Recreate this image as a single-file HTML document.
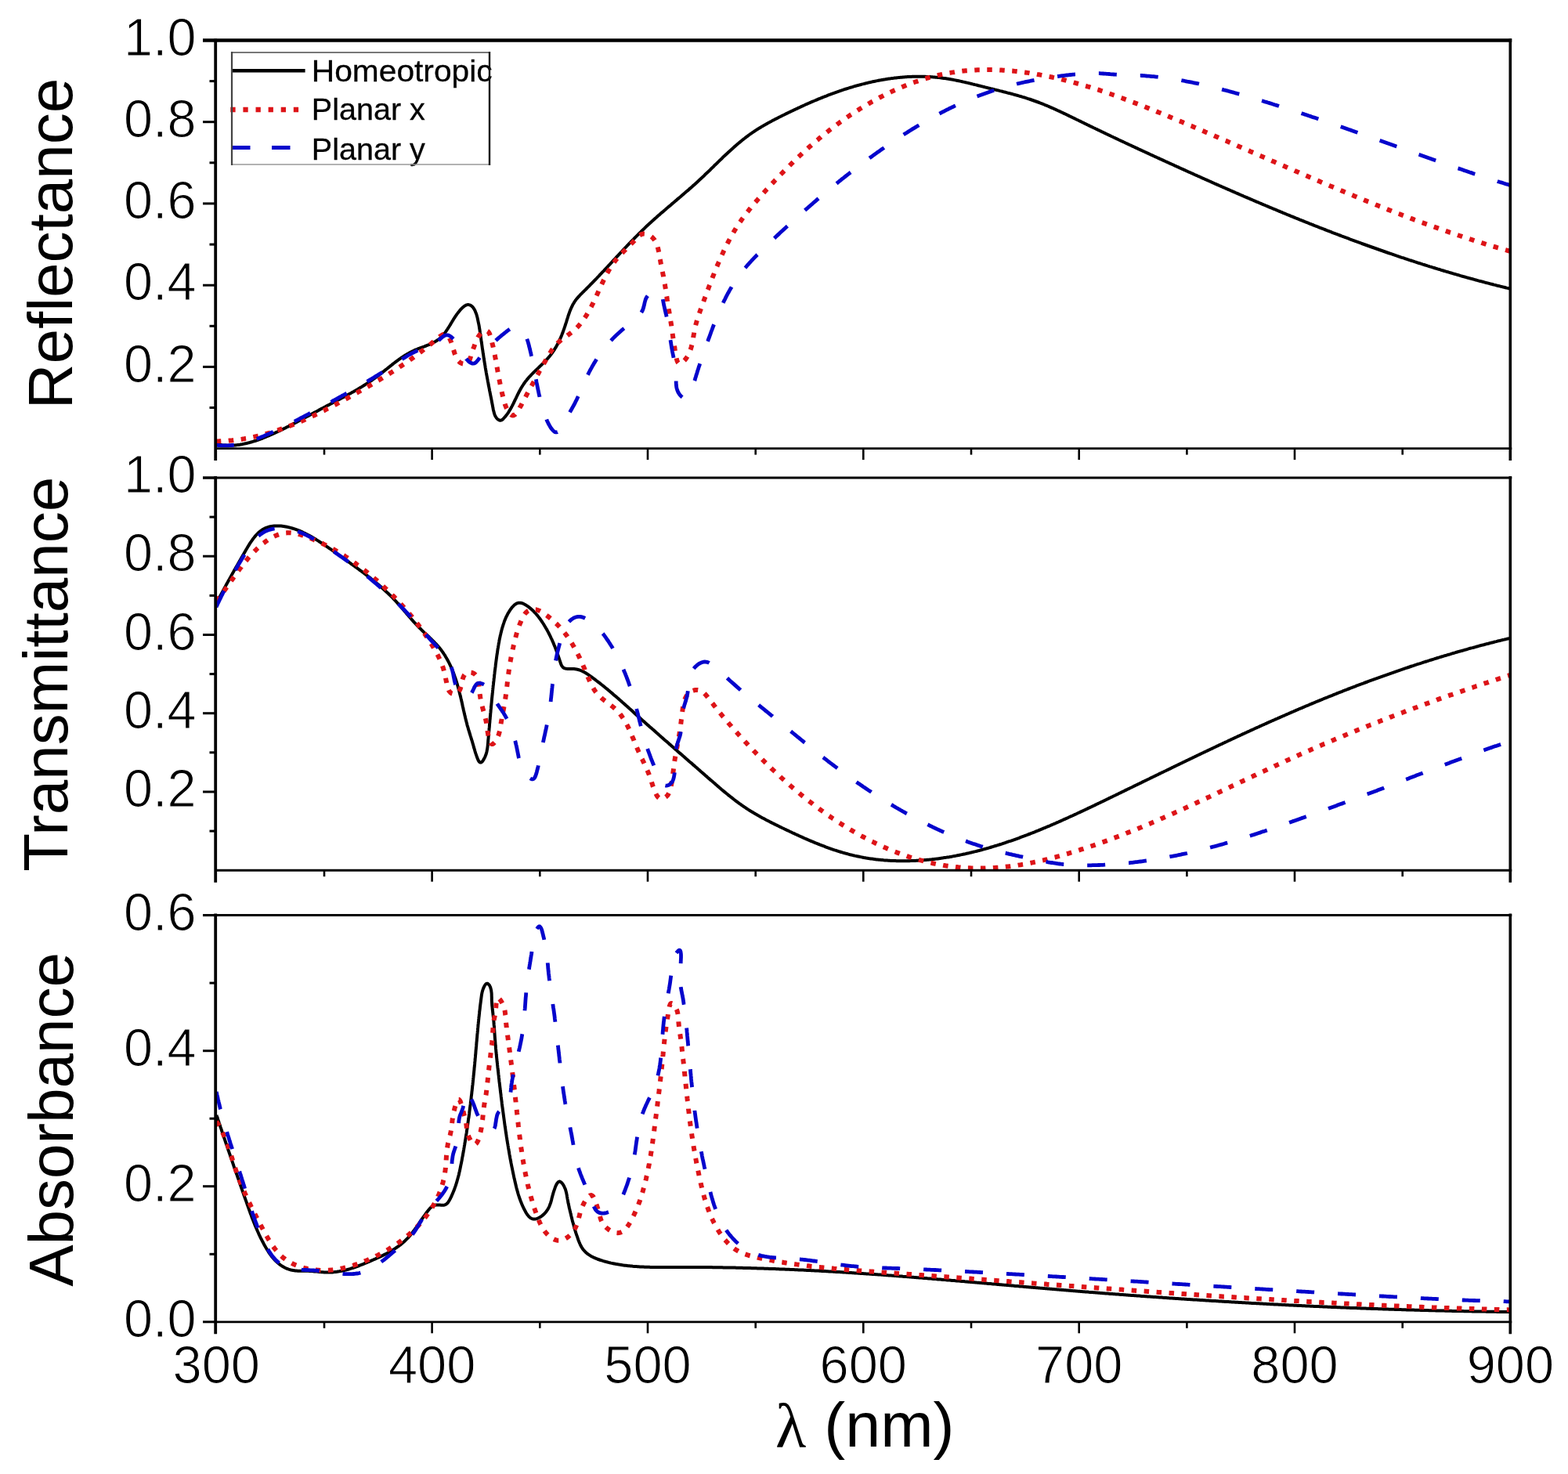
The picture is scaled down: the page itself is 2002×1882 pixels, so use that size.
<!DOCTYPE html>
<html><head><meta charset="utf-8"><title>Reflectance, Transmittance, Absorbance spectra</title>
<style>html,body{margin:0;padding:0;background:#fff;}svg{display:block;}text{font-family:"Liberation Sans",Arial,sans-serif;fill:#000;}.tl{stroke:#fff;stroke-width:1.1px;}.lg{stroke:#000;stroke-width:0.3px;}</style></head><body>
<svg xmlns="http://www.w3.org/2000/svg" width="2002" height="1882" viewBox="0 0 2002 1882">
<rect width="2002" height="1882" fill="#fff"/>
<path d="M275.9,567.1L277.4,567.4L279.0,567.6L280.6,567.9L282.1,568.1L283.7,568.3L285.2,568.4L286.7,568.5L288.3,568.6L289.8,568.7L291.3,568.7L292.8,568.7L294.3,568.7L295.8,568.6L297.3,568.6L298.8,568.5L300.3,568.4L301.8,568.2L303.3,568.1L304.7,567.9L306.2,567.7L307.6,567.4L309.1,567.2L310.6,566.9L312.0,566.6L313.4,566.3L314.9,566.0L316.3,565.6L317.8,565.3L319.2,564.9L320.6,564.5L322.0,564.1L323.4,563.7L324.8,563.2L326.3,562.8L327.7,562.3L329.1,561.8L330.5,561.3L331.9,560.8L333.2,560.3L334.6,559.8L336.0,559.2L337.4,558.7L338.8,558.1L340.2,557.5L341.5,557.0L342.9,556.4L344.3,555.8L345.6,555.2L347.0,554.6L348.4,554.0L349.7,553.4L351.1,552.7L352.4,552.1L353.8,551.5L355.1,550.9L356.5,550.2L357.8,549.6L359.2,548.9L360.5,548.3L361.9,547.6L363.2,546.9L364.6,546.3L365.9,545.6L367.2,544.9L368.6,544.3L369.9,543.6L371.2,542.9L372.6,542.2L373.9,541.5L375.2,540.8L376.6,540.1L377.9,539.4L379.2,538.7L380.5,538.0L381.9,537.3L383.2,536.6L384.5,535.9L385.8,535.2L387.2,534.5L388.5,533.8L389.8,533.1L391.1,532.3L392.4,531.6L393.8,530.9L395.1,530.2L396.4,529.5L397.7,528.8L399.1,528.0L400.4,527.3L401.7,526.6L403.0,525.9L404.4,525.2L405.7,524.5L407.0,523.8L408.3,523.0L409.6,522.3L411.0,521.6L412.3,520.9L413.6,520.2L415.0,519.5L416.3,518.8L417.6,518.1L418.9,517.4L420.3,516.7L421.6,516.0L422.9,515.3L424.3,514.6L425.6,513.9L426.9,513.2L428.3,512.5L429.6,511.8L430.9,511.1L432.2,510.4L433.6,509.7L434.9,509.0L436.2,508.3L437.6,507.6L438.9,506.9L440.2,506.2L441.5,505.5L442.8,504.8L444.1,504.0L445.5,503.3L446.8,502.6L448.1,501.9L449.4,501.1L450.7,500.4L452.0,499.7L453.3,498.9L454.6,498.2L455.9,497.4L457.2,496.7L458.4,495.9L459.7,495.1L461.0,494.4L462.3,493.6L463.6,492.8L464.8,492.0L466.1,491.2L467.3,490.4L468.6,489.6L469.9,488.8L471.1,488.0L472.3,487.1L473.6,486.3L474.8,485.5L476.0,484.6L477.3,483.7L478.5,482.9L479.7,482.0L480.9,481.1L482.1,480.2L483.3,479.3L484.5,478.4L485.7,477.5L486.8,476.6L488.0,475.6L489.2,474.7L490.4,473.8L491.5,472.8L492.7,471.9L493.9,471.0L495.1,470.0L496.2,469.1L497.4,468.2L498.6,467.2L499.8,466.3L500.9,465.4L502.1,464.4L503.3,463.5L504.5,462.6L505.7,461.7L506.9,460.8L508.1,459.9L509.3,459.0L510.5,458.2L511.7,457.3L513.0,456.5L514.2,455.6L515.5,454.8L516.7,454.0L518.0,453.2L519.3,452.5L520.5,451.7L521.8,451.0L523.2,450.2L524.5,449.5L525.8,448.9L527.2,448.2L528.5,447.6L529.9,446.9L531.3,446.3L532.7,445.8L534.1,445.2L535.5,444.7L537.0,444.1L538.4,443.6L539.8,443.1L541.3,442.6L542.7,442.0L544.1,441.5L545.5,440.9L546.9,440.4L548.3,439.8L549.7,439.2L551.1,438.6L552.4,438.0L553.7,437.3L555.0,436.6L556.3,435.8L557.5,435.1L558.7,434.2L559.9,433.4L561.1,432.5L562.2,431.5L563.2,430.5L564.3,429.4L565.3,428.3L566.2,427.2L567.2,426.0L568.1,424.9L569.0,423.7L569.9,422.4L570.7,421.2L571.5,420.0L572.3,418.7L573.1,417.5L573.9,416.2L574.7,415.0L575.4,413.7L576.1,412.5L576.9,411.2L577.6,410.0L578.4,408.8L579.1,407.5L579.9,406.3L580.7,405.1L581.5,403.9L582.4,402.6L583.2,401.4L584.2,400.1L585.1,398.9L586.1,397.7L587.1,396.4L588.2,395.2L589.4,393.9L590.5,392.8L591.8,391.7L593.0,390.7L594.3,390.0L595.6,389.4L596.9,389.1L598.3,389.1L599.6,389.4L600.9,389.9L602.1,390.7L603.3,391.8L604.3,393.0L605.2,394.3L606.0,395.7L606.7,397.2L607.3,398.7L607.9,400.2L608.4,401.6L608.8,403.1L609.2,404.6L609.6,406.0L609.9,407.5L610.2,408.9L610.5,410.4L610.8,411.8L611.1,413.2L611.4,414.7L611.7,416.1L611.9,417.6L612.1,419.0L612.4,420.5L612.6,421.9L612.8,423.4L613.0,424.8L613.3,426.3L613.5,427.8L613.7,429.2L613.9,430.7L614.1,432.2L614.3,433.7L614.5,435.2L614.7,436.7L615.0,438.2L615.2,439.7L615.4,441.2L615.6,442.7L615.8,444.2L616.0,445.7L616.3,447.2L616.5,448.7L616.7,450.2L616.9,451.7L617.2,453.2L617.4,454.7L617.6,456.2L617.8,457.7L618.1,459.2L618.3,460.7L618.5,462.2L618.8,463.7L619.0,465.2L619.3,466.6L619.5,468.1L619.7,469.6L620.0,471.0L620.2,472.5L620.5,473.9L620.7,475.3L621.0,476.8L621.2,478.2L621.5,479.6L621.8,481.1L622.0,482.5L622.3,483.9L622.6,485.3L622.8,486.8L623.1,488.2L623.4,489.6L623.6,491.0L623.9,492.5L624.2,493.9L624.5,495.4L624.8,496.8L625.0,498.3L625.3,499.7L625.6,501.2L625.9,502.7L626.2,504.1L626.5,505.6L626.8,507.1L627.1,508.7L627.4,510.2L627.7,511.7L628.0,513.3L628.3,514.8L628.6,516.4L628.9,518.0L629.2,519.6L629.5,521.2L629.8,522.9L630.2,524.5L630.6,526.1L631.0,527.7L631.5,529.2L632.1,530.6L632.8,532.0L633.6,533.2L634.5,534.4L635.5,535.4L636.7,536.2L637.9,536.7L639.1,536.8L640.3,536.4L641.5,535.7L642.6,534.7L643.7,533.5L644.7,532.3L645.8,531.1L646.7,529.9L647.7,528.6L648.6,527.3L649.4,526.1L650.2,524.7L651.0,523.4L651.8,522.1L652.6,520.8L653.3,519.4L654.0,518.1L654.7,516.7L655.4,515.4L656.1,514.0L656.7,512.6L657.4,511.3L658.0,509.9L658.7,508.6L659.3,507.2L660.0,505.8L660.6,504.5L661.3,503.1L662.0,501.8L662.6,500.5L663.3,499.2L664.1,497.8L664.8,496.5L665.5,495.3L666.3,494.0L667.1,492.7L667.9,491.5L668.7,490.2L669.6,489.0L670.4,487.8L671.3,486.6L672.3,485.5L673.2,484.3L674.2,483.1L675.1,482.0L676.1,480.9L677.2,479.8L678.2,478.7L679.3,477.6L680.3,476.5L681.4,475.5L682.5,474.4L683.6,473.3L684.7,472.3L685.8,471.2L686.9,470.2L688.0,469.1L689.1,468.1L690.1,467.0L691.2,466.0L692.3,464.9L693.4,463.8L694.5,462.8L695.5,461.7L696.6,460.6L697.6,459.5L698.6,458.4L699.6,457.3L700.6,456.2L701.6,455.0L702.5,453.9L703.4,452.7L704.3,451.5L705.2,450.3L706.0,449.1L706.9,447.9L707.7,446.7L708.4,445.4L709.2,444.2L710.0,442.9L710.7,441.6L711.4,440.3L712.1,439.0L712.8,437.7L713.4,436.4L714.1,435.0L714.7,433.7L715.3,432.3L715.9,431.0L716.5,429.6L717.1,428.2L717.6,426.8L718.2,425.4L718.7,424.0L719.2,422.6L719.7,421.2L720.2,419.8L720.7,418.3L721.2,416.9L721.7,415.5L722.1,414.0L722.6,412.6L723.1,411.1L723.5,409.7L724.0,408.2L724.4,406.8L724.9,405.3L725.3,403.9L725.8,402.4L726.3,401.0L726.8,399.6L727.3,398.2L727.8,396.8L728.4,395.4L729.0,394.0L729.6,392.7L730.2,391.4L730.9,390.0L731.5,388.7L732.3,387.5L733.0,386.2L733.8,385.0L734.6,383.8L735.5,382.6L736.4,381.4L737.4,380.3L738.4,379.2L739.4,378.1L740.4,377.0L741.4,375.9L742.5,374.8L743.5,373.8L744.6,372.7L745.7,371.7L746.8,370.6L747.8,369.6L748.9,368.5L750.0,367.4L751.0,366.4L752.1,365.3L753.2,364.2L754.2,363.1L755.3,362.1L756.3,361.0L757.4,359.9L758.4,358.8L759.5,357.8L760.5,356.7L761.6,355.6L762.6,354.5L763.6,353.4L764.7,352.3L765.7,351.2L766.7,350.1L767.8,349.0L768.8,347.9L769.8,346.9L770.9,345.8L771.9,344.7L772.9,343.6L773.9,342.5L775.0,341.4L776.0,340.3L777.0,339.2L778.0,338.1L779.1,337.0L780.1,335.9L781.1,334.8L782.1,333.7L783.1,332.6L784.2,331.5L785.2,330.4L786.2,329.3L787.2,328.2L788.2,327.1L789.3,326.0L790.3,324.9L791.3,323.8L792.3,322.7L793.4,321.6L794.4,320.5L795.4,319.4L796.4,318.3L797.5,317.2L798.5,316.2L799.5,315.1L800.5,314.0L801.6,312.9L802.6,311.8L803.6,310.7L804.7,309.7L805.7,308.6L806.8,307.5L807.8,306.4L808.9,305.4L809.9,304.3L810.9,303.2L812.0,302.2L813.1,301.1L814.1,300.1L815.2,299.0L816.2,298.0L817.3,296.9L818.4,295.9L819.4,294.8L820.5,293.8L821.6,292.7L822.7,291.7L823.7,290.7L824.8,289.6L825.9,288.6L827.0,287.6L828.1,286.6L829.2,285.6L830.3,284.6L831.4,283.5L832.5,282.5L833.6,281.5L834.7,280.5L835.8,279.5L836.9,278.5L838.1,277.6L839.2,276.6L840.3,275.6L841.4,274.6L842.6,273.6L843.7,272.6L844.8,271.6L846.0,270.7L847.1,269.7L848.2,268.7L849.4,267.7L850.5,266.7L851.6,265.8L852.8,264.8L853.9,263.8L855.1,262.9L856.2,261.9L857.3,260.9L858.5,259.9L859.6,259.0L860.8,258.0L861.9,257.0L863.0,256.1L864.2,255.1L865.3,254.1L866.5,253.1L867.6,252.2L868.8,251.2L869.9,250.2L871.0,249.2L872.2,248.3L873.3,247.3L874.5,246.3L875.6,245.3L876.7,244.3L877.9,243.4L879.0,242.4L880.1,241.4L881.3,240.4L882.4,239.4L883.5,238.4L884.6,237.4L885.8,236.4L886.9,235.4L888.0,234.4L889.1,233.4L890.2,232.4L891.3,231.4L892.5,230.3L893.6,229.3L894.7,228.3L895.8,227.3L896.9,226.2L898.0,225.2L899.1,224.2L900.1,223.1L901.2,222.1L902.3,221.1L903.4,220.0L904.5,219.0L905.6,217.9L906.7,216.9L907.7,215.8L908.8,214.8L909.9,213.7L911.0,212.7L912.0,211.6L913.1,210.6L914.2,209.5L915.3,208.5L916.4,207.4L917.4,206.4L918.5,205.3L919.6,204.3L920.7,203.2L921.8,202.2L922.8,201.1L923.9,200.1L925.0,199.1L926.1,198.0L927.2,197.0L928.3,196.0L929.4,195.0L930.5,193.9L931.6,192.9L932.7,191.9L933.8,190.9L934.9,189.9L936.0,188.9L937.1,187.9L938.3,186.9L939.4,185.9L940.5,185.0L941.6,184.0L942.8,183.0L943.9,182.1L945.1,181.1L946.2,180.2L947.4,179.2L948.5,178.3L949.7,177.4L950.9,176.5L952.0,175.6L953.2,174.7L954.4,173.8L955.6,172.9L956.8,172.0L958.0,171.1L959.2,170.3L960.5,169.4L961.7,168.6L962.9,167.8L964.2,167.0L965.4,166.1L966.7,165.3L967.9,164.5L969.2,163.8L970.5,163.0L971.8,162.2L973.0,161.4L974.3,160.7L975.6,159.9L976.9,159.2L978.2,158.5L979.5,157.7L980.8,157.0L982.2,156.3L983.5,155.6L984.8,154.9L986.1,154.1L987.4,153.4L988.8,152.8L990.1,152.1L991.4,151.4L992.8,150.7L994.1,150.0L995.5,149.3L996.8,148.7L998.1,148.0L999.5,147.3L1000.8,146.7L1002.2,146.0L1003.5,145.3L1004.9,144.7L1006.2,144.0L1007.6,143.4L1008.9,142.7L1010.3,142.1L1011.6,141.4L1013.0,140.8L1014.4,140.1L1015.7,139.5L1017.1,138.9L1018.4,138.2L1019.8,137.6L1021.2,137.0L1022.5,136.3L1023.9,135.7L1025.2,135.1L1026.6,134.5L1028.0,133.8L1029.3,133.2L1030.7,132.6L1032.1,132.0L1033.5,131.4L1034.8,130.8L1036.2,130.2L1037.6,129.6L1039.0,129.0L1040.3,128.5L1041.7,127.9L1043.1,127.3L1044.5,126.7L1045.9,126.1L1047.2,125.6L1048.6,125.0L1050.0,124.5L1051.4,123.9L1052.8,123.4L1054.2,122.8L1055.6,122.3L1057.0,121.7L1058.4,121.2L1059.8,120.7L1061.2,120.1L1062.6,119.6L1064.0,119.1L1065.4,118.6L1066.8,118.1L1068.2,117.6L1069.6,117.1L1071.0,116.6L1072.4,116.1L1073.9,115.6L1075.3,115.1L1076.7,114.7L1078.1,114.2L1079.5,113.7L1081.0,113.3L1082.4,112.8L1083.8,112.4L1085.3,111.9L1086.7,111.5L1088.1,111.1L1089.6,110.6L1091.0,110.2L1092.5,109.8L1093.9,109.4L1095.4,109.0L1096.8,108.6L1098.3,108.2L1099.7,107.8L1101.2,107.4L1102.6,107.1L1104.1,106.7L1105.5,106.3L1107.0,106.0L1108.5,105.6L1109.9,105.3L1111.4,105.0L1112.8,104.6L1114.3,104.3L1115.8,104.0L1117.3,103.7L1118.7,103.4L1120.2,103.1L1121.7,102.8L1123.2,102.5L1124.6,102.3L1126.1,102.0L1127.6,101.7L1129.1,101.5L1130.5,101.3L1132.0,101.0L1133.5,100.8L1135.0,100.6L1136.5,100.4L1138.0,100.1L1139.5,99.9L1140.9,99.8L1142.4,99.6L1143.9,99.4L1145.4,99.2L1146.9,99.1L1148.4,98.9L1149.9,98.8L1151.4,98.7L1152.9,98.5L1154.3,98.4L1155.8,98.3L1157.3,98.2L1158.8,98.1L1160.3,98.0L1161.8,98.0L1163.3,97.9L1164.8,97.8L1166.3,97.8L1167.8,97.7L1169.3,97.7L1170.8,97.7L1172.3,97.7L1173.8,97.7L1175.2,97.7L1176.7,97.7L1178.2,97.7L1179.7,97.8L1181.2,97.8L1182.7,97.9L1184.2,97.9L1185.7,98.0L1187.2,98.1L1188.7,98.2L1190.2,98.3L1191.6,98.4L1193.1,98.5L1194.6,98.7L1196.1,98.8L1197.6,99.0L1199.1,99.1L1200.6,99.3L1202.0,99.5L1203.5,99.7L1205.0,99.9L1206.5,100.1L1208.0,100.3L1209.4,100.6L1210.9,100.8L1212.4,101.0L1213.9,101.3L1215.4,101.6L1216.8,101.8L1218.3,102.1L1219.8,102.4L1221.3,102.7L1222.7,103.0L1224.2,103.3L1225.7,103.6L1227.1,103.9L1228.6,104.3L1230.1,104.6L1231.6,104.9L1233.0,105.3L1234.5,105.6L1236.0,105.9L1237.4,106.3L1238.9,106.6L1240.4,107.0L1241.8,107.4L1243.3,107.7L1244.8,108.1L1246.2,108.4L1247.7,108.8L1249.2,109.2L1250.6,109.5L1252.1,109.9L1253.5,110.3L1255.0,110.6L1256.5,111.0L1257.9,111.4L1259.4,111.7L1260.8,112.1L1262.3,112.5L1263.8,112.8L1265.2,113.2L1266.7,113.5L1268.1,113.9L1269.6,114.3L1271.1,114.6L1272.5,115.0L1274.0,115.3L1275.4,115.7L1276.9,116.1L1278.3,116.4L1279.8,116.8L1281.2,117.2L1282.7,117.5L1284.2,117.9L1285.6,118.3L1287.0,118.7L1288.5,119.0L1289.9,119.4L1291.4,119.8L1292.8,120.2L1294.3,120.6L1295.7,121.0L1297.1,121.4L1298.6,121.8L1300.0,122.2L1301.4,122.6L1302.9,123.0L1304.3,123.4L1305.7,123.9L1307.2,124.3L1308.6,124.7L1310.0,125.2L1311.4,125.6L1312.8,126.1L1314.3,126.5L1315.7,127.0L1317.1,127.5L1318.5,128.0L1319.9,128.5L1321.3,129.0L1322.7,129.5L1324.1,130.0L1325.5,130.5L1326.9,131.0L1328.3,131.6L1329.7,132.1L1331.1,132.7L1332.5,133.2L1333.8,133.8L1335.2,134.4L1336.6,134.9L1338.0,135.5L1339.4,136.1L1340.7,136.7L1342.1,137.3L1343.5,137.9L1344.9,138.5L1346.2,139.1L1347.6,139.7L1349.0,140.4L1350.3,141.0L1351.7,141.6L1353.1,142.2L1354.4,142.9L1355.8,143.5L1357.1,144.2L1358.5,144.8L1359.9,145.4L1361.2,146.1L1362.6,146.7L1363.9,147.4L1365.3,148.1L1366.6,148.7L1368.0,149.4L1369.3,150.0L1370.7,150.7L1372.1,151.3L1373.4,152.0L1374.8,152.7L1376.1,153.3L1377.5,154.0L1378.8,154.6L1380.2,155.3L1381.5,156.0L1382.9,156.6L1384.2,157.3L1385.6,157.9L1386.9,158.6L1388.3,159.3L1389.6,159.9L1391.0,160.6L1392.3,161.2L1393.7,161.9L1395.0,162.5L1396.4,163.2L1397.7,163.8L1399.1,164.5L1400.4,165.1L1401.8,165.8L1403.2,166.4L1404.5,167.1L1405.9,167.7L1407.2,168.4L1408.6,169.0L1409.9,169.7L1411.3,170.3L1412.6,171.0L1414.0,171.6L1415.3,172.2L1416.7,172.9L1418.0,173.5L1419.4,174.2L1420.7,174.8L1422.1,175.5L1423.5,176.1L1424.8,176.7L1426.2,177.4L1427.5,178.0L1428.9,178.7L1430.2,179.3L1431.6,179.9L1432.9,180.6L1434.3,181.2L1435.6,181.8L1437.0,182.5L1438.4,183.1L1439.7,183.7L1441.1,184.4L1442.4,185.0L1443.8,185.6L1445.1,186.3L1446.5,186.9L1447.9,187.5L1449.2,188.2L1450.6,188.8L1451.9,189.4L1453.3,190.1L1454.6,190.7L1456.0,191.3L1457.4,191.9L1458.7,192.6L1460.1,193.2L1461.4,193.8L1462.8,194.4L1464.1,195.1L1465.5,195.7L1466.9,196.3L1468.2,197.0L1469.6,197.6L1470.9,198.2L1472.3,198.8L1473.7,199.5L1475.0,200.1L1476.4,200.7L1477.7,201.3L1479.1,201.9L1480.5,202.6L1481.8,203.2L1483.2,203.8L1484.5,204.4L1485.9,205.1L1487.3,205.7L1488.6,206.3L1490.0,206.9L1491.3,207.5L1492.7,208.2L1494.1,208.8L1495.4,209.4L1496.8,210.0L1498.2,210.6L1499.5,211.3L1500.9,211.9L1502.2,212.5L1503.6,213.1L1505.0,213.7L1506.3,214.4L1507.7,215.0L1509.1,215.6L1510.4,216.2L1511.8,216.8L1513.2,217.4L1514.5,218.1L1515.9,218.7L1517.2,219.3L1518.6,219.9L1520.0,220.5L1521.3,221.1L1522.7,221.7L1524.1,222.4L1525.4,223.0L1526.8,223.6L1528.2,224.2L1529.5,224.8L1530.9,225.4L1532.3,226.0L1533.6,226.6L1535.0,227.3L1536.4,227.9L1537.8,228.5L1539.1,229.1L1540.5,229.7L1541.9,230.3L1543.2,230.9L1544.6,231.5L1546.0,232.1L1547.3,232.7L1548.7,233.4L1550.1,234.0L1551.4,234.6L1552.8,235.2L1554.2,235.8L1555.6,236.4L1556.9,237.0L1558.3,237.6L1559.7,238.2L1561.0,238.8L1562.4,239.4L1563.8,240.0L1565.2,240.6L1566.5,241.2L1567.9,241.8L1569.3,242.4L1570.7,243.0L1572.0,243.6L1573.4,244.2L1574.8,244.8L1576.2,245.4L1577.5,246.0L1578.9,246.6L1580.3,247.2L1581.7,247.8L1583.0,248.4L1584.4,249.0L1585.8,249.6L1587.2,250.2L1588.5,250.8L1589.9,251.4L1591.3,252.0L1592.7,252.5L1594.0,253.1L1595.4,253.7L1596.8,254.3L1598.2,254.9L1599.6,255.5L1600.9,256.1L1602.3,256.7L1603.7,257.3L1605.1,257.9L1606.5,258.4L1607.8,259.0L1609.2,259.6L1610.6,260.2L1612.0,260.8L1613.4,261.4L1614.7,261.9L1616.1,262.5L1617.5,263.1L1618.9,263.7L1620.3,264.3L1621.7,264.9L1623.0,265.4L1624.4,266.0L1625.8,266.6L1627.2,267.2L1628.6,267.7L1630.0,268.3L1631.3,268.9L1632.7,269.5L1634.1,270.0L1635.5,270.6L1636.9,271.2L1638.3,271.8L1639.7,272.3L1641.0,272.9L1642.4,273.5L1643.8,274.1L1645.2,274.6L1646.6,275.2L1648.0,275.8L1649.4,276.3L1650.8,276.9L1652.1,277.5L1653.5,278.0L1654.9,278.6L1656.3,279.1L1657.7,279.7L1659.1,280.3L1660.5,280.8L1661.9,281.4L1663.3,282.0L1664.7,282.5L1666.1,283.1L1667.4,283.6L1668.8,284.2L1670.2,284.7L1671.6,285.3L1673.0,285.8L1674.4,286.4L1675.8,287.0L1677.2,287.5L1678.6,288.1L1680.0,288.6L1681.4,289.2L1682.8,289.7L1684.2,290.3L1685.6,290.8L1687.0,291.3L1688.4,291.9L1689.8,292.4L1691.2,293.0L1692.6,293.5L1693.9,294.1L1695.3,294.6L1696.7,295.1L1698.1,295.7L1699.5,296.2L1700.9,296.8L1702.3,297.3L1703.7,297.8L1705.1,298.4L1706.5,298.9L1707.9,299.4L1709.3,300.0L1710.7,300.5L1712.1,301.0L1713.6,301.6L1715.0,302.1L1716.4,302.6L1717.8,303.2L1719.2,303.7L1720.6,304.2L1722.0,304.7L1723.4,305.3L1724.8,305.8L1726.2,306.3L1727.6,306.8L1729.0,307.3L1730.4,307.9L1731.8,308.4L1733.2,308.9L1734.6,309.4L1736.0,309.9L1737.4,310.4L1738.8,311.0L1740.3,311.5L1741.7,312.0L1743.1,312.5L1744.5,313.0L1745.9,313.5L1747.3,314.0L1748.7,314.5L1750.1,315.0L1751.5,315.5L1752.9,316.0L1754.4,316.5L1755.8,317.0L1757.2,317.5L1758.6,318.0L1760.0,318.5L1761.4,319.0L1762.8,319.5L1764.3,320.0L1765.7,320.5L1767.1,321.0L1768.5,321.5L1769.9,322.0L1771.3,322.5L1772.7,323.0L1774.2,323.5L1775.6,323.9L1777.0,324.4L1778.4,324.9L1779.8,325.4L1781.3,325.9L1782.7,326.4L1784.1,326.8L1785.5,327.3L1786.9,327.8L1788.3,328.3L1789.8,328.8L1791.2,329.2L1792.6,329.7L1794.0,330.2L1795.5,330.6L1796.9,331.1L1798.3,331.6L1799.7,332.1L1801.2,332.5L1802.6,333.0L1804.0,333.4L1805.4,333.9L1806.8,334.4L1808.3,334.8L1809.7,335.3L1811.1,335.8L1812.6,336.2L1814.0,336.7L1815.4,337.1L1816.8,337.6L1818.3,338.0L1819.7,338.5L1821.1,338.9L1822.6,339.4L1824.0,339.8L1825.4,340.3L1826.8,340.7L1828.3,341.2L1829.7,341.6L1831.1,342.0L1832.6,342.5L1834.0,342.9L1835.4,343.4L1836.9,343.8L1838.3,344.2L1839.7,344.7L1841.2,345.1L1842.6,345.5L1844.0,346.0L1845.5,346.4L1846.9,346.8L1848.4,347.2L1849.8,347.7L1851.2,348.1L1852.7,348.5L1854.1,348.9L1855.5,349.4L1857.0,349.8L1858.4,350.2L1859.9,350.6L1861.3,351.0L1862.7,351.4L1864.2,351.9L1865.6,352.3L1867.1,352.7L1868.5,353.1L1870.0,353.5L1871.4,353.9L1872.8,354.3L1874.3,354.7L1875.7,355.1L1877.2,355.5L1878.6,355.9L1880.1,356.3L1881.5,356.7L1883.0,357.1L1884.4,357.5L1885.9,357.9L1887.3,358.3L1888.7,358.7L1890.2,359.0L1891.6,359.4L1893.1,359.8L1894.5,360.2L1896.0,360.6L1897.4,361.0L1898.9,361.3L1900.3,361.7L1901.8,362.1L1903.3,362.5L1904.7,362.8L1906.2,363.2L1907.6,363.6L1909.1,363.9L1910.5,364.3L1912.0,364.7L1913.4,365.0L1914.9,365.4L1916.3,365.8L1917.8,366.1L1919.3,366.5L1920.7,366.8L1922.2,367.2L1923.6,367.6L1925.1,367.9L1926.6,368.3L1928.0,368.6" fill="none" stroke="#000" stroke-width="4.0" stroke-linejoin="round"/>
<path d="M275.8,563.4L277.4,563.4L278.9,563.4L280.4,563.3L282.0,563.3L283.5,563.2L285.0,563.1L286.5,563.1L288.0,563.0L289.5,562.9L291.1,562.8L292.6,562.6L294.1,562.5L295.6,562.4L297.1,562.2L298.6,562.0L300.1,561.9L301.6,561.7L303.0,561.5L304.5,561.3L306.0,561.1L307.5,560.9L309.0,560.7L310.5,560.4L311.9,560.2L313.4,559.9L314.9,559.7L316.4,559.4L317.8,559.1L319.3,558.8L320.8,558.5L322.2,558.2L323.7,557.9L325.1,557.6L326.6,557.3L328.0,556.9L329.5,556.6L330.9,556.3L332.4,555.9L333.8,555.5L335.3,555.2L336.7,554.8L338.1,554.4L339.6,554.0L341.0,553.6L342.4,553.2L343.9,552.8L345.3,552.3L346.7,551.9L348.1,551.5L349.6,551.0L351.0,550.6L352.4,550.1L353.8,549.6L355.2,549.2L356.6,548.7L358.1,548.2L359.5,547.7L360.9,547.2L362.3,546.7L363.7,546.2L365.1,545.7L366.5,545.1L367.9,544.6L369.3,544.1L370.7,543.5L372.1,543.0L373.4,542.5L374.8,541.9L376.2,541.3L377.6,540.8L379.0,540.2L380.4,539.6L381.8,539.0L383.1,538.5L384.5,537.9L385.9,537.3L387.3,536.7L388.6,536.1L390.0,535.5L391.4,534.8L392.7,534.2L394.1,533.6L395.5,533.0L396.8,532.3L398.2,531.7L399.5,531.1L400.9,530.4L402.3,529.8L403.6,529.1L405.0,528.5L406.3,527.8L407.7,527.2L409.0,526.5L410.4,525.8L411.7,525.1L413.1,524.5L414.4,523.8L415.7,523.1L417.1,522.4L418.4,521.7L419.8,521.1L421.1,520.4L422.4,519.7L423.8,519.0L425.1,518.3L426.4,517.6L427.8,516.9L429.1,516.2L430.4,515.4L431.8,514.7L433.1,514.0L434.4,513.3L435.7,512.6L437.1,511.9L438.4,511.2L439.7,510.4L441.0,509.7L442.3,509.0L443.7,508.3L445.0,507.5L446.3,506.8L447.6,506.1L448.9,505.3L450.2,504.6L451.5,503.9L452.8,503.1L454.2,502.4L455.5,501.7L456.8,500.9L458.1,500.2L459.4,499.5L460.7,498.7L462.0,498.0L463.3,497.2L464.6,496.5L465.9,495.7L467.2,495.0L468.5,494.3L469.8,493.5L471.1,492.8L472.4,492.0L473.7,491.3L475.0,490.5L476.2,489.7L477.5,489.0L478.8,488.2L480.1,487.5L481.4,486.7L482.7,485.9L484.0,485.2L485.2,484.4L486.5,483.6L487.8,482.9L489.1,482.1L490.3,481.3L491.6,480.5L492.9,479.7L494.2,478.9L495.4,478.2L496.7,477.4L497.9,476.6L499.2,475.8L500.5,475.0L501.7,474.2L503.0,473.4L504.2,472.5L505.5,471.7L506.7,470.9L508.0,470.1L509.2,469.3L510.5,468.4L511.7,467.6L513.0,466.8L514.2,465.9L515.4,465.1L516.7,464.3L517.9,463.4L519.1,462.6L520.4,461.7L521.6,460.8L522.8,460.0L524.0,459.1L525.3,458.2L526.5,457.4L527.7,456.5L528.9,455.6L530.1,454.7L531.3,453.8L532.5,452.9L533.7,452.0L534.9,451.1L536.1,450.2L537.3,449.3L538.5,448.4L539.7,447.5L540.9,446.5L542.0,445.6L543.2,444.7L544.4,443.8L545.6,442.8L546.7,441.9L547.9,441.0L549.0,440.0L550.2,439.1L551.3,438.1L552.5,437.1L553.7,436.2L554.9,435.2L556.1,434.1L557.3,433.1L558.6,432.0L560.0,430.9L561.3,429.8L562.6,428.9L564.0,428.0L565.3,427.3L566.5,426.9L567.8,426.7L568.9,426.8L570.0,427.2L571.0,427.9L572.0,428.9L572.9,430.1L573.7,431.4L574.4,432.9L575.1,434.5L575.8,436.1L576.4,437.8L576.9,439.4L577.4,441.0L577.9,442.5L578.3,444.0L578.7,445.5L579.2,447.0L579.6,448.4L580.0,449.8L580.5,451.3L581.0,452.8L581.6,454.3L582.2,455.8L582.9,457.2L583.7,458.6L584.5,459.9L585.5,461.1L586.6,462.2L587.8,463.1L589.2,463.8L590.6,464.4L592.0,464.7L593.5,464.8L594.9,464.6L596.1,464.1L597.2,463.4L598.1,462.4L598.8,461.2L599.5,459.8L600.1,458.3L600.6,456.7L601.1,455.1L601.5,453.5L602.0,451.9L602.4,450.4L602.9,449.0L603.4,447.6L603.9,446.3L604.4,444.9L604.9,443.6L605.4,442.2L605.9,440.9L606.4,439.5L606.9,438.1L607.5,436.6L608.0,435.2L608.6,433.7L609.3,432.3L610.1,430.8L611.0,429.5L611.9,428.1L613.0,426.8L614.3,425.6L615.6,424.5L616.9,423.6L618.2,422.9L619.6,422.5L620.8,422.3L621.9,422.5L622.9,423.1L623.7,423.9L624.5,425.1L625.2,426.4L625.7,427.9L626.3,429.6L626.7,431.3L627.2,433.0L627.6,434.7L628.0,436.3L628.4,438.0L628.8,439.6L629.2,441.2L629.6,442.7L629.9,444.3L630.2,445.8L630.6,447.3L630.9,448.8L631.2,450.3L631.5,451.8L631.8,453.2L632.0,454.7L632.3,456.1L632.6,457.5L632.8,458.9L633.1,460.3L633.3,461.8L633.6,463.2L633.8,464.6L634.1,466.0L634.3,467.3L634.6,468.7L634.8,470.1L635.0,471.5L635.3,472.9L635.5,474.4L635.8,475.8L636.0,477.2L636.3,478.6L636.6,480.1L636.8,481.5L637.1,483.0L637.4,484.5L637.7,485.9L638.0,487.4L638.3,488.9L638.6,490.4L638.9,491.9L639.2,493.4L639.5,494.9L639.8,496.4L640.1,497.9L640.5,499.4L640.8,500.9L641.1,502.3L641.5,503.8L641.8,505.3L642.2,506.8L642.5,508.2L642.9,509.7L643.3,511.1L643.7,512.5L644.1,514.0L644.5,515.4L645.0,516.9L645.6,518.4L646.2,519.9L646.9,521.5L647.7,523.1L648.5,524.7L649.5,526.2L650.4,527.5L651.4,528.7L652.5,529.6L653.6,530.2L654.6,530.5L655.7,530.3L656.8,529.7L657.9,528.9L658.9,527.8L659.9,526.5L660.9,525.1L661.8,523.6L662.7,522.2L663.5,520.7L664.3,519.3L665.1,518.0L665.8,516.6L666.5,515.2L667.2,513.9L667.9,512.5L668.7,511.2L669.4,509.8L670.1,508.5L670.8,507.2L671.5,505.9L672.2,504.5L672.9,503.2L673.6,501.9L674.3,500.6L675.0,499.3L675.7,498.0L676.4,496.7L677.1,495.4L677.8,494.1L678.5,492.8L679.3,491.5L680.0,490.2L680.7,488.9L681.4,487.6L682.1,486.3L682.8,485.1L683.5,483.8L684.2,482.5L684.9,481.2L685.6,479.9L686.4,478.6L687.1,477.3L687.8,476.0L688.5,474.7L689.2,473.4L690.0,472.2L690.7,470.9L691.4,469.6L692.1,468.3L692.9,466.9L693.6,465.6L694.3,464.3L695.1,463.0L695.8,461.7L696.6,460.4L697.3,459.1L698.1,457.7L698.8,456.4L699.6,455.1L700.4,453.7L701.2,452.4L702.0,451.1L702.8,449.8L703.6,448.5L704.4,447.2L705.3,446.0L706.2,444.7L707.1,443.5L708.1,442.3L709.0,441.2L710.0,440.1L711.1,439.0L712.1,437.9L713.2,436.9L714.4,435.9L715.5,435.0L716.7,434.0L717.9,433.1L719.1,432.2L720.3,431.3L721.6,430.4L722.8,429.5L724.0,428.7L725.2,427.8L726.5,426.9L727.7,426.0L728.8,425.1L730.0,424.2L731.2,423.3L732.3,422.3L733.4,421.4L734.5,420.4L735.5,419.3L736.6,418.3L737.6,417.3L738.6,416.2L739.5,415.1L740.5,414.0L741.4,412.9L742.3,411.7L743.2,410.6L744.1,409.4L744.9,408.2L745.8,407.1L746.6,405.8L747.4,404.6L748.2,403.4L749.0,402.1L749.7,400.9L750.5,399.6L751.2,398.3L752.0,397.0L752.7,395.7L753.4,394.4L754.1,393.1L754.8,391.8L755.5,390.5L756.1,389.1L756.8,387.8L757.5,386.4L758.1,385.1L758.8,383.7L759.4,382.4L760.0,381.0L760.7,379.6L761.3,378.2L761.9,376.9L762.6,375.5L763.2,374.1L763.8,372.7L764.4,371.3L765.1,370.0L765.7,368.6L766.3,367.2L767.0,365.8L767.6,364.4L768.2,363.1L768.9,361.7L769.5,360.3L770.2,359.0L770.8,357.6L771.5,356.3L772.2,354.9L772.8,353.6L773.5,352.2L774.2,350.9L774.9,349.6L775.6,348.3L776.4,347.0L777.1,345.7L777.8,344.4L778.6,343.1L779.4,341.9L780.2,340.6L781.0,339.4L781.8,338.1L782.6,336.9L783.5,335.7L784.3,334.5L785.2,333.4L786.1,332.2L787.0,331.1L788.0,329.9L788.9,328.8L789.9,327.7L790.9,326.6L791.9,325.6L792.9,324.5L794.0,323.4L795.0,322.4L796.0,321.3L797.1,320.2L798.2,319.2L799.2,318.1L800.3,317.1L801.4,316.0L802.5,314.9L803.6,313.8L804.7,312.7L805.7,311.6L806.8,310.5L807.9,309.4L809.0,308.2L810.1,307.1L811.1,305.9L812.2,304.7L813.3,303.5L814.3,302.4L815.5,301.4L816.6,300.4L817.8,299.7L819.1,299.1L820.4,298.7L821.8,298.5L823.3,298.6L824.7,298.8L826.2,299.2L827.7,299.8L829.1,300.5L830.5,301.3L831.7,302.2L832.9,303.2L833.9,304.3L834.9,305.4L835.8,306.6L836.6,307.8L837.3,309.1L837.9,310.5L838.5,311.9L839.0,313.3L839.5,314.8L839.9,316.3L840.3,317.8L840.6,319.3L841.0,320.8L841.3,322.4L841.5,323.9L841.8,325.5L842.1,327.0L842.3,328.6L842.6,330.1L842.9,331.6L843.2,333.1L843.4,334.6L843.7,336.1L844.0,337.6L844.3,339.0L844.6,340.5L844.9,341.9L845.2,343.4L845.4,344.8L845.7,346.3L846.0,347.7L846.3,349.1L846.6,350.6L846.9,352.0L847.1,353.5L847.4,354.9L847.7,356.3L847.9,357.8L848.2,359.2L848.5,360.7L848.7,362.2L849.0,363.6L849.2,365.1L849.4,366.6L849.7,368.1L849.9,369.5L850.1,371.0L850.4,372.5L850.6,374.0L850.8,375.5L851.0,377.0L851.3,378.5L851.5,380.0L851.7,381.5L851.9,383.0L852.2,384.5L852.4,386.0L852.6,387.5L852.9,389.0L853.1,390.5L853.3,392.0L853.6,393.5L853.8,395.0L854.1,396.5L854.3,398.0L854.6,399.4L854.8,400.9L855.0,402.4L855.3,403.9L855.5,405.4L855.8,406.8L856.0,408.3L856.3,409.8L856.5,411.2L856.7,412.7L857.0,414.2L857.2,415.6L857.4,417.1L857.6,418.5L857.8,420.0L858.0,421.4L858.2,422.9L858.4,424.3L858.6,425.7L858.8,427.2L859.0,428.6L859.2,430.0L859.4,431.5L859.6,432.9L859.8,434.3L860.0,435.8L860.3,437.2L860.5,438.6L860.7,440.1L861.0,441.6L861.2,443.1L861.5,444.6L861.7,446.2L862.0,447.9L862.3,449.6L862.6,451.4L862.9,453.3L863.2,455.2L863.6,457.0L864.0,458.8L864.4,460.4L865.0,461.8L865.6,463.0L866.3,463.9L867.1,464.4L868.1,464.4L869.2,464.1L870.3,463.4L871.5,462.5L872.7,461.4L873.8,460.3L874.9,459.1L875.8,457.9L876.7,456.6L877.6,455.3L878.3,454.0L879.1,452.7L879.7,451.3L880.3,449.9L880.9,448.5L881.4,447.1L881.9,445.7L882.3,444.2L882.8,442.7L883.1,441.3L883.5,439.8L883.8,438.3L884.1,436.7L884.4,435.2L884.7,433.7L885.0,432.2L885.2,430.6L885.5,429.1L885.7,427.6L886.0,426.0L886.2,424.5L886.5,423.0L886.8,421.5L887.1,420.0L887.4,418.5L887.8,417.0L888.1,415.6L888.5,414.1L888.9,412.7L889.3,411.2L889.7,409.8L890.1,408.4L890.6,406.9L891.0,405.5L891.5,404.1L891.9,402.7L892.4,401.3L892.9,399.9L893.4,398.5L893.9,397.1L894.4,395.7L894.9,394.3L895.4,392.9L895.9,391.5L896.4,390.2L896.9,388.8L897.4,387.4L897.9,386.0L898.4,384.6L898.9,383.2L899.4,381.8L899.9,380.4L900.4,379.0L901.0,377.6L901.5,376.2L902.0,374.8L902.5,373.4L903.0,372.0L903.5,370.6L904.1,369.2L904.6,367.8L905.1,366.4L905.6,365.0L906.2,363.6L906.7,362.2L907.2,360.8L907.8,359.4L908.3,358.0L908.9,356.6L909.4,355.2L909.9,353.8L910.5,352.4L911.0,351.0L911.6,349.6L912.1,348.2L912.7,346.8L913.3,345.4L913.8,344.0L914.4,342.6L915.0,341.2L915.6,339.8L916.1,338.4L916.7,337.0L917.3,335.7L917.9,334.3L918.5,332.9L919.1,331.5L919.7,330.1L920.3,328.8L920.9,327.4L921.5,326.0L922.1,324.7L922.8,323.3L923.4,321.9L924.0,320.6L924.7,319.2L925.3,317.9L926.0,316.5L926.6,315.2L927.3,313.8L928.0,312.5L928.6,311.1L929.3,309.8L930.0,308.5L930.7,307.1L931.4,305.8L932.1,304.5L932.8,303.2L933.6,301.9L934.3,300.6L935.0,299.3L935.8,298.0L936.5,296.7L937.3,295.4L938.1,294.1L938.8,292.8L939.6,291.6L940.4,290.3L941.2,289.0L942.0,287.8L942.8,286.5L943.7,285.3L944.5,284.0L945.4,282.8L946.2,281.6L947.1,280.4L947.9,279.1L948.8,277.9L949.7,276.7L950.6,275.5L951.5,274.3L952.4,273.1L953.3,271.9L954.2,270.8L955.2,269.6L956.1,268.4L957.0,267.2L958.0,266.1L958.9,264.9L959.9,263.7L960.8,262.6L961.8,261.4L962.8,260.3L963.7,259.1L964.7,258.0L965.7,256.8L966.7,255.7L967.6,254.6L968.6,253.4L969.6,252.3L970.6,251.2L971.6,250.0L972.6,248.9L973.6,247.8L974.6,246.7L975.6,245.6L976.6,244.4L977.6,243.3L978.6,242.2L979.7,241.1L980.7,240.0L981.7,238.9L982.7,237.8L983.7,236.7L984.7,235.6L985.7,234.5L986.8,233.4L987.8,232.3L988.8,231.2L989.8,230.1L990.9,229.0L991.9,227.9L992.9,226.8L994.0,225.8L995.0,224.7L996.0,223.6L997.1,222.5L998.1,221.5L999.2,220.4L1000.2,219.3L1001.3,218.2L1002.3,217.2L1003.4,216.1L1004.4,215.1L1005.5,214.0L1006.5,212.9L1007.6,211.9L1008.7,210.8L1009.7,209.8L1010.8,208.7L1011.9,207.7L1012.9,206.6L1014.0,205.6L1015.1,204.6L1016.1,203.5L1017.2,202.5L1018.3,201.5L1019.4,200.4L1020.5,199.4L1021.6,198.4L1022.7,197.4L1023.7,196.4L1024.8,195.4L1025.9,194.3L1027.0,193.3L1028.1,192.3L1029.3,191.3L1030.4,190.3L1031.5,189.3L1032.6,188.3L1033.7,187.3L1034.8,186.4L1035.9,185.4L1037.1,184.4L1038.2,183.4L1039.3,182.4L1040.4,181.5L1041.6,180.5L1042.7,179.5L1043.9,178.6L1045.0,177.6L1046.1,176.6L1047.3,175.7L1048.4,174.7L1049.6,173.8L1050.8,172.9L1051.9,171.9L1053.1,171.0L1054.2,170.0L1055.4,169.1L1056.6,168.2L1057.8,167.3L1058.9,166.3L1060.1,165.4L1061.3,164.5L1062.5,163.6L1063.7,162.7L1064.9,161.8L1066.1,160.9L1067.3,160.0L1068.5,159.1L1069.7,158.2L1070.9,157.3L1072.1,156.4L1073.3,155.5L1074.5,154.7L1075.8,153.8L1077.0,152.9L1078.2,152.1L1079.4,151.2L1080.7,150.3L1081.9,149.5L1083.2,148.6L1084.4,147.8L1085.6,146.9L1086.9,146.1L1088.2,145.3L1089.4,144.4L1090.7,143.6L1091.9,142.8L1093.2,142.0L1094.5,141.2L1095.8,140.4L1097.0,139.6L1098.3,138.8L1099.6,138.0L1100.9,137.2L1102.2,136.4L1103.5,135.6L1104.8,134.8L1106.1,134.1L1107.4,133.3L1108.7,132.5L1110.0,131.8L1111.3,131.0L1112.6,130.3L1113.9,129.5L1115.3,128.8L1116.6,128.0L1117.9,127.3L1119.2,126.6L1120.6,125.9L1121.9,125.2L1123.2,124.5L1124.6,123.8L1125.9,123.1L1127.3,122.4L1128.6,121.7L1130.0,121.0L1131.3,120.3L1132.7,119.7L1134.0,119.0L1135.4,118.4L1136.8,117.7L1138.1,117.1L1139.5,116.4L1140.9,115.8L1142.2,115.2L1143.6,114.6L1145.0,113.9L1146.4,113.3L1147.8,112.7L1149.1,112.1L1150.5,111.6L1151.9,111.0L1153.3,110.4L1154.7,109.8L1156.1,109.3L1157.5,108.7L1158.9,108.2L1160.3,107.6L1161.7,107.1L1163.1,106.6L1164.5,106.1L1165.9,105.5L1167.4,105.0L1168.8,104.5L1170.2,104.0L1171.6,103.6L1173.0,103.1L1174.5,102.6L1175.9,102.2L1177.3,101.7L1178.7,101.2L1180.2,100.8L1181.6,100.4L1183.0,99.9L1184.5,99.5L1185.9,99.1L1187.3,98.7L1188.8,98.3L1190.2,97.9L1191.7,97.6L1193.1,97.2L1194.6,96.8L1196.0,96.5L1197.5,96.1L1198.9,95.8L1200.4,95.5L1201.8,95.1L1203.3,94.8L1204.8,94.5L1206.2,94.2L1207.7,93.9L1209.1,93.7L1210.6,93.4L1212.1,93.1L1213.5,92.9L1215.0,92.6L1216.5,92.4L1217.9,92.2L1219.4,91.9L1220.9,91.7L1222.4,91.5L1223.8,91.3L1225.3,91.2L1226.8,91.0L1228.3,90.8L1229.8,90.6L1231.2,90.5L1232.7,90.3L1234.2,90.2L1235.7,90.1L1237.2,90.0L1238.7,89.8L1240.2,89.7L1241.6,89.6L1243.1,89.6L1244.6,89.5L1246.1,89.4L1247.6,89.3L1249.1,89.3L1250.6,89.2L1252.1,89.2L1253.6,89.1L1255.1,89.1L1256.6,89.1L1258.0,89.1L1259.5,89.1L1261.0,89.1L1262.5,89.1L1264.0,89.1L1265.5,89.1L1267.0,89.1L1268.5,89.2L1270.0,89.2L1271.5,89.3L1273.0,89.3L1274.5,89.4L1276.0,89.4L1277.5,89.5L1279.0,89.6L1280.5,89.7L1282.0,89.8L1283.5,89.9L1285.0,90.0L1286.5,90.1L1288.0,90.2L1289.5,90.3L1291.0,90.5L1292.5,90.6L1294.0,90.7L1295.5,90.9L1297.0,91.1L1298.5,91.2L1300.0,91.4L1301.5,91.6L1303.0,91.7L1304.5,91.9L1306.0,92.1L1307.4,92.3L1308.9,92.5L1310.4,92.7L1311.9,92.9L1313.4,93.1L1314.9,93.4L1316.4,93.6L1317.9,93.8L1319.4,94.1L1320.9,94.3L1322.4,94.6L1323.8,94.8L1325.3,95.1L1326.8,95.3L1328.3,95.6L1329.8,95.9L1331.3,96.2L1332.7,96.4L1334.2,96.7L1335.7,97.0L1337.2,97.3L1338.7,97.6L1340.1,97.9L1341.6,98.2L1343.1,98.5L1344.6,98.9L1346.0,99.2L1347.5,99.5L1349.0,99.8L1350.4,100.2L1351.9,100.5L1353.4,100.9L1354.8,101.2L1356.3,101.6L1357.7,101.9L1359.2,102.3L1360.7,102.6L1362.1,103.0L1363.6,103.4L1365.0,103.8L1366.5,104.1L1367.9,104.5L1369.4,104.9L1370.8,105.3L1372.3,105.7L1373.7,106.1L1375.2,106.5L1376.6,106.9L1378.0,107.3L1379.5,107.7L1380.9,108.1L1382.4,108.6L1383.8,109.0L1385.2,109.4L1386.7,109.8L1388.1,110.3L1389.5,110.7L1391.0,111.1L1392.4,111.6L1393.8,112.0L1395.3,112.5L1396.7,112.9L1398.1,113.4L1399.5,113.8L1401.0,114.3L1402.4,114.7L1403.8,115.2L1405.2,115.7L1406.6,116.1L1408.1,116.6L1409.5,117.1L1410.9,117.6L1412.3,118.0L1413.7,118.5L1415.1,119.0L1416.6,119.5L1418.0,120.0L1419.4,120.5L1420.8,121.0L1422.2,121.5L1423.6,122.0L1425.0,122.5L1426.4,123.0L1427.8,123.5L1429.2,124.0L1430.6,124.5L1432.0,125.0L1433.4,125.5L1434.8,126.1L1436.3,126.6L1437.7,127.1L1439.1,127.6L1440.5,128.1L1441.9,128.7L1443.3,129.2L1444.6,129.7L1446.0,130.3L1447.4,130.8L1448.8,131.3L1450.2,131.9L1451.6,132.4L1453.0,132.9L1454.4,133.5L1455.8,134.0L1457.2,134.6L1458.6,135.1L1460.0,135.7L1461.4,136.2L1462.8,136.8L1464.2,137.3L1465.5,137.9L1466.9,138.4L1468.3,139.0L1469.7,139.5L1471.1,140.1L1472.5,140.7L1473.9,141.2L1475.3,141.8L1476.7,142.4L1478.0,142.9L1479.4,143.5L1480.8,144.0L1482.2,144.6L1483.6,145.2L1485.0,145.8L1486.4,146.3L1487.7,146.9L1489.1,147.5L1490.5,148.0L1491.9,148.6L1493.3,149.2L1494.7,149.7L1496.0,150.3L1497.4,150.9L1498.8,151.5L1500.2,152.0L1501.6,152.6L1503.0,153.2L1504.3,153.8L1505.7,154.4L1507.1,154.9L1508.5,155.5L1509.9,156.1L1511.2,156.7L1512.6,157.3L1514.0,157.8L1515.4,158.4L1516.8,159.0L1518.1,159.6L1519.5,160.2L1520.9,160.7L1522.3,161.3L1523.7,161.9L1525.0,162.5L1526.4,163.1L1527.8,163.7L1529.2,164.3L1530.6,164.8L1531.9,165.4L1533.3,166.0L1534.7,166.6L1536.1,167.2L1537.5,167.8L1538.8,168.4L1540.2,169.0L1541.6,169.6L1543.0,170.2L1544.3,170.7L1545.7,171.3L1547.1,171.9L1548.5,172.5L1549.9,173.1L1551.2,173.7L1552.6,174.3L1554.0,174.9L1555.4,175.5L1556.7,176.1L1558.1,176.7L1559.5,177.3L1560.9,177.9L1562.2,178.5L1563.6,179.1L1565.0,179.6L1566.4,180.2L1567.7,180.8L1569.1,181.4L1570.5,182.0L1571.9,182.6L1573.3,183.2L1574.6,183.8L1576.0,184.4L1577.4,185.0L1578.8,185.6L1580.1,186.2L1581.5,186.8L1582.9,187.4L1584.3,188.0L1585.6,188.6L1587.0,189.2L1588.4,189.8L1589.8,190.4L1591.1,191.0L1592.5,191.6L1593.9,192.2L1595.3,192.8L1596.6,193.4L1598.0,194.0L1599.4,194.6L1600.8,195.2L1602.1,195.8L1603.5,196.4L1604.9,197.0L1606.3,197.6L1607.6,198.2L1609.0,198.8L1610.4,199.4L1611.8,200.0L1613.1,200.6L1614.5,201.2L1615.9,201.8L1617.3,202.4L1618.6,203.0L1620.0,203.6L1621.4,204.2L1622.8,204.8L1624.1,205.4L1625.5,206.0L1626.9,206.6L1628.3,207.2L1629.6,207.8L1631.0,208.4L1632.4,209.0L1633.8,209.6L1635.2,210.2L1636.5,210.8L1637.9,211.4L1639.3,212.0L1640.7,212.6L1642.0,213.2L1643.4,213.8L1644.8,214.4L1646.2,215.0L1647.5,215.6L1648.9,216.2L1650.3,216.8L1651.7,217.4L1653.0,218.0L1654.4,218.6L1655.8,219.2L1657.2,219.7L1658.6,220.3L1659.9,220.9L1661.3,221.5L1662.7,222.1L1664.1,222.7L1665.4,223.3L1666.8,223.9L1668.2,224.5L1669.6,225.1L1671.0,225.7L1672.3,226.3L1673.7,226.9L1675.1,227.5L1676.5,228.1L1677.9,228.6L1679.2,229.2L1680.6,229.8L1682.0,230.4L1683.4,231.0L1684.8,231.6L1686.1,232.2L1687.5,232.8L1688.9,233.4L1690.3,233.9L1691.7,234.5L1693.0,235.1L1694.4,235.7L1695.8,236.3L1697.2,236.9L1698.6,237.5L1699.9,238.0L1701.3,238.6L1702.7,239.2L1704.1,239.8L1705.5,240.4L1706.9,241.0L1708.2,241.5L1709.6,242.1L1711.0,242.7L1712.4,243.3L1713.8,243.9L1715.2,244.4L1716.5,245.0L1717.9,245.6L1719.3,246.2L1720.7,246.7L1722.1,247.3L1723.5,247.9L1724.9,248.5L1726.2,249.0L1727.6,249.6L1729.0,250.2L1730.4,250.8L1731.8,251.3L1733.2,251.9L1734.6,252.5L1736.0,253.0L1737.3,253.6L1738.7,254.2L1740.1,254.7L1741.5,255.3L1742.9,255.9L1744.3,256.4L1745.7,257.0L1747.1,257.6L1748.5,258.1L1749.8,258.7L1751.2,259.3L1752.6,259.8L1754.0,260.4L1755.4,260.9L1756.8,261.5L1758.2,262.0L1759.6,262.6L1761.0,263.2L1762.4,263.7L1763.8,264.3L1765.2,264.8L1766.6,265.4L1767.9,265.9L1769.3,266.5L1770.7,267.0L1772.1,267.6L1773.5,268.1L1774.9,268.7L1776.3,269.2L1777.7,269.8L1779.1,270.3L1780.5,270.8L1781.9,271.4L1783.3,271.9L1784.7,272.5L1786.1,273.0L1787.5,273.5L1788.9,274.1L1790.3,274.6L1791.7,275.2L1793.1,275.7L1794.5,276.2L1795.9,276.8L1797.3,277.3L1798.7,277.8L1800.1,278.3L1801.5,278.9L1802.9,279.4L1804.3,279.9L1805.7,280.5L1807.1,281.0L1808.5,281.5L1809.9,282.0L1811.4,282.5L1812.8,283.1L1814.2,283.6L1815.6,284.1L1817.0,284.6L1818.4,285.1L1819.8,285.6L1821.2,286.2L1822.6,286.7L1824.0,287.2L1825.4,287.7L1826.8,288.2L1828.3,288.7L1829.7,289.2L1831.1,289.7L1832.5,290.2L1833.9,290.7L1835.3,291.2L1836.7,291.7L1838.1,292.2L1839.6,292.7L1841.0,293.2L1842.4,293.7L1843.8,294.2L1845.2,294.7L1846.6,295.2L1848.1,295.7L1849.5,296.2L1850.9,296.7L1852.3,297.1L1853.7,297.6L1855.1,298.1L1856.6,298.6L1858.0,299.1L1859.4,299.6L1860.8,300.0L1862.2,300.5L1863.7,301.0L1865.1,301.5L1866.5,301.9L1867.9,302.4L1869.4,302.9L1870.8,303.3L1872.2,303.8L1873.6,304.3L1875.1,304.7L1876.5,305.2L1877.9,305.7L1879.4,306.1L1880.8,306.6L1882.2,307.0L1883.6,307.5L1885.1,307.9L1886.5,308.4L1887.9,308.8L1889.4,309.3L1890.8,309.7L1892.2,310.2L1893.7,310.6L1895.1,311.1L1896.5,311.5L1898.0,312.0L1899.4,312.4L1900.8,312.8L1902.3,313.3L1903.7,313.7L1905.1,314.1L1906.6,314.6L1908.0,315.0L1909.5,315.4L1910.9,315.9L1912.3,316.3L1913.8,316.7L1915.2,317.1L1916.7,317.5L1918.1,318.0L1919.6,318.4L1921.0,318.8L1922.5,319.2L1923.9,319.6L1925.3,320.0L1926.8,320.4L1928.2,320.8" fill="none" stroke="#dd1418" stroke-width="6" stroke-dasharray="6.5 9.5"/>
<path d="M275.9,568.2L277.5,568.4L279.0,568.5L280.6,568.7L282.1,568.8L283.7,568.8L285.2,568.9L286.7,568.9L288.3,568.9L289.8,568.9L291.3,568.8L292.8,568.7L294.3,568.6L295.8,568.5L297.3,568.3L298.8,568.1L300.2,567.9L301.7,567.7L303.2,567.5L304.6,567.2L306.1,566.9L307.5,566.6L309.0,566.3L310.4,565.9L311.8,565.6L313.3,565.2L314.7,564.8L316.1,564.4L317.5,563.9L319.0,563.5L320.4,563.0L321.8,562.5L323.2,562.1L324.6,561.6L326.0,561.0L327.4,560.5L328.8,560.0L330.2,559.4L331.5,558.9L332.9,558.3L334.3,557.8L335.7,557.2L337.1,556.6L338.4,556.0L339.8,555.4L341.2,554.8L342.5,554.2L343.9,553.6L345.3,552.9L346.6,552.3L348.0,551.7L349.4,551.1L350.7,550.4L352.1,549.8L353.4,549.1L354.8,548.5L356.1,547.9L357.5,547.2L358.8,546.6L360.2,545.9L361.5,545.2L362.9,544.6L364.2,543.9L365.6,543.3L366.9,542.6L368.3,541.9L369.6,541.2L371.0,540.6L372.3,539.9L373.6,539.2L375.0,538.5L376.3,537.9L377.7,537.2L379.0,536.5L380.3,535.8L381.7,535.1L383.0,534.4L384.3,533.7L385.7,533.0L387.0,532.3L388.3,531.6L389.6,530.9L391.0,530.2L392.3,529.5L393.6,528.8L394.9,528.1L396.3,527.4L397.6,526.7L398.9,526.0L400.2,525.3L401.6,524.6L402.9,523.9L404.2,523.2L405.5,522.5L406.9,521.7L408.2,521.0L409.5,520.3L410.8,519.6L412.1,518.9L413.5,518.2L414.8,517.5L416.1,516.8L417.4,516.0L418.7,515.3L420.0,514.6L421.4,513.9L422.7,513.2L424.0,512.5L425.3,511.7L426.6,511.0L427.9,510.3L429.2,509.6L430.6,508.9L431.9,508.1L433.2,507.4L434.5,506.7L435.8,506.0L437.1,505.2L438.4,504.5L439.7,503.8L441.0,503.1L442.3,502.3L443.6,501.6L444.9,500.9L446.2,500.1L447.5,499.4L448.9,498.7L450.2,497.9L451.5,497.2L452.8,496.4L454.1,495.7L455.3,494.9L456.6,494.2L457.9,493.5L459.2,492.7L460.5,492.0L461.8,491.2L463.1,490.4L464.4,489.7L465.7,488.9L467.0,488.2L468.3,487.4L469.6,486.6L470.8,485.9L472.1,485.1L473.4,484.3L474.7,483.6L476.0,482.8L477.3,482.0L478.5,481.2L479.8,480.4L481.1,479.7L482.4,478.9L483.6,478.1L484.9,477.3L486.2,476.5L487.5,475.7L488.7,474.9L490.0,474.1L491.3,473.3L492.5,472.5L493.8,471.7L495.1,470.8L496.3,470.0L497.6,469.2L498.8,468.4L500.1,467.6L501.3,466.7L502.6,465.9L503.9,465.0L505.1,464.2L506.4,463.4L507.6,462.5L508.8,461.7L510.1,460.8L511.3,460.0L512.6,459.2L513.9,458.3L515.1,457.5L516.4,456.7L517.6,455.9L518.9,455.1L520.2,454.3L521.5,453.5L522.8,452.8L524.1,452.1L525.4,451.3L526.7,450.6L528.0,450.0L529.3,449.3L530.7,448.7L532.0,448.1L533.4,447.5L534.7,446.9L536.1,446.4L537.5,445.9L538.9,445.4L540.4,445.0L541.8,444.6L543.2,444.2L544.7,443.8L546.2,443.4L547.6,443.0L549.1,442.5L550.5,442.0L551.9,441.3L553.3,440.5L554.6,439.6L555.9,438.6L557.2,437.5L558.5,436.3L559.7,435.1L560.9,433.9L562.1,432.7L563.3,431.6L564.5,430.6L565.7,429.7L566.9,428.9L568.0,428.3L569.2,427.9L570.4,427.8L571.7,427.8L572.9,428.2L574.1,428.8L575.4,429.6L576.6,430.6L577.8,431.7L578.9,432.8L580.0,434.1L581.1,435.4L582.1,436.6L583.0,437.9L583.9,439.1L584.7,440.4L585.5,441.6L586.2,442.9L586.9,444.1L587.6,445.4L588.3,446.7L589.0,447.9L589.7,449.2L590.3,450.5L591.1,451.8L591.8,453.1L592.6,454.4L593.5,455.8L594.5,457.1L595.5,458.4L596.7,459.7L597.9,460.9L599.1,462.0L600.4,462.9L601.7,463.6L603.0,464.1L604.3,464.2L605.5,464.0L606.6,463.4L607.7,462.6L608.8,461.5L609.8,460.3L610.8,459.0L611.8,457.6L612.8,456.2L613.8,454.8L614.8,453.6L615.8,452.3L616.8,451.1L617.8,450.0L618.8,448.9L619.8,447.8L620.8,446.7L621.8,445.7L622.8,444.7L623.8,443.7L624.9,442.6L625.9,441.6L626.9,440.6L627.9,439.6L629.0,438.6L630.0,437.6L631.1,436.6L632.2,435.6L633.2,434.6L634.3,433.6L635.4,432.6L636.5,431.6L637.7,430.7L638.8,429.7L640.0,428.7L641.1,427.7L642.3,426.8L643.5,425.8L644.7,424.8L646.0,423.9L647.2,422.9L648.5,421.9L649.8,421.0L651.1,420.1L652.4,419.3L653.8,418.6L655.1,418.1L656.5,417.7L657.9,417.6L659.3,417.7L660.6,418.1L662.0,418.7L663.3,419.5L664.6,420.5L665.8,421.6L667.0,422.7L668.0,423.9L669.0,425.2L669.8,426.5L670.6,427.8L671.3,429.2L671.9,430.5L672.5,431.9L673.0,433.3L673.5,434.7L674.0,436.1L674.4,437.6L674.8,439.0L675.2,440.4L675.5,441.9L675.9,443.3L676.3,444.8L676.6,446.2L677.0,447.7L677.3,449.1L677.7,450.6L678.0,452.1L678.3,453.5L678.7,455.0L679.0,456.5L679.3,457.9L679.6,459.4L679.9,460.9L680.2,462.3L680.5,463.8L680.8,465.3L681.1,466.8L681.4,468.2L681.6,469.7L681.9,471.2L682.2,472.7L682.5,474.1L682.7,475.6L683.0,477.1L683.3,478.5L683.6,480.0L683.8,481.5L684.1,483.0L684.4,484.4L684.7,485.9L684.9,487.4L685.2,488.9L685.5,490.3L685.8,491.8L686.1,493.3L686.4,494.7L686.7,496.2L687.0,497.7L687.3,499.1L687.6,500.6L687.9,502.1L688.2,503.5L688.5,505.0L688.9,506.4L689.2,507.9L689.6,509.3L689.9,510.8L690.3,512.2L690.7,513.7L691.1,515.1L691.4,516.5L691.9,518.0L692.3,519.4L692.7,520.8L693.1,522.2L693.6,523.7L694.0,525.1L694.5,526.5L695.0,527.9L695.5,529.3L696.0,530.7L696.5,532.1L697.0,533.5L697.6,534.9L698.1,536.3L698.7,537.7L699.4,539.1L700.0,540.4L700.7,541.8L701.5,543.1L702.3,544.5L703.1,545.8L704.1,547.2L705.1,548.5L706.1,549.7L707.2,550.7L708.4,551.5L709.5,551.9L710.7,551.9L711.8,551.6L713.0,550.9L714.1,550.0L715.2,548.8L716.3,547.5L717.3,546.0L718.3,544.5L719.2,542.9L720.1,541.3L720.9,539.8L721.7,538.3L722.3,536.9L723.0,535.5L723.6,534.2L724.3,532.9L724.9,531.6L725.5,530.3L726.2,529.0L726.9,527.7L727.6,526.4L728.3,525.1L729.0,523.8L729.8,522.5L730.5,521.2L731.2,519.9L731.9,518.6L732.7,517.3L733.4,515.9L734.1,514.6L734.7,513.3L735.4,511.9L736.1,510.6L736.7,509.3L737.3,507.9L738.0,506.5L738.6,505.2L739.2,503.8L739.8,502.5L740.4,501.1L741.0,499.7L741.6,498.4L742.2,497.0L742.8,495.6L743.4,494.2L744.0,492.9L744.6,491.5L745.2,490.1L745.8,488.7L746.4,487.4L747.0,486.0L747.6,484.6L748.3,483.3L748.9,481.9L749.6,480.6L750.2,479.2L750.9,477.9L751.5,476.5L752.2,475.2L752.9,473.8L753.6,472.5L754.3,471.2L755.1,469.9L755.8,468.5L756.5,467.2L757.3,465.9L758.1,464.6L758.8,463.3L759.6,462.1L760.4,460.8L761.2,459.5L762.0,458.2L762.8,457.0L763.7,455.7L764.5,454.5L765.4,453.2L766.2,452.0L767.1,450.8L768.0,449.6L768.9,448.4L769.8,447.2L770.7,446.0L771.6,444.8L772.5,443.6L773.5,442.4L774.4,441.3L775.4,440.1L776.4,439.0L777.3,437.9L778.3,436.8L779.3,435.7L780.3,434.6L781.4,433.5L782.4,432.4L783.4,431.4L784.5,430.3L785.6,429.3L786.6,428.2L787.7,427.2L788.8,426.2L789.9,425.2L791.0,424.2L792.1,423.2L793.2,422.2L794.4,421.2L795.5,420.2L796.6,419.3L797.8,418.3L798.9,417.3L800.1,416.3L801.2,415.4L802.4,414.4L803.5,413.4L804.7,412.4L805.9,411.5L807.1,410.5L808.2,409.5L809.4,408.5L810.6,407.5L811.8,406.5L812.9,405.5L814.1,404.5L815.1,403.4L816.2,402.3L817.2,401.2L818.1,400.1L818.9,398.9L819.7,397.6L820.3,396.4L820.9,395.0L821.4,393.6L821.8,392.2L822.1,390.8L822.5,389.4L822.8,387.9L823.1,386.5L823.5,385.0L823.9,383.6L824.3,382.2L824.9,380.9L825.6,379.6L826.4,378.4L827.3,377.2L828.4,376.2L829.6,375.2L831.0,374.2L832.4,373.4L834.0,372.6L835.6,371.9L837.2,371.3L838.7,370.8L840.2,370.6L841.6,370.6L842.7,370.9L843.6,371.7L844.3,372.7L844.8,374.1L845.2,375.6L845.5,377.2L845.8,378.9L846.1,380.6L846.3,382.3L846.6,383.9L846.9,385.5L847.2,387.1L847.5,388.7L847.8,390.2L848.2,391.7L848.5,393.2L848.8,394.6L849.1,396.1L849.5,397.5L849.8,398.9L850.1,400.3L850.5,401.7L850.8,403.1L851.1,404.5L851.4,405.9L851.8,407.3L852.1,408.7L852.4,410.1L852.6,411.5L852.9,412.9L853.2,414.3L853.4,415.8L853.7,417.2L853.9,418.7L854.2,420.2L854.4,421.6L854.6,423.1L854.8,424.6L855.0,426.1L855.2,427.6L855.4,429.2L855.6,430.7L855.8,432.2L856.0,433.7L856.2,435.2L856.4,436.7L856.7,438.2L856.9,439.7L857.1,441.2L857.4,442.7L857.6,444.2L857.9,445.7L858.2,447.2L858.4,448.6L858.7,450.1L859.0,451.6L859.3,453.0L859.6,454.5L859.9,455.9L860.1,457.4L860.4,458.8L860.7,460.3L860.9,461.7L861.2,463.2L861.4,464.6L861.7,466.1L861.9,467.5L862.1,469.0L862.3,470.5L862.5,471.9L862.7,473.4L862.8,474.9L862.9,476.4L863.0,477.9L863.1,479.4L863.2,480.9L863.2,482.5L863.2,484.0L863.2,485.5L863.2,487.1L863.2,488.6L863.3,490.2L863.4,491.8L863.6,493.3L863.8,494.9L864.2,496.4L864.7,498.0L865.3,499.5L866.0,501.0L866.9,502.5L867.8,503.9L868.9,505.2L870.0,506.3L871.2,507.2L872.4,507.8L873.6,508.2L874.8,508.2L876.0,507.9L877.2,507.2L878.2,506.3L879.2,505.2L880.1,504.0L880.9,502.8L881.6,501.5L882.3,500.1L882.9,498.7L883.5,497.3L884.0,495.8L884.5,494.3L884.9,492.8L885.4,491.2L885.8,489.7L886.3,488.2L886.7,486.6L887.2,485.1L887.6,483.6L888.0,482.1L888.5,480.7L888.9,479.2L889.4,477.7L889.9,476.2L890.3,474.8L890.8,473.3L891.2,471.9L891.7,470.5L892.1,469.0L892.6,467.6L893.1,466.2L893.5,464.8L894.0,463.3L894.5,461.9L895.0,460.5L895.4,459.1L895.9,457.7L896.4,456.3L896.9,454.9L897.3,453.5L897.8,452.1L898.3,450.7L898.8,449.4L899.3,448.0L899.8,446.6L900.3,445.2L900.8,443.8L901.2,442.4L901.7,441.0L902.2,439.6L902.7,438.2L903.2,436.8L903.7,435.5L904.2,434.1L904.7,432.7L905.3,431.3L905.8,429.9L906.3,428.5L906.8,427.1L907.3,425.7L907.8,424.2L908.3,422.8L908.9,421.4L909.4,420.0L909.9,418.6L910.4,417.2L911.0,415.8L911.5,414.4L912.1,413.0L912.6,411.6L913.2,410.2L913.7,408.8L914.3,407.4L914.9,406.0L915.4,404.6L916.0,403.2L916.6,401.8L917.2,400.4L917.8,399.0L918.3,397.6L918.9,396.2L919.6,394.9L920.2,393.5L920.8,392.1L921.4,390.7L922.0,389.4L922.7,388.0L923.3,386.6L924.0,385.3L924.6,383.9L925.3,382.6L926.0,381.2L926.6,379.9L927.3,378.5L928.0,377.2L928.7,375.9L929.4,374.5L930.2,373.2L930.9,371.9L931.6,370.6L932.4,369.3L933.1,368.0L933.9,366.7L934.6,365.4L935.4,364.2L936.2,362.9L937.0,361.6L937.8,360.4L938.6,359.1L939.5,357.9L940.3,356.7L941.1,355.4L942.0,354.2L942.9,353.0L943.7,351.8L944.6,350.6L945.5,349.4L946.4,348.2L947.4,347.1L948.3,345.9L949.2,344.7L950.2,343.6L951.1,342.4L952.1,341.3L953.0,340.2L954.0,339.0L955.0,337.9L956.0,336.8L957.0,335.7L958.0,334.6L959.0,333.5L960.0,332.4L961.0,331.3L962.1,330.2L963.1,329.1L964.1,328.1L965.2,327.0L966.2,325.9L967.3,324.9L968.3,323.8L969.4,322.7L970.5,321.7L971.5,320.6L972.6,319.6L973.7,318.5L974.8,317.5L975.8,316.4L976.9,315.4L978.0,314.3L979.1,313.3L980.2,312.3L981.2,311.2L982.3,310.2L983.4,309.2L984.5,308.1L985.6,307.1L986.7,306.1L987.8,305.0L988.9,304.0L989.9,303.0L991.0,301.9L992.1,300.9L993.2,299.9L994.3,298.9L995.4,297.8L996.5,296.8L997.6,295.8L998.7,294.8L999.8,293.8L1000.9,292.7L1002.0,291.7L1003.1,290.7L1004.2,289.7L1005.3,288.7L1006.4,287.7L1007.5,286.6L1008.6,285.6L1009.7,284.6L1010.8,283.6L1011.9,282.6L1013.0,281.6L1014.1,280.6L1015.3,279.6L1016.4,278.6L1017.5,277.6L1018.6,276.6L1019.7,275.6L1020.8,274.6L1021.9,273.6L1023.1,272.6L1024.2,271.6L1025.3,270.6L1026.4,269.6L1027.5,268.6L1028.7,267.6L1029.8,266.7L1030.9,265.7L1032.0,264.7L1033.2,263.7L1034.3,262.7L1035.4,261.7L1036.5,260.8L1037.7,259.8L1038.8,258.8L1039.9,257.8L1041.1,256.8L1042.2,255.9L1043.3,254.9L1044.5,253.9L1045.6,253.0L1046.8,252.0L1047.9,251.0L1049.0,250.1L1050.2,249.1L1051.3,248.1L1052.5,247.2L1053.6,246.2L1054.8,245.3L1055.9,244.3L1057.1,243.3L1058.2,242.4L1059.4,241.4L1060.5,240.5L1061.7,239.5L1062.8,238.6L1064.0,237.6L1065.1,236.7L1066.3,235.7L1067.5,234.8L1068.6,233.9L1069.8,232.9L1070.9,232.0L1072.1,231.0L1073.3,230.1L1074.4,229.2L1075.6,228.2L1076.8,227.3L1077.9,226.4L1079.1,225.5L1080.3,224.5L1081.5,223.6L1082.6,222.7L1083.8,221.8L1085.0,220.8L1086.2,219.9L1087.4,219.0L1088.6,218.1L1089.7,217.2L1090.9,216.3L1092.1,215.4L1093.3,214.5L1094.5,213.6L1095.7,212.6L1096.9,211.7L1098.1,210.8L1099.3,209.9L1100.5,209.0L1101.7,208.1L1102.9,207.3L1104.1,206.4L1105.3,205.5L1106.5,204.6L1107.7,203.7L1108.9,202.8L1110.1,201.9L1111.3,201.0L1112.5,200.2L1113.7,199.3L1114.9,198.4L1116.2,197.5L1117.4,196.6L1118.6,195.8L1119.8,194.9L1121.0,194.0L1122.3,193.2L1123.5,192.3L1124.7,191.4L1125.9,190.6L1127.2,189.7L1128.4,188.9L1129.6,188.0L1130.9,187.1L1132.1,186.3L1133.4,185.4L1134.6,184.6L1135.8,183.8L1137.1,182.9L1138.3,182.1L1139.6,181.2L1140.8,180.4L1142.1,179.6L1143.3,178.7L1144.6,177.9L1145.8,177.1L1147.1,176.2L1148.3,175.4L1149.6,174.6L1150.9,173.8L1152.1,173.0L1153.4,172.1L1154.6,171.3L1155.9,170.5L1157.2,169.7L1158.4,168.9L1159.7,168.1L1161.0,167.3L1162.3,166.5L1163.5,165.7L1164.8,164.9L1166.1,164.1L1167.4,163.4L1168.7,162.6L1170.0,161.8L1171.2,161.0L1172.5,160.3L1173.8,159.5L1175.1,158.7L1176.4,158.0L1177.7,157.2L1179.0,156.4L1180.3,155.7L1181.6,154.9L1182.9,154.2L1184.2,153.5L1185.5,152.7L1186.8,152.0L1188.1,151.2L1189.4,150.5L1190.8,149.8L1192.1,149.1L1193.4,148.4L1194.7,147.6L1196.0,146.9L1197.3,146.2L1198.7,145.5L1200.0,144.8L1201.3,144.1L1202.6,143.4L1204.0,142.7L1205.3,142.1L1206.6,141.4L1208.0,140.7L1209.3,140.0L1210.7,139.4L1212.0,138.7L1213.3,138.0L1214.7,137.4L1216.0,136.7L1217.4,136.1L1218.7,135.4L1220.1,134.8L1221.4,134.2L1222.8,133.5L1224.1,132.9L1225.5,132.3L1226.9,131.7L1228.2,131.1L1229.6,130.5L1231.0,129.9L1232.3,129.3L1233.7,128.7L1235.1,128.1L1236.4,127.5L1237.8,126.9L1239.2,126.4L1240.6,125.8L1242.0,125.2L1243.3,124.7L1244.7,124.1L1246.1,123.6L1247.5,123.0L1248.9,122.5L1250.3,122.0L1251.7,121.4L1253.1,120.9L1254.5,120.4L1255.9,119.9L1257.3,119.4L1258.7,118.9L1260.1,118.4L1261.5,117.9L1262.9,117.4L1264.3,116.9L1265.7,116.4L1267.1,116.0L1268.6,115.5L1270.0,115.1L1271.4,114.6L1272.8,114.2L1274.3,113.7L1275.7,113.3L1277.1,112.8L1278.5,112.4L1280.0,112.0L1281.4,111.6L1282.8,111.2L1284.3,110.8L1285.7,110.4L1287.2,110.0L1288.6,109.6L1290.0,109.2L1291.5,108.8L1292.9,108.5L1294.4,108.1L1295.8,107.7L1297.3,107.4L1298.7,107.0L1300.2,106.7L1301.7,106.3L1303.1,106.0L1304.6,105.7L1306.0,105.3L1307.5,105.0L1308.9,104.7L1310.4,104.4L1311.9,104.1L1313.3,103.8L1314.8,103.5L1316.3,103.2L1317.7,102.9L1319.2,102.6L1320.7,102.3L1322.2,102.0L1323.6,101.7L1325.1,101.5L1326.6,101.2L1328.1,100.9L1329.5,100.7L1331.0,100.4L1332.5,100.2L1334.0,99.9L1335.5,99.7L1336.9,99.5L1338.4,99.2L1339.9,99.0L1341.4,98.8L1342.9,98.6L1344.4,98.3L1345.9,98.1L1347.3,97.9L1348.8,97.7L1350.3,97.5L1351.8,97.3L1353.3,97.1L1354.8,96.9L1356.3,96.7L1357.8,96.6L1359.3,96.4L1360.7,96.2L1362.2,96.0L1363.7,95.9L1365.2,95.7L1366.7,95.5L1368.2,95.4L1369.7,95.2L1371.2,95.1L1372.7,94.9L1374.2,94.8L1375.7,94.6L1377.2,94.5L1378.7,94.4L1380.2,94.2L1381.7,94.1L1383.2,94.0L1384.7,93.9L1386.2,93.8L1387.7,93.7L1389.2,93.7L1390.6,93.6L1392.1,93.6L1393.6,93.5L1395.1,93.5L1396.6,93.5L1398.1,93.5L1399.6,93.6L1401.1,93.6L1402.6,93.7L1404.1,93.7L1405.6,93.8L1407.1,93.9L1408.6,94.0L1410.1,94.1L1411.6,94.2L1413.1,94.3L1414.5,94.4L1416.0,94.5L1417.5,94.7L1419.0,94.8L1420.5,94.9L1422.0,95.0L1423.5,95.1L1425.0,95.2L1426.5,95.3L1428.0,95.3L1429.5,95.4L1431.0,95.5L1432.5,95.5L1434.0,95.6L1435.5,95.6L1437.0,95.7L1438.6,95.7L1440.1,95.8L1441.6,95.8L1443.1,95.9L1444.6,95.9L1446.1,96.0L1447.6,96.0L1449.1,96.1L1450.6,96.1L1452.1,96.2L1453.6,96.3L1455.1,96.4L1456.6,96.4L1458.1,96.5L1459.6,96.6L1461.1,96.7L1462.6,96.8L1464.1,97.0L1465.6,97.1L1467.0,97.2L1468.5,97.3L1470.0,97.5L1471.5,97.6L1473.0,97.7L1474.5,97.9L1476.0,98.1L1477.5,98.2L1479.0,98.4L1480.5,98.6L1481.9,98.7L1483.4,98.9L1484.9,99.1L1486.4,99.3L1487.9,99.5L1489.4,99.7L1490.8,99.9L1492.3,100.1L1493.8,100.3L1495.3,100.5L1496.8,100.8L1498.2,101.0L1499.7,101.2L1501.2,101.5L1502.7,101.7L1504.1,101.9L1505.6,102.2L1507.1,102.4L1508.6,102.7L1510.0,103.0L1511.5,103.2L1513.0,103.5L1514.4,103.8L1515.9,104.1L1517.4,104.3L1518.8,104.6L1520.3,104.9L1521.8,105.2L1523.2,105.5L1524.7,105.8L1526.2,106.1L1527.6,106.4L1529.1,106.7L1530.6,107.0L1532.0,107.4L1533.5,107.7L1534.9,108.0L1536.4,108.3L1537.9,108.7L1539.3,109.0L1540.8,109.3L1542.2,109.7L1543.7,110.0L1545.2,110.4L1546.6,110.7L1548.1,111.1L1549.5,111.4L1551.0,111.8L1552.4,112.2L1553.9,112.5L1555.3,112.9L1556.8,113.3L1558.2,113.6L1559.7,114.0L1561.1,114.4L1562.6,114.8L1564.1,115.1L1565.5,115.5L1566.9,115.9L1568.4,116.3L1569.8,116.7L1571.3,117.1L1572.7,117.5L1574.2,117.9L1575.6,118.3L1577.1,118.7L1578.5,119.1L1580.0,119.5L1581.4,119.9L1582.9,120.3L1584.3,120.7L1585.7,121.1L1587.2,121.5L1588.6,122.0L1590.1,122.4L1591.5,122.8L1592.9,123.2L1594.4,123.6L1595.8,124.1L1597.3,124.5L1598.7,124.9L1600.1,125.3L1601.6,125.8L1603.0,126.2L1604.4,126.6L1605.9,127.1L1607.3,127.5L1608.8,127.9L1610.2,128.4L1611.6,128.8L1613.1,129.2L1614.5,129.7L1615.9,130.1L1617.4,130.5L1618.8,131.0L1620.2,131.4L1621.7,131.9L1623.1,132.3L1624.5,132.8L1625.9,133.2L1627.4,133.7L1628.8,134.1L1630.2,134.6L1631.7,135.0L1633.1,135.5L1634.5,135.9L1636.0,136.4L1637.4,136.8L1638.8,137.3L1640.2,137.7L1641.7,138.2L1643.1,138.6L1644.5,139.1L1645.9,139.6L1647.4,140.0L1648.8,140.5L1650.2,140.9L1651.6,141.4L1653.1,141.9L1654.5,142.3L1655.9,142.8L1657.3,143.3L1658.8,143.7L1660.2,144.2L1661.6,144.7L1663.0,145.1L1664.4,145.6L1665.9,146.1L1667.3,146.5L1668.7,147.0L1670.1,147.5L1671.6,148.0L1673.0,148.4L1674.4,148.9L1675.8,149.4L1677.2,149.9L1678.7,150.3L1680.1,150.8L1681.5,151.3L1682.9,151.8L1684.3,152.3L1685.7,152.7L1687.2,153.2L1688.6,153.7L1690.0,154.2L1691.4,154.7L1692.8,155.2L1694.2,155.6L1695.7,156.1L1697.1,156.6L1698.5,157.1L1699.9,157.6L1701.3,158.1L1702.7,158.6L1704.2,159.1L1705.6,159.5L1707.0,160.0L1708.4,160.5L1709.8,161.0L1711.2,161.5L1712.7,162.0L1714.1,162.5L1715.5,163.0L1716.9,163.5L1718.3,164.0L1719.7,164.5L1721.1,165.0L1722.5,165.5L1724.0,165.9L1725.4,166.4L1726.8,166.9L1728.2,167.4L1729.6,167.9L1731.0,168.4L1732.4,168.9L1733.8,169.4L1735.3,169.9L1736.7,170.4L1738.1,170.9L1739.5,171.4L1740.9,171.9L1742.3,172.4L1743.7,172.9L1745.1,173.4L1746.6,173.9L1748.0,174.4L1749.4,174.9L1750.8,175.4L1752.2,175.9L1753.6,176.4L1755.0,176.9L1756.4,177.4L1757.8,178.0L1759.3,178.5L1760.7,179.0L1762.1,179.5L1763.5,180.0L1764.9,180.5L1766.3,181.0L1767.7,181.5L1769.1,182.0L1770.5,182.5L1771.9,183.0L1773.4,183.5L1774.8,184.0L1776.2,184.5L1777.6,185.0L1779.0,185.5L1780.4,186.0L1781.8,186.5L1783.2,187.1L1784.6,187.6L1786.0,188.1L1787.5,188.6L1788.9,189.1L1790.3,189.6L1791.7,190.1L1793.1,190.6L1794.5,191.1L1795.9,191.6L1797.3,192.1L1798.7,192.6L1800.2,193.1L1801.6,193.7L1803.0,194.2L1804.4,194.7L1805.8,195.2L1807.2,195.7L1808.6,196.2L1810.0,196.7L1811.4,197.2L1812.9,197.7L1814.3,198.2L1815.7,198.7L1817.1,199.2L1818.5,199.7L1819.9,200.2L1821.3,200.7L1822.7,201.2L1824.1,201.7L1825.6,202.2L1827.0,202.7L1828.4,203.3L1829.8,203.8L1831.2,204.3L1832.6,204.8L1834.0,205.3L1835.4,205.8L1836.9,206.3L1838.3,206.8L1839.7,207.3L1841.1,207.8L1842.5,208.2L1843.9,208.7L1845.3,209.2L1846.8,209.7L1848.2,210.2L1849.6,210.7L1851.0,211.2L1852.4,211.7L1853.8,212.2L1855.2,212.7L1856.7,213.2L1858.1,213.7L1859.5,214.2L1860.9,214.7L1862.3,215.1L1863.8,215.6L1865.2,216.1L1866.6,216.6L1868.0,217.1L1869.4,217.6L1870.8,218.0L1872.3,218.5L1873.7,219.0L1875.1,219.5L1876.5,220.0L1877.9,220.4L1879.4,220.9L1880.8,221.4L1882.2,221.9L1883.6,222.3L1885.0,222.8L1886.5,223.3L1887.9,223.8L1889.3,224.2L1890.7,224.7L1892.2,225.2L1893.6,225.6L1895.0,226.1L1896.4,226.6L1897.9,227.0L1899.3,227.5L1900.7,227.9L1902.1,228.4L1903.6,228.9L1905.0,229.3L1906.4,229.8L1907.8,230.2L1909.3,230.7L1910.7,231.1L1912.1,231.6L1913.5,232.0L1915.0,232.5L1916.4,232.9L1917.8,233.3L1919.3,233.8L1920.7,234.2L1922.1,234.7L1923.6,235.1L1925.0,235.5L1926.4,236.0L1927.9,236.4" fill="none" stroke="#0505cc" stroke-width="4.8" stroke-dasharray="23 30"/>
<path d="M276.0,771.2L276.8,769.8L277.5,768.3L278.2,766.9L278.9,765.5L279.6,764.1L280.3,762.7L281.0,761.3L281.7,760.0L282.5,758.6L283.2,757.3L283.9,755.9L284.6,754.6L285.3,753.3L286.0,752.0L286.7,750.7L287.4,749.4L288.1,748.1L288.8,746.8L289.5,745.5L290.2,744.2L290.9,743.0L291.6,741.7L292.3,740.4L293.0,739.2L293.7,737.9L294.4,736.7L295.1,735.4L295.8,734.1L296.5,732.9L297.2,731.6L297.9,730.4L298.6,729.1L299.3,727.8L300.1,726.6L300.8,725.3L301.5,724.1L302.2,722.8L303.0,721.5L303.7,720.2L304.5,718.9L305.2,717.6L305.9,716.3L306.7,715.0L307.4,713.7L308.2,712.4L309.0,711.1L309.7,709.7L310.5,708.4L311.3,707.0L312.1,705.6L312.9,704.3L313.6,702.9L314.4,701.5L315.3,700.1L316.1,698.7L316.9,697.3L317.8,696.0L318.6,694.6L319.5,693.2L320.4,691.9L321.3,690.6L322.2,689.3L323.1,688.0L324.1,686.8L325.0,685.6L326.0,684.4L327.0,683.2L328.1,682.1L329.1,681.1L330.2,680.1L331.3,679.1L332.4,678.2L333.6,677.3L334.8,676.5L336.0,675.7L337.3,675.0L338.6,674.4L339.9,673.8L341.2,673.3L342.6,672.9L344.0,672.5L345.4,672.2L346.8,671.9L348.3,671.7L349.8,671.6L351.2,671.5L352.7,671.4L354.3,671.4L355.8,671.4L357.3,671.5L358.8,671.6L360.4,671.8L361.9,672.0L363.4,672.2L364.9,672.5L366.5,672.8L368.0,673.1L369.5,673.5L371.0,673.8L372.4,674.3L373.9,674.7L375.3,675.1L376.8,675.6L378.2,676.1L379.6,676.6L381.0,677.2L382.4,677.7L383.8,678.3L385.2,678.9L386.5,679.5L387.9,680.2L389.2,680.8L390.5,681.5L391.9,682.2L393.2,682.9L394.5,683.6L395.8,684.3L397.1,685.0L398.4,685.8L399.6,686.5L400.9,687.3L402.2,688.0L403.5,688.8L404.7,689.6L406.0,690.4L407.2,691.2L408.5,692.0L409.7,692.8L411.0,693.6L412.2,694.5L413.5,695.3L414.7,696.1L415.9,696.9L417.2,697.8L418.4,698.6L419.6,699.5L420.8,700.3L422.1,701.1L423.3,702.0L424.5,702.9L425.7,703.7L427.0,704.6L428.2,705.4L429.4,706.3L430.6,707.2L431.8,708.0L433.0,708.9L434.3,709.8L435.5,710.6L436.7,711.5L437.9,712.4L439.1,713.3L440.4,714.1L441.6,715.0L442.8,715.9L444.0,716.8L445.3,717.6L446.5,718.5L447.7,719.4L448.9,720.3L450.2,721.2L451.4,722.1L452.6,722.9L453.8,723.8L455.1,724.7L456.3,725.6L457.5,726.5L458.7,727.4L459.9,728.3L461.2,729.2L462.4,730.1L463.6,731.0L464.8,731.9L466.0,732.8L467.2,733.7L468.4,734.7L469.6,735.6L470.8,736.5L472.0,737.4L473.2,738.4L474.3,739.3L475.5,740.2L476.7,741.2L477.9,742.1L479.0,743.1L480.2,744.0L481.3,745.0L482.5,746.0L483.6,746.9L484.8,747.9L485.9,748.9L487.1,749.9L488.2,750.9L489.3,751.9L490.4,752.9L491.5,753.9L492.6,754.9L493.7,755.9L494.8,756.9L495.9,758.0L496.9,759.0L498.0,760.0L499.1,761.1L500.1,762.1L501.2,763.2L502.2,764.3L503.2,765.3L504.2,766.4L505.2,767.5L506.3,768.6L507.2,769.7L508.2,770.8L509.2,771.9L510.2,773.0L511.2,774.1L512.2,775.3L513.1,776.4L514.1,777.5L515.1,778.6L516.0,779.8L517.0,780.9L518.0,782.0L518.9,783.2L519.9,784.3L520.9,785.4L521.8,786.6L522.8,787.7L523.8,788.8L524.8,790.0L525.7,791.1L526.7,792.2L527.7,793.3L528.7,794.4L529.7,795.5L530.8,796.6L531.8,797.7L532.8,798.8L533.9,799.9L534.9,801.0L536.0,802.1L537.1,803.1L538.1,804.2L539.2,805.3L540.3,806.3L541.4,807.4L542.5,808.4L543.7,809.5L544.8,810.5L545.9,811.5L547.0,812.6L548.1,813.6L549.2,814.7L550.3,815.7L551.4,816.8L552.5,817.9L553.5,818.9L554.6,820.0L555.6,821.1L556.7,822.2L557.7,823.3L558.7,824.4L559.7,825.5L560.6,826.6L561.6,827.8L562.5,829.0L563.4,830.1L564.3,831.3L565.1,832.5L566.0,833.7L566.8,835.0L567.6,836.2L568.4,837.4L569.1,838.7L569.9,840.0L570.6,841.2L571.3,842.5L572.0,843.8L572.7,845.1L573.4,846.4L574.1,847.8L574.7,849.1L575.3,850.4L575.9,851.8L576.5,853.2L577.1,854.5L577.7,855.9L578.2,857.3L578.8,858.7L579.3,860.0L579.8,861.4L580.3,862.8L580.8,864.3L581.3,865.7L581.8,867.1L582.2,868.5L582.7,869.9L583.1,871.4L583.6,872.8L584.0,874.3L584.4,875.7L584.8,877.2L585.2,878.6L585.6,880.1L586.0,881.5L586.4,883.0L586.7,884.4L587.1,885.9L587.5,887.4L587.8,888.8L588.2,890.3L588.5,891.7L588.9,893.2L589.2,894.7L589.5,896.1L589.9,897.6L590.2,899.1L590.5,900.5L590.8,902.0L591.2,903.5L591.5,905.0L591.8,906.4L592.2,907.9L592.5,909.4L592.8,910.8L593.2,912.3L593.5,913.8L593.9,915.2L594.2,916.7L594.6,918.1L594.9,919.6L595.3,921.1L595.7,922.5L596.1,924.0L596.4,925.4L596.8,926.9L597.3,928.3L597.7,929.8L598.1,931.2L598.5,932.7L599.0,934.1L599.4,935.5L599.9,937.0L600.3,938.4L600.7,939.8L601.2,941.2L601.6,942.6L602.0,944.0L602.5,945.4L602.9,946.8L603.3,948.1L603.7,949.5L604.1,950.8L604.5,952.2L604.8,953.6L605.2,955.0L605.7,956.4L606.1,957.8L606.5,959.3L607.0,960.8L607.5,962.4L608.1,964.1L608.7,965.8L609.3,967.6L610.0,969.3L610.7,970.9L611.5,972.2L612.4,973.2L613.3,973.6L614.2,973.5L615.2,972.9L616.2,971.8L617.1,970.4L618.0,968.9L618.8,967.3L619.5,965.8L620.1,964.3L620.7,962.7L621.1,961.2L621.5,959.7L621.8,958.2L622.1,956.7L622.3,955.2L622.5,953.7L622.7,952.3L622.8,950.8L623.0,949.3L623.1,947.8L623.2,946.3L623.3,944.8L623.5,943.3L623.6,941.9L623.7,940.4L623.9,938.9L624.0,937.4L624.1,935.9L624.2,934.4L624.4,933.0L624.5,931.5L624.6,930.0L624.8,928.5L624.9,927.0L625.0,925.5L625.1,924.0L625.3,922.6L625.4,921.1L625.5,919.6L625.7,918.1L625.8,916.6L625.9,915.1L626.1,913.6L626.2,912.2L626.3,910.7L626.5,909.2L626.6,907.7L626.7,906.2L626.9,904.7L627.0,903.2L627.1,901.7L627.3,900.3L627.4,898.8L627.6,897.3L627.7,895.8L627.8,894.3L628.0,892.8L628.1,891.3L628.3,889.8L628.4,888.3L628.6,886.9L628.7,885.4L628.9,883.9L629.0,882.4L629.2,880.9L629.3,879.4L629.5,877.9L629.6,876.4L629.8,874.9L630.0,873.4L630.1,871.9L630.3,870.5L630.5,869.0L630.6,867.5L630.8,866.0L631.0,864.5L631.1,863.0L631.3,861.5L631.5,860.0L631.6,858.5L631.8,857.0L632.0,855.5L632.2,854.0L632.4,852.5L632.6,851.0L632.7,849.5L632.9,848.0L633.1,846.5L633.3,845.0L633.5,843.5L633.7,842.0L633.9,840.5L634.1,839.0L634.3,837.5L634.5,836.0L634.8,834.5L635.0,833.0L635.2,831.5L635.4,830.0L635.6,828.5L635.9,827.1L636.1,825.6L636.4,824.1L636.6,822.6L636.9,821.1L637.2,819.6L637.4,818.2L637.7,816.7L638.0,815.2L638.3,813.8L638.6,812.3L638.9,810.9L639.3,809.4L639.6,808.0L640.0,806.6L640.3,805.2L640.7,803.7L641.1,802.3L641.5,800.9L641.9,799.6L642.4,798.2L642.8,796.8L643.3,795.4L643.7,794.1L644.2,792.7L644.8,791.4L645.3,790.0L645.9,788.7L646.5,787.3L647.2,786.0L647.9,784.6L648.6,783.2L649.5,781.8L650.3,780.4L651.3,778.9L652.3,777.5L653.3,776.1L654.4,774.8L655.6,773.6L656.8,772.4L658.0,771.5L659.3,770.7L660.5,770.1L661.9,769.8L663.2,769.7L664.6,769.7L665.9,770.0L667.3,770.4L668.6,771.0L670.0,771.7L671.3,772.4L672.6,773.3L673.9,774.2L675.2,775.1L676.4,776.1L677.6,777.1L678.7,778.1L679.9,779.1L681.0,780.2L682.0,781.3L683.1,782.4L684.1,783.5L685.1,784.6L686.1,785.8L687.0,786.9L687.9,788.1L688.8,789.3L689.7,790.5L690.6,791.7L691.4,793.0L692.3,794.2L693.1,795.5L693.9,796.7L694.7,798.0L695.4,799.2L696.2,800.5L696.9,801.8L697.7,803.0L698.4,804.3L699.1,805.6L699.8,806.9L700.5,808.2L701.1,809.5L701.8,810.8L702.5,812.2L703.1,813.5L703.7,814.8L704.4,816.2L705.0,817.5L705.6,818.9L706.2,820.2L706.8,821.6L707.3,823.0L707.9,824.4L708.5,825.8L709.0,827.2L709.6,828.6L710.1,830.0L710.6,831.5L711.2,832.9L711.7,834.4L712.2,835.9L712.7,837.4L713.2,838.8L713.7,840.4L714.2,841.9L714.7,843.4L715.2,844.9L715.7,846.5L716.2,847.9L716.8,849.3L717.5,850.5L718.4,851.6L719.3,852.5L720.5,853.1L721.8,853.5L723.2,853.8L724.7,853.9L726.3,853.9L728.0,853.9L729.6,853.9L731.3,853.9L732.9,854.0L734.4,854.2L736.0,854.5L737.4,854.8L738.9,855.2L740.3,855.7L741.7,856.2L743.0,856.8L744.3,857.4L745.6,858.1L746.9,858.8L748.2,859.5L749.4,860.3L750.7,861.1L751.9,862.0L753.1,862.8L754.3,863.7L755.5,864.5L756.7,865.4L757.9,866.3L759.1,867.2L760.3,868.1L761.4,869.0L762.6,869.9L763.8,870.8L765.0,871.7L766.2,872.6L767.3,873.5L768.5,874.5L769.7,875.4L770.8,876.3L772.0,877.3L773.1,878.2L774.3,879.2L775.5,880.1L776.6,881.1L777.8,882.0L778.9,883.0L780.1,884.0L781.2,884.9L782.4,885.9L783.5,886.9L784.6,887.9L785.8,888.8L786.9,889.8L788.0,890.8L789.2,891.8L790.3,892.8L791.4,893.8L792.6,894.8L793.7,895.8L794.8,896.8L796.0,897.8L797.1,898.8L798.2,899.8L799.3,900.8L800.5,901.8L801.6,902.8L802.7,903.8L803.8,904.8L805.0,905.8L806.1,906.8L807.2,907.8L808.3,908.8L809.4,909.9L810.6,910.9L811.7,911.9L812.8,912.9L813.9,913.9L815.0,914.9L816.1,915.9L817.3,916.9L818.4,917.9L819.5,918.9L820.6,919.9L821.7,920.9L822.9,921.9L824.0,922.9L825.1,923.9L826.2,924.9L827.3,925.9L828.5,926.9L829.6,927.9L830.7,928.9L831.8,929.8L832.9,930.8L834.1,931.8L835.2,932.8L836.3,933.8L837.4,934.8L838.5,935.8L839.7,936.8L840.8,937.8L841.9,938.8L843.0,939.7L844.1,940.7L845.3,941.7L846.4,942.7L847.5,943.7L848.6,944.7L849.8,945.7L850.9,946.6L852.0,947.6L853.1,948.6L854.2,949.6L855.4,950.6L856.5,951.6L857.6,952.5L858.7,953.5L859.9,954.5L861.0,955.5L862.1,956.5L863.2,957.5L864.4,958.4L865.5,959.4L866.6,960.4L867.7,961.4L868.9,962.4L870.0,963.3L871.1,964.3L872.2,965.3L873.4,966.3L874.5,967.3L875.6,968.3L876.7,969.2L877.9,970.2L879.0,971.2L880.1,972.2L881.3,973.2L882.4,974.1L883.5,975.1L884.6,976.1L885.8,977.1L886.9,978.1L888.0,979.1L889.2,980.0L890.3,981.0L891.4,982.0L892.6,983.0L893.7,984.0L894.8,985.0L896.0,986.0L897.1,986.9L898.2,987.9L899.4,988.9L900.5,989.9L901.6,990.9L902.8,991.9L903.9,992.9L905.0,993.9L906.2,994.9L907.3,995.9L908.4,996.8L909.6,997.8L910.7,998.8L911.9,999.8L913.0,1000.8L914.1,1001.8L915.3,1002.8L916.4,1003.8L917.6,1004.7L918.7,1005.7L919.9,1006.7L921.0,1007.7L922.2,1008.7L923.3,1009.6L924.5,1010.6L925.7,1011.6L926.8,1012.5L928.0,1013.5L929.2,1014.4L930.3,1015.4L931.5,1016.3L932.7,1017.3L933.9,1018.2L935.1,1019.1L936.2,1020.0L937.4,1021.0L938.6,1021.9L939.8,1022.8L941.0,1023.7L942.2,1024.6L943.4,1025.5L944.6,1026.3L945.9,1027.2L947.1,1028.1L948.3,1028.9L949.5,1029.8L950.8,1030.6L952.0,1031.4L953.2,1032.3L954.5,1033.1L955.7,1033.9L957.0,1034.7L958.3,1035.5L959.5,1036.2L960.8,1037.0L962.1,1037.8L963.3,1038.5L964.6,1039.3L965.9,1040.0L967.2,1040.8L968.5,1041.5L969.8,1042.2L971.1,1043.0L972.4,1043.7L973.7,1044.4L975.0,1045.1L976.3,1045.8L977.6,1046.5L978.9,1047.2L980.3,1047.9L981.6,1048.5L982.9,1049.2L984.2,1049.9L985.6,1050.6L986.9,1051.2L988.2,1051.9L989.6,1052.6L990.9,1053.2L992.3,1053.9L993.6,1054.5L994.9,1055.2L996.3,1055.9L997.6,1056.5L999.0,1057.2L1000.3,1057.8L1001.7,1058.5L1003.0,1059.1L1004.4,1059.8L1005.8,1060.4L1007.1,1061.0L1008.5,1061.7L1009.8,1062.3L1011.2,1063.0L1012.5,1063.6L1013.9,1064.2L1015.3,1064.9L1016.6,1065.5L1018.0,1066.1L1019.4,1066.8L1020.7,1067.4L1022.1,1068.0L1023.5,1068.6L1024.9,1069.2L1026.2,1069.9L1027.6,1070.5L1029.0,1071.1L1030.4,1071.7L1031.8,1072.3L1033.1,1072.9L1034.5,1073.5L1035.9,1074.0L1037.3,1074.6L1038.7,1075.2L1040.1,1075.8L1041.5,1076.4L1042.9,1076.9L1044.3,1077.5L1045.7,1078.0L1047.1,1078.6L1048.5,1079.1L1049.9,1079.7L1051.3,1080.2L1052.7,1080.7L1054.1,1081.3L1055.5,1081.8L1056.9,1082.3L1058.3,1082.8L1059.7,1083.3L1061.1,1083.8L1062.6,1084.3L1064.0,1084.8L1065.4,1085.3L1066.8,1085.7L1068.2,1086.2L1069.7,1086.6L1071.1,1087.1L1072.5,1087.5L1074.0,1088.0L1075.4,1088.4L1076.8,1088.8L1078.3,1089.2L1079.7,1089.6L1081.2,1090.0L1082.6,1090.4L1084.0,1090.8L1085.5,1091.2L1086.9,1091.5L1088.4,1091.9L1089.8,1092.2L1091.3,1092.6L1092.8,1092.9L1094.2,1093.2L1095.7,1093.5L1097.1,1093.8L1098.6,1094.1L1100.1,1094.4L1101.5,1094.7L1103.0,1095.0L1104.5,1095.2L1105.9,1095.5L1107.4,1095.7L1108.9,1096.0L1110.4,1096.2L1111.8,1096.4L1113.3,1096.6L1114.8,1096.8L1116.3,1097.0L1117.8,1097.2L1119.3,1097.4L1120.7,1097.5L1122.2,1097.7L1123.7,1097.8L1125.2,1098.0L1126.7,1098.1L1128.2,1098.3L1129.7,1098.4L1131.2,1098.5L1132.7,1098.6L1134.2,1098.7L1135.7,1098.8L1137.2,1098.9L1138.7,1098.9L1140.2,1099.0L1141.7,1099.1L1143.2,1099.1L1144.7,1099.2L1146.2,1099.2L1147.7,1099.2L1149.2,1099.2L1150.7,1099.3L1152.2,1099.3L1153.7,1099.3L1155.2,1099.3L1156.7,1099.3L1158.2,1099.2L1159.7,1099.2L1161.2,1099.2L1162.7,1099.1L1164.2,1099.1L1165.7,1099.0L1167.2,1099.0L1168.7,1098.9L1170.2,1098.8L1171.7,1098.7L1173.2,1098.6L1174.7,1098.6L1176.2,1098.5L1177.7,1098.3L1179.2,1098.2L1180.7,1098.1L1182.2,1098.0L1183.7,1097.8L1185.2,1097.7L1186.7,1097.6L1188.2,1097.4L1189.7,1097.3L1191.2,1097.1L1192.6,1096.9L1194.1,1096.7L1195.6,1096.6L1197.1,1096.4L1198.6,1096.2L1200.1,1096.0L1201.6,1095.8L1203.1,1095.6L1204.6,1095.3L1206.0,1095.1L1207.5,1094.9L1209.0,1094.6L1210.5,1094.4L1212.0,1094.2L1213.4,1093.9L1214.9,1093.7L1216.4,1093.4L1217.9,1093.1L1219.4,1092.9L1220.8,1092.6L1222.3,1092.3L1223.8,1092.0L1225.2,1091.7L1226.7,1091.4L1228.2,1091.1L1229.6,1090.8L1231.1,1090.5L1232.6,1090.2L1234.0,1089.8L1235.5,1089.5L1237.0,1089.2L1238.4,1088.8L1239.9,1088.5L1241.3,1088.1L1242.8,1087.8L1244.2,1087.4L1245.7,1087.1L1247.2,1086.7L1248.6,1086.3L1250.1,1086.0L1251.5,1085.6L1253.0,1085.2L1254.4,1084.8L1255.8,1084.4L1257.3,1084.0L1258.7,1083.6L1260.2,1083.2L1261.6,1082.8L1263.1,1082.4L1264.5,1082.0L1265.9,1081.5L1267.4,1081.1L1268.8,1080.7L1270.2,1080.2L1271.7,1079.8L1273.1,1079.4L1274.5,1078.9L1275.9,1078.5L1277.4,1078.0L1278.8,1077.6L1280.2,1077.1L1281.6,1076.6L1283.1,1076.2L1284.5,1075.7L1285.9,1075.2L1287.3,1074.7L1288.7,1074.2L1290.1,1073.8L1291.6,1073.3L1293.0,1072.8L1294.4,1072.3L1295.8,1071.8L1297.2,1071.3L1298.6,1070.8L1300.0,1070.3L1301.4,1069.8L1302.8,1069.2L1304.2,1068.7L1305.6,1068.2L1307.0,1067.7L1308.4,1067.1L1309.8,1066.6L1311.2,1066.1L1312.6,1065.5L1314.0,1065.0L1315.4,1064.5L1316.8,1063.9L1318.2,1063.4L1319.6,1062.8L1321.0,1062.3L1322.4,1061.7L1323.8,1061.1L1325.2,1060.6L1326.5,1060.0L1327.9,1059.5L1329.3,1058.9L1330.7,1058.3L1332.1,1057.7L1333.5,1057.2L1334.8,1056.6L1336.2,1056.0L1337.6,1055.4L1339.0,1054.8L1340.4,1054.3L1341.7,1053.7L1343.1,1053.1L1344.5,1052.5L1345.9,1051.9L1347.3,1051.3L1348.6,1050.7L1350.0,1050.1L1351.4,1049.5L1352.7,1048.9L1354.1,1048.3L1355.5,1047.7L1356.9,1047.0L1358.2,1046.4L1359.6,1045.8L1361.0,1045.2L1362.3,1044.6L1363.7,1044.0L1365.1,1043.3L1366.4,1042.7L1367.8,1042.1L1369.2,1041.5L1370.5,1040.9L1371.9,1040.2L1373.3,1039.6L1374.6,1039.0L1376.0,1038.3L1377.3,1037.7L1378.7,1037.1L1380.1,1036.4L1381.4,1035.8L1382.8,1035.2L1384.2,1034.5L1385.5,1033.9L1386.9,1033.2L1388.2,1032.6L1389.6,1031.9L1390.9,1031.3L1392.3,1030.7L1393.7,1030.0L1395.0,1029.4L1396.4,1028.7L1397.7,1028.1L1399.1,1027.4L1400.4,1026.8L1401.8,1026.1L1403.1,1025.5L1404.5,1024.8L1405.9,1024.2L1407.2,1023.5L1408.6,1022.9L1409.9,1022.2L1411.3,1021.6L1412.6,1020.9L1414.0,1020.2L1415.3,1019.6L1416.7,1018.9L1418.0,1018.3L1419.4,1017.6L1420.7,1017.0L1422.1,1016.3L1423.4,1015.7L1424.8,1015.0L1426.1,1014.4L1427.5,1013.7L1428.8,1013.0L1430.2,1012.4L1431.5,1011.7L1432.9,1011.1L1434.2,1010.4L1435.6,1009.8L1436.9,1009.1L1438.3,1008.4L1439.6,1007.8L1441.0,1007.1L1442.3,1006.5L1443.7,1005.8L1445.0,1005.2L1446.4,1004.5L1447.7,1003.8L1449.1,1003.2L1450.4,1002.5L1451.8,1001.9L1453.1,1001.2L1454.5,1000.6L1455.8,999.9L1457.2,999.3L1458.5,998.6L1459.9,997.9L1461.2,997.3L1462.6,996.6L1463.9,996.0L1465.3,995.3L1466.6,994.7L1468.0,994.0L1469.3,993.3L1470.7,992.7L1472.0,992.0L1473.4,991.4L1474.7,990.7L1476.1,990.1L1477.4,989.4L1478.8,988.8L1480.1,988.1L1481.5,987.4L1482.8,986.8L1484.2,986.1L1485.5,985.5L1486.9,984.8L1488.2,984.2L1489.6,983.5L1490.9,982.9L1492.3,982.2L1493.6,981.6L1495.0,980.9L1496.3,980.2L1497.7,979.6L1499.0,978.9L1500.4,978.3L1501.7,977.6L1503.1,977.0L1504.4,976.3L1505.8,975.7L1507.1,975.0L1508.5,974.4L1509.8,973.7L1511.2,973.1L1512.5,972.4L1513.9,971.8L1515.2,971.1L1516.6,970.5L1517.9,969.8L1519.3,969.2L1520.6,968.5L1522.0,967.9L1523.3,967.2L1524.7,966.6L1526.0,965.9L1527.4,965.3L1528.7,964.6L1530.1,964.0L1531.4,963.3L1532.8,962.7L1534.1,962.0L1535.5,961.4L1536.8,960.8L1538.2,960.1L1539.5,959.5L1540.9,958.8L1542.3,958.2L1543.6,957.5L1545.0,956.9L1546.3,956.3L1547.7,955.6L1549.0,955.0L1550.4,954.3L1551.7,953.7L1553.1,953.0L1554.4,952.4L1555.8,951.8L1557.1,951.1L1558.5,950.5L1559.9,949.9L1561.2,949.2L1562.6,948.6L1563.9,947.9L1565.3,947.3L1566.6,946.7L1568.0,946.0L1569.3,945.4L1570.7,944.8L1572.1,944.1L1573.4,943.5L1574.8,942.9L1576.1,942.2L1577.5,941.6L1578.8,941.0L1580.2,940.3L1581.6,939.7L1582.9,939.1L1584.3,938.5L1585.6,937.8L1587.0,937.2L1588.4,936.6L1589.7,935.9L1591.1,935.3L1592.4,934.7L1593.8,934.1L1595.2,933.5L1596.5,932.8L1597.9,932.2L1599.2,931.6L1600.6,931.0L1602.0,930.3L1603.3,929.7L1604.7,929.1L1606.1,928.5L1607.4,927.9L1608.8,927.2L1610.2,926.6L1611.5,926.0L1612.9,925.4L1614.3,924.8L1615.6,924.2L1617.0,923.6L1618.4,922.9L1619.7,922.3L1621.1,921.7L1622.5,921.1L1623.8,920.5L1625.2,919.9L1626.6,919.3L1627.9,918.7L1629.3,918.1L1630.7,917.5L1632.0,916.9L1633.4,916.3L1634.8,915.7L1636.1,915.1L1637.5,914.5L1638.9,913.9L1640.3,913.3L1641.6,912.7L1643.0,912.1L1644.4,911.5L1645.8,910.9L1647.1,910.3L1648.5,909.7L1649.9,909.1L1651.3,908.5L1652.6,907.9L1654.0,907.3L1655.4,906.7L1656.8,906.1L1658.1,905.5L1659.5,904.9L1660.9,904.4L1662.3,903.8L1663.7,903.2L1665.0,902.6L1666.4,902.0L1667.8,901.4L1669.2,900.9L1670.6,900.3L1671.9,899.7L1673.3,899.1L1674.7,898.5L1676.1,898.0L1677.5,897.4L1678.9,896.8L1680.2,896.2L1681.6,895.7L1683.0,895.1L1684.4,894.5L1685.8,894.0L1687.2,893.4L1688.6,892.8L1689.9,892.2L1691.3,891.7L1692.7,891.1L1694.1,890.6L1695.5,890.0L1696.9,889.4L1698.3,888.9L1699.7,888.3L1701.1,887.8L1702.5,887.2L1703.9,886.6L1705.3,886.1L1706.6,885.5L1708.0,885.0L1709.4,884.4L1710.8,883.9L1712.2,883.3L1713.6,882.8L1715.0,882.2L1716.4,881.7L1717.8,881.1L1719.2,880.6L1720.6,880.0L1722.0,879.5L1723.4,879.0L1724.8,878.4L1726.2,877.9L1727.6,877.3L1729.0,876.8L1730.4,876.3L1731.8,875.7L1733.2,875.2L1734.6,874.7L1736.0,874.1L1737.4,873.6L1738.8,873.1L1740.3,872.6L1741.7,872.0L1743.1,871.5L1744.5,871.0L1745.9,870.5L1747.3,869.9L1748.7,869.4L1750.1,868.9L1751.5,868.4L1752.9,867.9L1754.3,867.3L1755.7,866.8L1757.2,866.3L1758.6,865.8L1760.0,865.3L1761.4,864.8L1762.8,864.3L1764.2,863.8L1765.6,863.3L1767.0,862.8L1768.5,862.3L1769.9,861.8L1771.3,861.3L1772.7,860.8L1774.1,860.3L1775.5,859.8L1777.0,859.3L1778.4,858.8L1779.8,858.3L1781.2,857.8L1782.6,857.3L1784.0,856.8L1785.5,856.3L1786.9,855.8L1788.3,855.3L1789.7,854.9L1791.2,854.4L1792.6,853.9L1794.0,853.4L1795.4,852.9L1796.8,852.5L1798.3,852.0L1799.7,851.5L1801.1,851.0L1802.5,850.5L1804.0,850.1L1805.4,849.6L1806.8,849.1L1808.2,848.7L1809.7,848.2L1811.1,847.7L1812.5,847.3L1814.0,846.8L1815.4,846.4L1816.8,845.9L1818.2,845.4L1819.7,845.0L1821.1,844.5L1822.5,844.1L1824.0,843.6L1825.4,843.2L1826.8,842.7L1828.3,842.3L1829.7,841.8L1831.1,841.4L1832.5,840.9L1834.0,840.5L1835.4,840.0L1836.9,839.6L1838.3,839.2L1839.7,838.7L1841.2,838.3L1842.6,837.9L1844.0,837.4L1845.5,837.0L1846.9,836.6L1848.3,836.1L1849.8,835.7L1851.2,835.3L1852.7,834.8L1854.1,834.4L1855.5,834.0L1857.0,833.6L1858.4,833.2L1859.8,832.7L1861.3,832.3L1862.7,831.9L1864.2,831.5L1865.6,831.1L1867.1,830.7L1868.5,830.3L1869.9,829.9L1871.4,829.5L1872.8,829.1L1874.3,828.6L1875.7,828.2L1877.2,827.8L1878.6,827.4L1880.0,827.1L1881.5,826.7L1882.9,826.3L1884.4,825.9L1885.8,825.5L1887.3,825.1L1888.7,824.7L1890.2,824.3L1891.6,823.9L1893.1,823.5L1894.5,823.2L1896.0,822.8L1897.4,822.4L1898.9,822.0L1900.3,821.7L1901.8,821.3L1903.2,820.9L1904.7,820.5L1906.1,820.2L1907.6,819.8L1909.0,819.4L1910.5,819.1L1911.9,818.7L1913.4,818.3L1914.8,818.0L1916.3,817.6L1917.7,817.3L1919.2,816.9L1920.6,816.6L1922.1,816.2L1923.6,815.9L1925.0,815.5L1926.5,815.2L1927.9,814.8" fill="none" stroke="#000" stroke-width="4.0" stroke-linejoin="round"/>
<path d="M276.0,767.6L277.1,766.3L278.1,765.1L279.0,763.8L280.0,762.6L281.0,761.4L281.9,760.1L282.9,758.9L283.8,757.7L284.7,756.5L285.6,755.2L286.5,754.0L287.4,752.8L288.3,751.6L289.1,750.3L290.0,749.1L290.9,747.9L291.7,746.7L292.6,745.5L293.4,744.3L294.3,743.1L295.1,741.9L295.9,740.7L296.8,739.5L297.6,738.3L298.4,737.1L299.3,735.9L300.1,734.7L300.9,733.6L301.8,732.4L302.6,731.2L303.5,730.0L304.3,728.8L305.2,727.7L306.0,726.5L306.9,725.3L307.8,724.2L308.6,723.0L309.5,721.9L310.4,720.7L311.3,719.5L312.2,718.4L313.1,717.2L314.1,716.1L315.0,715.0L316.0,713.8L316.9,712.7L317.9,711.5L318.9,710.4L319.9,709.3L320.9,708.2L322.0,707.0L323.0,705.9L324.1,704.8L325.2,703.7L326.3,702.6L327.4,701.5L328.5,700.4L329.7,699.3L330.8,698.2L332.0,697.2L333.2,696.2L334.4,695.1L335.6,694.1L336.9,693.2L338.1,692.2L339.4,691.3L340.7,690.4L341.9,689.5L343.2,688.7L344.5,687.8L345.9,687.0L347.2,686.3L348.5,685.6L349.9,684.9L351.2,684.3L352.6,683.7L354.0,683.1L355.4,682.6L356.8,682.1L358.2,681.7L359.6,681.3L361.0,681.0L362.4,680.7L363.8,680.5L365.3,680.4L366.7,680.3L368.2,680.2L369.6,680.2L371.1,680.3L372.5,680.4L374.0,680.6L375.5,680.8L376.9,681.0L378.4,681.3L379.9,681.6L381.3,682.0L382.8,682.4L384.3,682.8L385.7,683.3L387.2,683.7L388.7,684.2L390.1,684.8L391.6,685.3L393.0,685.8L394.5,686.4L395.9,687.0L397.3,687.6L398.8,688.2L400.2,688.8L401.6,689.4L403.0,690.0L404.4,690.6L405.8,691.2L407.2,691.9L408.5,692.5L409.9,693.1L411.3,693.8L412.7,694.5L414.0,695.1L415.4,695.8L416.7,696.5L418.0,697.2L419.4,697.9L420.7,698.6L422.0,699.3L423.3,700.0L424.6,700.7L426.0,701.4L427.3,702.2L428.5,702.9L429.8,703.7L431.1,704.4L432.4,705.2L433.7,705.9L434.9,706.7L436.2,707.5L437.5,708.3L438.7,709.1L440.0,709.9L441.2,710.7L442.5,711.5L443.7,712.3L444.9,713.1L446.2,714.0L447.4,714.8L448.6,715.6L449.8,716.5L451.0,717.3L452.2,718.2L453.4,719.0L454.6,719.9L455.8,720.8L457.0,721.7L458.2,722.5L459.4,723.4L460.6,724.3L461.8,725.2L462.9,726.1L464.1,727.1L465.3,728.0L466.4,728.9L467.6,729.8L468.8,730.8L469.9,731.7L471.1,732.6L472.2,733.6L473.4,734.5L474.5,735.5L475.6,736.5L476.8,737.4L477.9,738.4L479.0,739.4L480.2,740.3L481.3,741.3L482.4,742.3L483.5,743.3L484.7,744.3L485.8,745.3L486.9,746.3L488.0,747.4L489.1,748.4L490.2,749.4L491.3,750.4L492.4,751.5L493.5,752.5L494.6,753.5L495.7,754.6L496.7,755.6L497.8,756.7L498.9,757.7L500.0,758.8L501.0,759.9L502.1,760.9L503.2,762.0L504.2,763.1L505.3,764.2L506.3,765.3L507.3,766.4L508.4,767.5L509.4,768.6L510.4,769.7L511.5,770.8L512.5,771.9L513.5,773.0L514.5,774.1L515.5,775.3L516.5,776.4L517.5,777.5L518.5,778.7L519.5,779.8L520.5,781.0L521.5,782.1L522.4,783.3L523.4,784.4L524.4,785.6L525.3,786.7L526.3,787.9L527.2,789.1L528.2,790.2L529.1,791.4L530.0,792.6L531.0,793.8L531.9,795.0L532.8,796.2L533.7,797.4L534.6,798.6L535.5,799.8L536.4,801.0L537.3,802.2L538.2,803.4L539.0,804.6L539.9,805.9L540.8,807.1L541.6,808.3L542.5,809.5L543.3,810.8L544.1,812.0L545.0,813.2L545.8,814.5L546.6,815.7L547.4,817.0L548.2,818.2L549.0,819.5L549.8,820.8L550.6,822.0L551.4,823.3L552.2,824.5L552.9,825.8L553.7,827.1L554.4,828.4L555.2,829.6L555.9,830.9L556.6,832.2L557.3,833.5L558.0,834.8L558.7,836.1L559.4,837.4L560.0,838.8L560.7,840.1L561.3,841.4L561.9,842.7L562.5,844.1L563.1,845.4L563.6,846.8L564.2,848.2L564.7,849.5L565.2,850.9L565.6,852.3L566.1,853.7L566.5,855.1L566.9,856.6L567.3,858.0L567.7,859.4L568.0,860.9L568.3,862.3L568.6,863.8L568.9,865.3L569.2,866.9L569.5,868.4L569.8,870.0L570.2,871.6L570.5,873.2L570.9,874.8L571.3,876.5L571.8,878.1L572.3,879.7L572.9,881.2L573.6,882.5L574.5,883.6L575.5,884.6L576.6,885.3L577.9,885.7L579.2,885.9L580.7,885.8L582.1,885.4L583.4,884.9L584.6,884.1L585.6,883.1L586.5,881.9L587.2,880.6L587.8,879.2L588.2,877.7L588.7,876.0L589.0,874.4L589.4,872.6L589.7,870.9L590.1,869.2L590.6,867.5L591.0,865.9L591.6,864.4L592.3,863.0L593.0,861.7L593.9,860.6L594.9,859.7L596.1,859.1L597.4,858.6L598.9,858.4L600.4,858.5L601.9,858.7L603.3,859.1L604.6,859.7L605.8,860.4L606.8,861.3L607.7,862.3L608.5,863.5L609.2,864.7L609.8,866.0L610.3,867.5L610.7,869.0L611.0,870.5L611.3,872.2L611.5,873.8L611.7,875.5L611.9,877.3L612.0,879.0L612.2,880.8L612.3,882.5L612.5,884.2L612.6,885.9L612.8,887.5L613.1,889.2L613.3,890.7L613.6,892.3L613.9,893.8L614.2,895.3L614.5,896.8L614.8,898.2L615.1,899.7L615.5,901.1L615.9,902.5L616.2,903.9L616.6,905.2L617.0,906.6L617.3,908.0L617.7,909.3L618.1,910.7L618.5,912.1L618.8,913.4L619.2,914.8L619.5,916.2L619.9,917.6L620.2,919.0L620.5,920.4L620.8,921.8L621.1,923.2L621.3,924.7L621.6,926.2L621.8,927.7L622.0,929.3L622.2,930.9L622.4,932.5L622.6,934.2L622.9,935.9L623.2,937.7L623.5,939.5L623.9,941.4L624.3,943.2L624.8,944.9L625.3,946.5L625.9,947.8L626.5,948.9L627.3,949.7L628.1,950.0L628.9,950.0L629.9,949.5L630.8,948.7L631.8,947.6L632.7,946.2L633.7,944.7L634.6,943.1L635.4,941.4L636.1,939.8L636.7,938.1L637.2,936.5L637.6,934.9L638.0,933.4L638.3,931.8L638.6,930.3L638.9,928.8L639.1,927.3L639.3,925.9L639.5,924.4L639.7,922.9L640.0,921.5L640.2,920.0L640.5,918.5L640.7,917.1L641.0,915.6L641.2,914.2L641.5,912.8L641.8,911.3L642.1,909.9L642.3,908.4L642.6,907.0L642.9,905.5L643.2,904.1L643.4,902.6L643.7,901.2L644.0,899.7L644.2,898.3L644.5,896.8L644.7,895.4L645.0,893.9L645.2,892.4L645.4,891.0L645.6,889.5L645.8,888.0L646.0,886.5L646.2,885.1L646.4,883.6L646.6,882.1L646.8,880.6L646.9,879.1L647.1,877.6L647.3,876.1L647.5,874.6L647.6,873.1L647.8,871.6L648.0,870.1L648.1,868.6L648.3,867.1L648.5,865.6L648.7,864.1L648.9,862.6L649.1,861.1L649.3,859.7L649.5,858.2L649.7,856.7L649.9,855.2L650.1,853.7L650.4,852.2L650.6,850.7L650.8,849.3L651.1,847.8L651.3,846.3L651.6,844.8L651.8,843.3L652.1,841.9L652.4,840.4L652.6,838.9L652.9,837.5L653.2,836.0L653.5,834.5L653.8,833.1L654.1,831.6L654.4,830.1L654.7,828.7L655.1,827.2L655.4,825.8L655.7,824.3L656.1,822.8L656.4,821.4L656.7,819.9L657.1,818.5L657.5,817.0L657.8,815.6L658.2,814.2L658.6,812.7L659.0,811.3L659.4,809.8L659.8,808.4L660.2,807.0L660.7,805.5L661.1,804.1L661.6,802.7L662.1,801.3L662.6,799.8L663.1,798.4L663.6,797.0L664.2,795.6L664.8,794.2L665.4,792.8L666.0,791.3L666.6,789.9L667.3,788.5L668.0,787.1L668.8,785.8L669.6,784.5L670.5,783.3L671.5,782.2L672.6,781.2L673.7,780.3L675.0,779.6L676.4,779.0L677.8,778.6L679.3,778.3L680.9,778.1L682.4,778.2L683.9,778.3L685.3,778.6L686.8,779.0L688.1,779.6L689.5,780.2L690.8,780.9L692.1,781.7L693.4,782.5L694.7,783.4L695.9,784.3L697.1,785.2L698.4,786.1L699.6,787.0L700.8,787.9L702.0,788.9L703.1,789.8L704.3,790.8L705.4,791.8L706.6,792.8L707.7,793.8L708.8,794.8L709.9,795.9L711.0,796.9L712.0,798.0L713.1,799.0L714.1,800.1L715.1,801.2L716.1,802.3L717.1,803.4L718.1,804.6L719.0,805.7L720.0,806.9L720.9,808.0L721.8,809.2L722.7,810.4L723.6,811.6L724.5,812.8L725.3,814.0L726.2,815.2L727.0,816.5L727.8,817.7L728.6,819.0L729.4,820.2L730.2,821.5L731.0,822.8L731.7,824.1L732.5,825.3L733.2,826.6L733.9,827.9L734.7,829.3L735.4,830.6L736.1,831.9L736.8,833.2L737.4,834.6L738.1,835.9L738.8,837.2L739.4,838.6L740.1,839.9L740.7,841.3L741.4,842.7L742.0,844.0L742.6,845.4L743.2,846.8L743.8,848.1L744.4,849.5L745.0,850.9L745.6,852.2L746.2,853.6L746.8,855.0L747.3,856.4L747.9,857.8L748.5,859.1L749.0,860.5L749.6,861.9L750.2,863.3L750.7,864.6L751.3,866.0L751.9,867.4L752.5,868.7L753.1,870.1L753.7,871.4L754.3,872.7L755.0,874.0L755.7,875.3L756.3,876.6L757.1,877.8L757.8,879.1L758.5,880.3L759.3,881.5L760.1,882.7L761.0,883.9L761.9,885.0L762.8,886.1L763.8,887.2L764.7,888.3L765.8,889.3L766.9,890.3L768.0,891.3L769.1,892.3L770.3,893.2L771.5,894.2L772.7,895.1L773.9,896.0L775.2,896.9L776.4,897.8L777.6,898.8L778.9,899.7L780.1,900.6L781.3,901.5L782.5,902.5L783.7,903.5L784.8,904.5L785.9,905.5L787.0,906.5L788.0,907.6L789.1,908.7L790.0,909.8L791.0,910.9L791.9,912.1L792.9,913.2L793.7,914.4L794.6,915.6L795.4,916.9L796.2,918.1L797.0,919.4L797.8,920.7L798.6,921.9L799.3,923.2L800.0,924.6L800.7,925.9L801.4,927.2L802.1,928.6L802.7,929.9L803.4,931.3L804.0,932.7L804.6,934.1L805.2,935.5L805.8,936.9L806.4,938.3L807.0,939.7L807.6,941.1L808.2,942.5L808.8,943.9L809.4,945.3L809.9,946.7L810.5,948.1L811.1,949.5L811.7,950.9L812.3,952.3L812.8,953.7L813.4,955.1L814.0,956.5L814.6,957.9L815.2,959.3L815.8,960.6L816.5,962.0L817.1,963.4L817.7,964.7L818.4,966.1L819.0,967.4L819.6,968.8L820.3,970.1L820.9,971.4L821.6,972.8L822.2,974.1L822.8,975.4L823.4,976.8L824.1,978.1L824.7,979.4L825.3,980.8L825.9,982.1L826.4,983.5L827.0,984.8L827.6,986.2L828.1,987.5L828.7,988.9L829.2,990.3L829.7,991.6L830.2,993.0L830.7,994.4L831.1,995.8L831.6,997.3L832.0,998.7L832.5,1000.2L833.0,1001.6L833.4,1003.2L834.0,1004.7L834.5,1006.3L835.1,1007.9L835.7,1009.6L836.4,1011.2L837.1,1012.8L837.9,1014.4L838.7,1015.8L839.6,1017.1L840.6,1018.2L841.6,1019.0L842.8,1019.6L844.0,1019.8L845.2,1019.8L846.5,1019.6L847.8,1019.1L849.1,1018.4L850.3,1017.5L851.4,1016.5L852.4,1015.4L853.2,1014.1L854.0,1012.8L854.7,1011.4L855.2,1009.9L855.7,1008.3L856.1,1006.8L856.5,1005.2L856.8,1003.6L857.1,1002.0L857.4,1000.4L857.7,998.8L857.9,997.3L858.1,995.7L858.4,994.2L858.6,992.7L858.8,991.2L859.0,989.8L859.2,988.3L859.3,986.9L859.5,985.4L859.7,984.0L859.9,982.6L860.1,981.1L860.2,979.7L860.4,978.3L860.6,976.9L860.8,975.4L861.0,974.0L861.2,972.6L861.4,971.1L861.6,969.7L861.9,968.2L862.1,966.7L862.4,965.2L862.6,963.8L862.9,962.3L863.2,960.7L863.4,959.2L863.7,957.7L864.0,956.2L864.3,954.7L864.6,953.2L864.8,951.7L865.1,950.2L865.4,948.6L865.7,947.1L866.0,945.6L866.2,944.1L866.5,942.6L866.8,941.2L867.0,939.7L867.2,938.2L867.5,936.8L867.7,935.3L867.9,933.9L868.1,932.5L868.3,931.0L868.5,929.6L868.7,928.2L868.9,926.7L869.1,925.3L869.3,923.9L869.5,922.4L869.7,921.0L869.8,919.5L870.0,918.0L870.2,916.6L870.4,915.1L870.6,913.6L870.8,912.1L871.0,910.5L871.2,909.0L871.4,907.4L871.6,905.8L871.8,904.2L872.0,902.6L872.3,901.0L872.6,899.5L873.0,897.9L873.3,896.4L873.8,894.9L874.2,893.4L874.8,892.0L875.4,890.6L876.1,889.3L876.8,888.1L877.6,886.9L878.6,885.9L879.6,884.9L880.7,884.0L881.9,883.2L883.2,882.5L884.6,881.9L886.1,881.4L887.6,881.1L889.1,881.0L890.7,881.0L892.1,881.2L893.6,881.5L894.9,882.1L896.2,882.8L897.4,883.7L898.6,884.6L899.7,885.7L900.8,886.8L901.8,888.0L902.8,889.2L903.8,890.5L904.8,891.7L905.7,892.9L906.7,894.1L907.6,895.3L908.5,896.5L909.4,897.7L910.4,898.9L911.3,900.1L912.2,901.3L913.1,902.4L914.0,903.6L914.9,904.8L915.9,906.0L916.8,907.1L917.7,908.3L918.7,909.5L919.6,910.6L920.6,911.8L921.5,913.0L922.5,914.1L923.4,915.3L924.4,916.4L925.3,917.5L926.3,918.7L927.2,919.8L928.2,921.0L929.2,922.1L930.1,923.2L931.1,924.4L932.1,925.5L933.1,926.6L934.0,927.8L935.0,928.9L936.0,930.0L937.0,931.1L938.0,932.2L939.0,933.4L940.0,934.5L941.0,935.6L942.0,936.7L943.0,937.8L944.0,938.9L945.0,940.0L946.0,941.1L947.0,942.2L948.0,943.3L949.0,944.4L950.0,945.5L951.0,946.6L952.1,947.7L953.1,948.8L954.1,949.9L955.1,951.0L956.1,952.1L957.2,953.1L958.2,954.2L959.2,955.3L960.3,956.4L961.3,957.5L962.3,958.6L963.4,959.6L964.4,960.7L965.5,961.8L966.5,962.8L967.6,963.9L968.6,965.0L969.7,966.1L970.7,967.1L971.8,968.2L972.8,969.2L973.9,970.3L975.0,971.4L976.0,972.4L977.1,973.5L978.2,974.5L979.2,975.6L980.3,976.6L981.4,977.7L982.5,978.7L983.6,979.7L984.6,980.8L985.7,981.8L986.8,982.9L987.9,983.9L989.0,984.9L990.1,985.9L991.2,987.0L992.3,988.0L993.4,989.0L994.5,990.0L995.6,991.0L996.7,992.1L997.8,993.1L998.9,994.1L1000.0,995.1L1001.1,996.1L1002.2,997.1L1003.4,998.1L1004.5,999.1L1005.6,1000.1L1006.7,1001.1L1007.9,1002.1L1009.0,1003.1L1010.1,1004.0L1011.3,1005.0L1012.4,1006.0L1013.6,1007.0L1014.7,1007.9L1015.8,1008.9L1017.0,1009.9L1018.1,1010.8L1019.3,1011.8L1020.4,1012.8L1021.6,1013.7L1022.8,1014.7L1023.9,1015.6L1025.1,1016.6L1026.2,1017.5L1027.4,1018.5L1028.6,1019.4L1029.8,1020.3L1030.9,1021.3L1032.1,1022.2L1033.3,1023.1L1034.5,1024.0L1035.7,1025.0L1036.9,1025.9L1038.0,1026.8L1039.2,1027.7L1040.4,1028.6L1041.6,1029.5L1042.8,1030.4L1044.0,1031.3L1045.2,1032.2L1046.4,1033.1L1047.7,1034.0L1048.9,1034.9L1050.1,1035.7L1051.3,1036.6L1052.5,1037.5L1053.7,1038.4L1055.0,1039.2L1056.2,1040.1L1057.4,1041.0L1058.7,1041.8L1059.9,1042.7L1061.1,1043.5L1062.4,1044.4L1063.6,1045.2L1064.9,1046.0L1066.1,1046.9L1067.4,1047.7L1068.6,1048.5L1069.9,1049.3L1071.1,1050.2L1072.4,1051.0L1073.6,1051.8L1074.9,1052.6L1076.2,1053.4L1077.5,1054.2L1078.7,1055.0L1080.0,1055.8L1081.3,1056.6L1082.6,1057.3L1083.8,1058.1L1085.1,1058.9L1086.4,1059.7L1087.7,1060.4L1089.0,1061.2L1090.3,1061.9L1091.6,1062.7L1092.9,1063.4L1094.2,1064.2L1095.5,1064.9L1096.8,1065.6L1098.1,1066.4L1099.4,1067.1L1100.8,1067.8L1102.1,1068.5L1103.4,1069.2L1104.7,1069.9L1106.1,1070.6L1107.4,1071.3L1108.7,1072.0L1110.0,1072.7L1111.4,1073.4L1112.7,1074.1L1114.1,1074.7L1115.4,1075.4L1116.7,1076.0L1118.1,1076.7L1119.4,1077.3L1120.8,1078.0L1122.1,1078.6L1123.5,1079.3L1124.9,1079.9L1126.2,1080.5L1127.6,1081.1L1128.9,1081.7L1130.3,1082.3L1131.7,1082.9L1133.0,1083.5L1134.4,1084.1L1135.8,1084.7L1137.2,1085.2L1138.6,1085.8L1139.9,1086.4L1141.3,1086.9L1142.7,1087.5L1144.1,1088.0L1145.5,1088.6L1146.9,1089.1L1148.3,1089.6L1149.7,1090.1L1151.1,1090.6L1152.5,1091.2L1153.9,1091.7L1155.3,1092.1L1156.7,1092.6L1158.1,1093.1L1159.5,1093.6L1160.9,1094.1L1162.3,1094.5L1163.8,1095.0L1165.2,1095.4L1166.6,1095.9L1168.0,1096.3L1169.4,1096.7L1170.9,1097.1L1172.3,1097.5L1173.7,1097.9L1175.2,1098.3L1176.6,1098.7L1178.0,1099.1L1179.5,1099.5L1180.9,1099.9L1182.4,1100.2L1183.8,1100.6L1185.3,1100.9L1186.7,1101.3L1188.2,1101.6L1189.6,1101.9L1191.1,1102.3L1192.5,1102.6L1194.0,1102.9L1195.4,1103.2L1196.9,1103.5L1198.4,1103.7L1199.8,1104.0L1201.3,1104.3L1202.8,1104.5L1204.3,1104.8L1205.7,1105.0L1207.2,1105.3L1208.7,1105.5L1210.2,1105.7L1211.6,1105.9L1213.1,1106.1L1214.6,1106.3L1216.1,1106.5L1217.6,1106.7L1219.1,1106.8L1220.6,1107.0L1222.0,1107.1L1223.5,1107.3L1225.0,1107.4L1226.5,1107.6L1228.0,1107.7L1229.5,1107.8L1231.0,1107.9L1232.5,1108.0L1234.0,1108.1L1235.5,1108.2L1237.0,1108.2L1238.6,1108.3L1240.1,1108.4L1241.6,1108.4L1243.1,1108.4L1244.6,1108.5L1246.1,1108.5L1247.6,1108.5L1249.1,1108.5L1250.6,1108.5L1252.1,1108.5L1253.6,1108.5L1255.1,1108.5L1256.7,1108.5L1258.2,1108.5L1259.7,1108.4L1261.2,1108.4L1262.7,1108.3L1264.2,1108.2L1265.7,1108.2L1267.2,1108.1L1268.7,1108.0L1270.3,1107.9L1271.8,1107.8L1273.3,1107.7L1274.8,1107.6L1276.3,1107.5L1277.8,1107.4L1279.3,1107.2L1280.8,1107.1L1282.3,1106.9L1283.8,1106.8L1285.3,1106.6L1286.8,1106.5L1288.3,1106.3L1289.8,1106.1L1291.3,1105.9L1292.8,1105.7L1294.3,1105.5L1295.8,1105.3L1297.3,1105.1L1298.8,1104.9L1300.2,1104.6L1301.7,1104.4L1303.2,1104.2L1304.7,1103.9L1306.2,1103.7L1307.7,1103.4L1309.1,1103.1L1310.6,1102.9L1312.1,1102.6L1313.6,1102.3L1315.0,1102.0L1316.5,1101.7L1318.0,1101.4L1319.4,1101.1L1320.9,1100.8L1322.4,1100.5L1323.8,1100.2L1325.3,1099.8L1326.8,1099.5L1328.2,1099.2L1329.7,1098.8L1331.2,1098.5L1332.6,1098.2L1334.1,1097.8L1335.5,1097.4L1337.0,1097.1L1338.4,1096.7L1339.9,1096.4L1341.3,1096.0L1342.8,1095.6L1344.2,1095.2L1345.7,1094.8L1347.1,1094.5L1348.6,1094.1L1350.0,1093.7L1351.5,1093.3L1352.9,1092.9L1354.3,1092.5L1355.8,1092.1L1357.2,1091.6L1358.7,1091.2L1360.1,1090.8L1361.5,1090.4L1363.0,1090.0L1364.4,1089.6L1365.8,1089.1L1367.3,1088.7L1368.7,1088.3L1370.1,1087.8L1371.6,1087.4L1373.0,1087.0L1374.4,1086.5L1375.8,1086.1L1377.3,1085.6L1378.7,1085.2L1380.1,1084.7L1381.5,1084.2L1382.9,1083.8L1384.4,1083.3L1385.8,1082.9L1387.2,1082.4L1388.6,1081.9L1390.0,1081.5L1391.5,1081.0L1392.9,1080.5L1394.3,1080.0L1395.7,1079.5L1397.1,1079.1L1398.5,1078.6L1399.9,1078.1L1401.3,1077.6L1402.8,1077.1L1404.2,1076.6L1405.6,1076.1L1407.0,1075.6L1408.4,1075.1L1409.8,1074.6L1411.2,1074.1L1412.6,1073.6L1414.0,1073.1L1415.4,1072.5L1416.8,1072.0L1418.2,1071.5L1419.6,1071.0L1421.0,1070.5L1422.4,1069.9L1423.8,1069.4L1425.2,1068.9L1426.6,1068.3L1428.0,1067.8L1429.4,1067.3L1430.8,1066.7L1432.2,1066.2L1433.6,1065.7L1435.0,1065.1L1436.4,1064.6L1437.7,1064.0L1439.1,1063.5L1440.5,1062.9L1441.9,1062.4L1443.3,1061.8L1444.7,1061.3L1446.1,1060.7L1447.5,1060.1L1448.8,1059.6L1450.2,1059.0L1451.6,1058.5L1453.0,1057.9L1454.4,1057.3L1455.8,1056.8L1457.2,1056.2L1458.5,1055.6L1459.9,1055.0L1461.3,1054.5L1462.7,1053.9L1464.1,1053.3L1465.4,1052.7L1466.8,1052.1L1468.2,1051.6L1469.6,1051.0L1470.9,1050.4L1472.3,1049.8L1473.7,1049.2L1475.1,1048.6L1476.5,1048.0L1477.8,1047.4L1479.2,1046.8L1480.6,1046.2L1481.9,1045.6L1483.3,1045.0L1484.7,1044.4L1486.1,1043.8L1487.4,1043.2L1488.8,1042.6L1490.2,1042.0L1491.5,1041.4L1492.9,1040.8L1494.3,1040.2L1495.7,1039.6L1497.0,1039.0L1498.4,1038.4L1499.8,1037.8L1501.1,1037.1L1502.5,1036.5L1503.9,1035.9L1505.2,1035.3L1506.6,1034.7L1508.0,1034.1L1509.3,1033.4L1510.7,1032.8L1512.1,1032.2L1513.4,1031.6L1514.8,1030.9L1516.2,1030.3L1517.5,1029.7L1518.9,1029.1L1520.2,1028.4L1521.6,1027.8L1523.0,1027.2L1524.3,1026.6L1525.7,1025.9L1527.1,1025.3L1528.4,1024.7L1529.8,1024.0L1531.1,1023.4L1532.5,1022.8L1533.9,1022.1L1535.2,1021.5L1536.6,1020.9L1537.9,1020.2L1539.3,1019.6L1540.7,1019.0L1542.0,1018.3L1543.4,1017.7L1544.7,1017.1L1546.1,1016.4L1547.5,1015.8L1548.8,1015.1L1550.2,1014.5L1551.5,1013.9L1552.9,1013.2L1554.3,1012.6L1555.6,1011.9L1557.0,1011.3L1558.3,1010.7L1559.7,1010.0L1561.1,1009.4L1562.4,1008.7L1563.8,1008.1L1565.1,1007.4L1566.5,1006.8L1567.8,1006.2L1569.2,1005.5L1570.6,1004.9L1571.9,1004.2L1573.3,1003.6L1574.6,1002.9L1576.0,1002.3L1577.4,1001.7L1578.7,1001.0L1580.1,1000.4L1581.4,999.7L1582.8,999.1L1584.1,998.4L1585.5,997.8L1586.9,997.2L1588.2,996.5L1589.6,995.9L1590.9,995.2L1592.3,994.6L1593.6,993.9L1595.0,993.3L1596.4,992.7L1597.7,992.0L1599.1,991.4L1600.4,990.7L1601.8,990.1L1603.2,989.5L1604.5,988.8L1605.9,988.2L1607.2,987.5L1608.6,986.9L1610.0,986.3L1611.3,985.6L1612.7,985.0L1614.0,984.4L1615.4,983.7L1616.8,983.1L1618.1,982.5L1619.5,981.8L1620.8,981.2L1622.2,980.5L1623.6,979.9L1624.9,979.3L1626.3,978.7L1627.6,978.0L1629.0,977.4L1630.4,976.8L1631.7,976.1L1633.1,975.5L1634.5,974.9L1635.8,974.3L1637.2,973.6L1638.6,973.0L1639.9,972.4L1641.3,971.8L1642.6,971.1L1644.0,970.5L1645.4,969.9L1646.7,969.3L1648.1,968.7L1649.5,968.0L1650.8,967.4L1652.2,966.8L1653.6,966.2L1655.0,965.6L1656.3,965.0L1657.7,964.3L1659.1,963.7L1660.4,963.1L1661.8,962.5L1663.2,961.9L1664.5,961.3L1665.9,960.7L1667.3,960.1L1668.7,959.5L1670.0,958.9L1671.4,958.3L1672.8,957.7L1674.1,957.1L1675.5,956.5L1676.9,955.9L1678.3,955.3L1679.6,954.7L1681.0,954.1L1682.4,953.5L1683.8,952.9L1685.1,952.3L1686.5,951.7L1687.9,951.1L1689.3,950.5L1690.6,949.9L1692.0,949.4L1693.4,948.8L1694.8,948.2L1696.2,947.6L1697.5,947.0L1698.9,946.4L1700.3,945.8L1701.7,945.3L1703.0,944.7L1704.4,944.1L1705.8,943.5L1707.2,942.9L1708.6,942.4L1710.0,941.8L1711.3,941.2L1712.7,940.6L1714.1,940.1L1715.5,939.5L1716.9,938.9L1718.3,938.3L1719.6,937.8L1721.0,937.2L1722.4,936.6L1723.8,936.1L1725.2,935.5L1726.6,934.9L1727.9,934.4L1729.3,933.8L1730.7,933.2L1732.1,932.7L1733.5,932.1L1734.9,931.5L1736.3,931.0L1737.7,930.4L1739.0,929.9L1740.4,929.3L1741.8,928.7L1743.2,928.2L1744.6,927.6L1746.0,927.1L1747.4,926.5L1748.8,926.0L1750.2,925.4L1751.6,924.9L1752.9,924.3L1754.3,923.8L1755.7,923.2L1757.1,922.7L1758.5,922.1L1759.9,921.6L1761.3,921.0L1762.7,920.5L1764.1,919.9L1765.5,919.4L1766.9,918.9L1768.3,918.3L1769.7,917.8L1771.1,917.2L1772.5,916.7L1773.9,916.2L1775.3,915.6L1776.7,915.1L1778.1,914.5L1779.5,914.0L1780.9,913.5L1782.3,912.9L1783.7,912.4L1785.1,911.9L1786.5,911.3L1787.9,910.8L1789.3,910.3L1790.7,909.8L1792.1,909.2L1793.5,908.7L1794.9,908.2L1796.3,907.6L1797.7,907.1L1799.1,906.6L1800.5,906.1L1801.9,905.6L1803.3,905.0L1804.7,904.5L1806.1,904.0L1807.5,903.5L1808.9,903.0L1810.3,902.4L1811.7,901.9L1813.1,901.4L1814.5,900.9L1815.9,900.4L1817.3,899.9L1818.7,899.3L1820.1,898.8L1821.6,898.3L1823.0,897.8L1824.4,897.3L1825.8,896.8L1827.2,896.3L1828.6,895.8L1830.0,895.3L1831.4,894.8L1832.8,894.3L1834.2,893.7L1835.7,893.2L1837.1,892.7L1838.5,892.2L1839.9,891.7L1841.3,891.2L1842.7,890.7L1844.1,890.2L1845.5,889.7L1847.0,889.2L1848.4,888.7L1849.8,888.2L1851.2,887.7L1852.6,887.2L1854.0,886.8L1855.4,886.3L1856.9,885.8L1858.3,885.3L1859.7,884.8L1861.1,884.3L1862.5,883.8L1863.9,883.3L1865.4,882.8L1866.8,882.3L1868.2,881.8L1869.6,881.4L1871.0,880.9L1872.5,880.4L1873.9,879.9L1875.3,879.4L1876.7,878.9L1878.1,878.4L1879.6,878.0L1881.0,877.5L1882.4,877.0L1883.8,876.5L1885.2,876.0L1886.7,875.6L1888.1,875.1L1889.5,874.6L1890.9,874.1L1892.4,873.7L1893.8,873.2L1895.2,872.7L1896.6,872.2L1898.1,871.8L1899.5,871.3L1900.9,870.8L1902.3,870.3L1903.8,869.9L1905.2,869.4L1906.6,868.9L1908.1,868.5L1909.5,868.0L1910.9,867.5L1912.3,867.1L1913.8,866.6L1915.2,866.1L1916.6,865.7L1918.1,865.2L1919.5,864.7L1920.9,864.3L1922.3,863.8L1923.8,863.3L1925.2,862.9L1926.6,862.4L1928.1,862.0" fill="none" stroke="#dd1418" stroke-width="6" stroke-dasharray="6.5 9.5"/>
<path d="M276.0,775.1L276.7,773.7L277.4,772.3L278.0,770.8L278.7,769.4L279.4,768.0L280.0,766.7L280.7,765.3L281.4,763.9L282.0,762.5L282.7,761.2L283.4,759.8L284.1,758.5L284.7,757.1L285.4,755.8L286.1,754.5L286.7,753.2L287.4,751.9L288.1,750.5L288.8,749.2L289.5,747.9L290.1,746.7L290.8,745.4L291.5,744.1L292.2,742.8L292.9,741.5L293.6,740.2L294.3,738.9L295.0,737.7L295.7,736.4L296.4,735.1L297.1,733.8L297.8,732.6L298.6,731.3L299.3,730.0L300.0,728.7L300.7,727.5L301.5,726.2L302.2,724.9L302.9,723.6L303.7,722.4L304.4,721.1L305.2,719.8L306.0,718.5L306.7,717.2L307.5,715.9L308.3,714.6L309.1,713.3L309.9,712.0L310.7,710.6L311.5,709.3L312.3,708.0L313.1,706.7L313.9,705.3L314.7,704.0L315.6,702.6L316.4,701.3L317.3,700.0L318.2,698.7L319.0,697.4L319.9,696.1L320.9,694.8L321.8,693.5L322.7,692.3L323.7,691.1L324.7,689.9L325.7,688.8L326.7,687.7L327.8,686.6L328.9,685.5L329.9,684.5L331.1,683.5L332.2,682.6L333.4,681.7L334.6,680.9L335.8,680.1L337.1,679.3L338.4,678.7L339.7,678.0L341.0,677.5L342.4,676.9L343.8,676.5L345.2,676.1L346.6,675.7L348.1,675.4L349.5,675.1L351.0,674.9L352.5,674.7L354.0,674.6L355.6,674.5L357.1,674.5L358.6,674.5L360.1,674.5L361.7,674.6L363.2,674.7L364.7,674.9L366.2,675.1L367.7,675.3L369.2,675.6L370.7,675.9L372.2,676.2L373.7,676.6L375.1,677.0L376.6,677.4L378.0,677.8L379.4,678.3L380.8,678.8L382.2,679.3L383.6,679.9L385.0,680.4L386.4,681.0L387.7,681.6L389.1,682.3L390.4,682.9L391.8,683.6L393.1,684.2L394.4,684.9L395.8,685.6L397.1,686.4L398.4,687.1L399.7,687.8L401.0,688.6L402.3,689.3L403.6,690.1L404.9,690.9L406.2,691.7L407.4,692.4L408.7,693.2L410.0,694.0L411.3,694.8L412.5,695.6L413.8,696.4L415.1,697.2L416.3,698.0L417.6,698.8L418.9,699.6L420.1,700.4L421.4,701.2L422.6,702.0L423.9,702.8L425.1,703.7L426.4,704.5L427.6,705.3L428.9,706.1L430.1,707.0L431.3,707.8L432.6,708.7L433.8,709.5L435.0,710.4L436.3,711.2L437.5,712.1L438.7,713.0L439.9,713.8L441.1,714.7L442.4,715.6L443.6,716.4L444.8,717.3L446.0,718.2L447.2,719.1L448.4,720.0L449.6,720.9L450.8,721.8L452.0,722.7L453.2,723.6L454.4,724.5L455.6,725.4L456.8,726.3L458.0,727.2L459.2,728.2L460.4,729.1L461.5,730.0L462.7,730.9L463.9,731.9L465.1,732.8L466.3,733.7L467.4,734.7L468.6,735.6L469.8,736.6L470.9,737.5L472.1,738.5L473.2,739.4L474.4,740.4L475.6,741.4L476.7,742.3L477.9,743.3L479.0,744.3L480.2,745.2L481.3,746.2L482.4,747.2L483.6,748.2L484.7,749.1L485.8,750.1L487.0,751.1L488.1,752.1L489.2,753.1L490.3,754.1L491.5,755.1L492.6,756.1L493.7,757.1L494.8,758.1L495.9,759.1L497.0,760.1L498.1,761.1L499.2,762.1L500.3,763.1L501.4,764.1L502.5,765.2L503.6,766.2L504.7,767.2L505.7,768.3L506.8,769.3L507.9,770.3L508.9,771.4L510.0,772.4L511.0,773.5L512.1,774.6L513.1,775.6L514.2,776.7L515.2,777.8L516.2,778.8L517.3,779.9L518.3,781.0L519.3,782.1L520.3,783.2L521.3,784.3L522.3,785.4L523.3,786.5L524.3,787.7L525.3,788.8L526.3,789.9L527.3,791.0L528.3,792.2L529.2,793.3L530.2,794.4L531.2,795.6L532.2,796.7L533.1,797.8L534.1,799.0L535.1,800.1L536.1,801.3L537.0,802.4L538.0,803.5L539.0,804.7L540.0,805.8L540.9,806.9L541.9,808.1L542.9,809.2L543.9,810.3L544.9,811.5L545.9,812.6L546.9,813.7L547.9,814.8L548.9,815.9L549.9,817.1L550.9,818.2L551.9,819.3L553.0,820.4L554.0,821.4L555.0,822.5L556.1,823.6L557.1,824.7L558.1,825.8L559.1,826.9L560.2,828.0L561.2,829.1L562.2,830.2L563.2,831.3L564.1,832.4L565.1,833.6L566.0,834.7L567.0,835.9L567.9,837.0L568.7,838.2L569.6,839.4L570.4,840.6L571.2,841.9L572.0,843.1L572.7,844.4L573.4,845.7L574.1,847.0L574.8,848.3L575.4,849.7L575.9,851.1L576.5,852.5L576.9,854.0L577.4,855.5L577.8,857.0L578.1,858.5L578.5,860.0L578.8,861.6L579.1,863.2L579.4,864.7L579.7,866.3L580.0,867.9L580.3,869.4L580.7,871.0L581.1,872.5L581.5,874.0L581.9,875.4L582.5,876.8L583.0,878.2L583.7,879.5L584.4,880.8L585.2,882.0L586.1,883.2L587.1,884.3L588.1,885.3L589.3,886.2L590.6,887.1L592.0,887.9L593.5,888.5L595.0,888.9L596.4,889.0L597.7,888.9L598.9,888.4L600.0,887.6L600.9,886.6L601.8,885.3L602.6,884.0L603.4,882.5L604.1,880.9L604.9,879.3L605.6,877.7L606.4,876.3L607.3,874.9L608.2,873.8L609.3,872.9L610.5,872.4L611.8,872.2L613.3,872.3L614.8,872.7L616.3,873.2L617.7,874.0L619.2,874.8L620.5,875.8L621.8,876.9L623.0,878.0L624.0,879.2L625.0,880.4L625.8,881.6L626.6,882.8L627.3,884.1L628.0,885.3L628.6,886.6L629.2,887.9L629.8,889.2L630.4,890.5L631.0,891.8L631.6,893.1L632.3,894.4L633.0,895.6L633.8,896.9L634.6,898.1L635.4,899.4L636.2,900.6L637.1,901.9L637.9,903.1L638.8,904.3L639.6,905.6L640.5,906.8L641.3,908.1L642.2,909.3L643.0,910.6L643.8,911.9L644.6,913.2L645.3,914.5L646.0,915.8L646.8,917.1L647.5,918.4L648.1,919.7L648.8,921.1L649.4,922.4L650.1,923.8L650.7,925.1L651.2,926.5L651.8,927.9L652.4,929.3L652.9,930.7L653.4,932.1L653.9,933.5L654.4,934.9L654.9,936.3L655.4,937.7L655.8,939.2L656.3,940.6L656.7,942.1L657.1,943.5L657.5,945.0L657.9,946.4L658.2,947.9L658.6,949.4L658.9,950.8L659.3,952.3L659.6,953.8L659.9,955.3L660.2,956.8L660.5,958.3L660.8,959.8L661.1,961.3L661.4,962.8L661.7,964.3L662.0,965.8L662.3,967.3L662.7,968.8L663.0,970.2L663.4,971.7L663.8,973.1L664.3,974.6L664.8,976.0L665.3,977.4L665.8,978.8L666.4,980.2L667.1,981.5L667.8,982.9L668.5,984.2L669.3,985.5L670.2,986.7L671.1,988.0L672.1,989.2L673.1,990.4L674.2,991.5L675.4,992.6L676.7,993.6L677.9,994.4L679.1,994.9L680.2,994.9L681.2,994.5L682.1,993.7L682.9,992.5L683.6,991.0L684.2,989.4L684.8,987.6L685.3,985.8L685.7,984.0L686.2,982.3L686.6,980.6L687.0,979.0L687.3,977.5L687.6,976.0L688.0,974.5L688.2,973.0L688.5,971.6L688.8,970.2L689.1,968.8L689.3,967.4L689.6,966.0L689.9,964.6L690.1,963.2L690.4,961.8L690.7,960.4L691.0,959.0L691.3,957.6L691.6,956.2L691.9,954.8L692.2,953.4L692.5,951.9L692.8,950.5L693.1,949.1L693.4,947.6L693.8,946.2L694.1,944.7L694.4,943.3L694.7,941.8L695.0,940.4L695.4,938.9L695.7,937.5L696.0,936.0L696.3,934.5L696.6,933.1L697.0,931.6L697.3,930.1L697.6,928.6L697.9,927.1L698.2,925.7L698.5,924.2L698.8,922.7L699.1,921.2L699.4,919.7L699.6,918.2L699.9,916.7L700.2,915.3L700.5,913.8L700.7,912.3L701.0,910.8L701.2,909.3L701.4,907.8L701.7,906.3L701.9,904.8L702.1,903.3L702.3,901.8L702.5,900.3L702.7,898.8L702.9,897.3L703.1,895.9L703.3,894.4L703.4,892.9L703.6,891.4L703.8,889.9L703.9,888.4L704.1,886.9L704.2,885.4L704.4,883.9L704.5,882.4L704.7,880.9L704.8,879.5L705.0,878.0L705.1,876.5L705.3,875.0L705.4,873.5L705.6,872.0L705.7,870.5L705.9,869.1L706.1,867.6L706.2,866.1L706.4,864.6L706.6,863.1L706.8,861.6L706.9,860.2L707.1,858.7L707.3,857.2L707.5,855.7L707.7,854.2L707.9,852.8L708.2,851.3L708.4,849.8L708.6,848.3L708.9,846.9L709.1,845.4L709.4,843.9L709.7,842.5L710.0,841.0L710.3,839.5L710.6,838.1L710.9,836.6L711.2,835.1L711.6,833.7L711.9,832.2L712.3,830.7L712.7,829.3L713.0,827.8L713.4,826.4L713.8,824.9L714.2,823.4L714.5,822.0L714.9,820.5L715.3,819.1L715.6,817.6L716.0,816.2L716.4,814.7L716.7,813.3L717.1,811.8L717.5,810.4L718.0,809.0L718.4,807.6L718.9,806.1L719.5,804.8L720.1,803.4L720.7,802.0L721.5,800.6L722.2,799.3L723.1,798.0L724.0,796.7L725.1,795.4L726.1,794.2L727.3,793.0L728.5,791.9L729.7,790.9L731.0,790.0L732.4,789.2L733.7,788.5L735.1,788.0L736.5,787.6L738.0,787.4L739.4,787.3L740.9,787.4L742.3,787.7L743.8,788.1L745.2,788.6L746.6,789.2L748.0,789.9L749.4,790.6L750.7,791.4L752.0,792.2L753.3,793.0L754.5,793.9L755.7,794.8L756.9,795.7L758.1,796.6L759.2,797.6L760.3,798.6L761.4,799.6L762.4,800.7L763.5,801.8L764.5,802.9L765.5,804.0L766.5,805.1L767.5,806.2L768.4,807.4L769.3,808.5L770.3,809.7L771.2,810.9L772.1,812.1L773.0,813.3L773.8,814.5L774.7,815.8L775.5,817.0L776.4,818.2L777.2,819.5L778.0,820.7L778.8,822.0L779.6,823.3L780.4,824.5L781.2,825.8L782.0,827.1L782.7,828.4L783.5,829.7L784.2,831.0L785.0,832.3L785.7,833.6L786.4,834.9L787.1,836.2L787.8,837.6L788.5,838.9L789.2,840.2L789.9,841.6L790.5,842.9L791.2,844.3L791.8,845.6L792.5,847.0L793.1,848.3L793.7,849.7L794.4,851.0L795.0,852.4L795.6,853.8L796.2,855.2L796.7,856.6L797.3,857.9L797.9,859.3L798.5,860.7L799.0,862.1L799.6,863.5L800.1,864.9L800.6,866.3L801.2,867.7L801.7,869.1L802.2,870.5L802.7,871.9L803.2,873.4L803.7,874.8L804.2,876.2L804.7,877.6L805.2,879.0L805.6,880.5L806.1,881.9L806.5,883.3L807.0,884.7L807.4,886.2L807.9,887.6L808.3,889.0L808.7,890.5L809.1,891.9L809.6,893.3L810.0,894.8L810.4,896.2L810.8,897.6L811.2,899.1L811.5,900.5L811.9,901.9L812.3,903.4L812.7,904.8L813.0,906.3L813.4,907.7L813.8,909.1L814.1,910.6L814.5,912.0L814.9,913.5L815.2,914.9L815.6,916.3L815.9,917.8L816.3,919.2L816.6,920.7L817.0,922.1L817.4,923.6L817.7,925.0L818.1,926.5L818.5,927.9L818.8,929.4L819.2,930.8L819.6,932.3L820.0,933.7L820.4,935.2L820.8,936.7L821.2,938.1L821.6,939.6L822.0,941.0L822.5,942.5L822.9,944.0L823.3,945.4L823.8,946.9L824.2,948.3L824.7,949.8L825.1,951.2L825.6,952.6L826.1,954.1L826.5,955.5L827.0,956.9L827.5,958.3L828.0,959.6L828.5,961.0L829.0,962.4L829.5,963.7L830.0,965.1L830.5,966.4L831.0,967.8L831.5,969.1L832.0,970.5L832.6,971.8L833.1,973.1L833.6,974.5L834.2,975.8L834.8,977.2L835.3,978.5L835.9,979.9L836.5,981.3L837.1,982.7L837.7,984.0L838.4,985.4L839.0,986.9L839.7,988.3L840.3,989.7L841.0,991.2L841.7,992.6L842.4,994.1L843.1,995.6L843.9,997.1L844.6,998.6L845.5,1000.0L846.4,1001.2L847.4,1002.1L848.5,1002.8L849.8,1003.1L851.2,1003.1L852.6,1002.7L854.0,1002.2L855.3,1001.4L856.4,1000.4L857.4,999.3L858.3,998.1L859.0,996.8L859.6,995.3L860.0,993.8L860.4,992.3L860.7,990.6L861.0,989.0L861.2,987.3L861.3,985.6L861.4,983.9L861.5,982.2L861.6,980.6L861.7,978.9L861.7,977.3L861.8,975.8L861.8,974.2L861.9,972.7L861.9,971.2L862.0,969.7L862.0,968.2L862.1,966.8L862.2,965.3L862.3,963.9L862.4,962.4L862.6,961.0L862.8,959.6L863.0,958.2L863.2,956.8L863.5,955.4L863.7,954.0L864.1,952.6L864.5,951.2L864.9,949.7L865.3,948.3L865.8,946.9L866.2,945.5L866.7,944.0L867.2,942.6L867.6,941.1L868.1,939.7L868.5,938.2L868.8,936.7L869.1,935.3L869.4,933.8L869.6,932.3L869.8,930.8L870.0,929.3L870.1,927.8L870.2,926.3L870.3,924.8L870.4,923.3L870.5,921.8L870.6,920.3L870.6,918.8L870.7,917.3L870.9,915.8L871.0,914.3L871.1,912.9L871.3,911.4L871.5,909.9L871.8,908.4L872.1,907.0L872.4,905.5L872.8,904.1L873.2,902.6L873.6,901.2L874.0,899.7L874.5,898.3L874.9,896.8L875.4,895.4L875.8,894.0L876.2,892.5L876.6,891.1L877.0,889.6L877.3,888.2L877.6,886.7L877.9,885.2L878.1,883.7L878.3,882.3L878.4,880.8L878.6,879.3L878.7,877.8L878.8,876.3L878.9,874.8L879.1,873.3L879.2,871.8L879.4,870.3L879.6,868.8L879.9,867.4L880.2,865.9L880.5,864.4L880.9,863.0L881.4,861.6L882.0,860.2L882.6,858.8L883.3,857.4L884.1,856.1L885.0,854.8L885.9,853.6L886.8,852.4L887.9,851.3L889.0,850.2L890.2,849.2L891.4,848.3L892.7,847.4L894.1,846.6L895.5,846.0L896.9,845.5L898.4,845.1L899.8,845.0L901.2,845.1L902.7,845.4L904.1,845.8L905.4,846.4L906.8,847.2L908.1,848.0L909.4,848.9L910.7,849.8L912.0,850.8L913.2,851.7L914.4,852.7L915.5,853.7L916.7,854.7L917.8,855.7L918.9,856.7L920.0,857.8L921.1,858.8L922.1,859.8L923.2,860.8L924.3,861.9L925.4,862.9L926.5,863.9L927.5,864.9L928.6,865.9L929.7,866.9L930.8,867.9L931.9,869.0L933.0,870.0L934.1,870.9L935.2,871.9L936.4,872.9L937.5,873.9L938.6,874.9L939.7,875.9L940.8,876.9L942.0,877.9L943.1,878.9L944.2,879.8L945.4,880.8L946.5,881.8L947.6,882.8L948.8,883.7L949.9,884.7L951.1,885.7L952.2,886.6L953.3,887.6L954.5,888.6L955.6,889.5L956.8,890.5L958.0,891.4L959.1,892.4L960.3,893.3L961.4,894.3L962.6,895.3L963.7,896.2L964.9,897.2L966.1,898.1L967.2,899.1L968.4,900.0L969.6,901.0L970.7,901.9L971.9,902.9L973.1,903.8L974.2,904.7L975.4,905.7L976.6,906.6L977.7,907.6L978.9,908.5L980.1,909.5L981.2,910.4L982.4,911.4L983.6,912.3L984.7,913.3L985.9,914.2L987.0,915.2L988.2,916.1L989.4,917.0L990.5,918.0L991.7,918.9L992.9,919.9L994.0,920.8L995.2,921.8L996.3,922.7L997.5,923.7L998.7,924.6L999.8,925.6L1001.0,926.5L1002.1,927.5L1003.3,928.4L1004.4,929.4L1005.6,930.3L1006.8,931.3L1007.9,932.2L1009.1,933.2L1010.2,934.1L1011.4,935.1L1012.5,936.0L1013.7,937.0L1014.8,937.9L1016.0,938.9L1017.2,939.8L1018.3,940.8L1019.5,941.7L1020.6,942.6L1021.8,943.6L1022.9,944.5L1024.1,945.5L1025.3,946.4L1026.4,947.4L1027.6,948.3L1028.7,949.2L1029.9,950.2L1031.1,951.1L1032.2,952.1L1033.4,953.0L1034.5,953.9L1035.7,954.9L1036.9,955.8L1038.0,956.7L1039.2,957.7L1040.4,958.6L1041.5,959.5L1042.7,960.5L1043.9,961.4L1045.0,962.3L1046.2,963.3L1047.4,964.2L1048.6,965.1L1049.7,966.0L1050.9,967.0L1052.1,967.9L1053.3,968.8L1054.5,969.7L1055.7,970.6L1056.8,971.5L1058.0,972.5L1059.2,973.4L1060.4,974.3L1061.6,975.2L1062.8,976.1L1064.0,977.0L1065.2,977.9L1066.4,978.8L1067.6,979.7L1068.8,980.6L1070.0,981.5L1071.2,982.4L1072.4,983.3L1073.6,984.2L1074.8,985.1L1076.0,986.0L1077.2,986.8L1078.4,987.7L1079.6,988.6L1080.9,989.5L1082.1,990.4L1083.3,991.2L1084.5,992.1L1085.7,993.0L1087.0,993.9L1088.2,994.7L1089.4,995.6L1090.6,996.5L1091.9,997.3L1093.1,998.2L1094.3,999.1L1095.5,999.9L1096.8,1000.8L1098.0,1001.6L1099.3,1002.5L1100.5,1003.3L1101.7,1004.2L1103.0,1005.0L1104.2,1005.8L1105.5,1006.7L1106.7,1007.5L1108.0,1008.4L1109.2,1009.2L1110.5,1010.0L1111.7,1010.8L1113.0,1011.7L1114.2,1012.5L1115.5,1013.3L1116.7,1014.1L1118.0,1014.9L1119.3,1015.8L1120.5,1016.6L1121.8,1017.4L1123.1,1018.2L1124.3,1019.0L1125.6,1019.8L1126.9,1020.6L1128.1,1021.4L1129.4,1022.2L1130.7,1023.0L1132.0,1023.8L1133.2,1024.5L1134.5,1025.3L1135.8,1026.1L1137.1,1026.9L1138.4,1027.6L1139.7,1028.4L1141.0,1029.2L1142.2,1029.9L1143.5,1030.7L1144.8,1031.5L1146.1,1032.2L1147.4,1033.0L1148.7,1033.7L1150.0,1034.5L1151.3,1035.2L1152.6,1036.0L1153.9,1036.7L1155.2,1037.4L1156.5,1038.2L1157.8,1038.9L1159.2,1039.6L1160.5,1040.3L1161.8,1041.1L1163.1,1041.8L1164.4,1042.5L1165.7,1043.2L1167.1,1043.9L1168.4,1044.6L1169.7,1045.3L1171.0,1046.0L1172.4,1046.7L1173.7,1047.4L1175.0,1048.1L1176.4,1048.8L1177.7,1049.4L1179.0,1050.1L1180.4,1050.8L1181.7,1051.5L1183.0,1052.1L1184.4,1052.8L1185.7,1053.4L1187.1,1054.1L1188.4,1054.8L1189.8,1055.4L1191.1,1056.1L1192.5,1056.7L1193.8,1057.3L1195.2,1058.0L1196.5,1058.6L1197.9,1059.2L1199.3,1059.8L1200.6,1060.5L1202.0,1061.1L1203.3,1061.7L1204.7,1062.3L1206.1,1062.9L1207.5,1063.5L1208.8,1064.1L1210.2,1064.7L1211.6,1065.3L1213.0,1065.9L1214.3,1066.4L1215.7,1067.0L1217.1,1067.6L1218.5,1068.2L1219.9,1068.7L1221.3,1069.3L1222.6,1069.8L1224.0,1070.4L1225.4,1070.9L1226.8,1071.5L1228.2,1072.0L1229.6,1072.6L1231.0,1073.1L1232.4,1073.6L1233.8,1074.1L1235.2,1074.7L1236.6,1075.2L1238.0,1075.7L1239.5,1076.2L1240.9,1076.7L1242.3,1077.2L1243.7,1077.6L1245.1,1078.1L1246.5,1078.6L1248.0,1079.1L1249.4,1079.5L1250.8,1080.0L1252.2,1080.5L1253.7,1080.9L1255.1,1081.4L1256.5,1081.8L1258.0,1082.2L1259.4,1082.7L1260.8,1083.1L1262.3,1083.5L1263.7,1083.9L1265.1,1084.3L1266.6,1084.7L1268.0,1085.1L1269.5,1085.5L1270.9,1085.9L1272.4,1086.3L1273.8,1086.7L1275.3,1087.1L1276.7,1087.4L1278.2,1087.8L1279.6,1088.2L1281.1,1088.5L1282.6,1088.9L1284.0,1089.2L1285.5,1089.6L1286.9,1089.9L1288.4,1090.3L1289.9,1090.6L1291.3,1090.9L1292.8,1091.3L1294.2,1091.6L1295.7,1091.9L1297.2,1092.3L1298.6,1092.6L1300.1,1092.9L1301.6,1093.3L1303.0,1093.6L1304.5,1093.9L1306.0,1094.2L1307.4,1094.5L1308.9,1094.8L1310.4,1095.2L1311.8,1095.5L1313.3,1095.8L1314.7,1096.1L1316.2,1096.4L1317.7,1096.7L1319.1,1097.0L1320.6,1097.3L1322.1,1097.7L1323.5,1098.0L1325.0,1098.3L1326.4,1098.5L1327.9,1098.8L1329.4,1099.1L1330.8,1099.4L1332.3,1099.7L1333.8,1100.0L1335.2,1100.2L1336.7,1100.5L1338.2,1100.8L1339.6,1101.0L1341.1,1101.3L1342.6,1101.5L1344.1,1101.7L1345.5,1102.0L1347.0,1102.2L1348.5,1102.4L1350.0,1102.6L1351.4,1102.8L1352.9,1103.0L1354.4,1103.2L1355.9,1103.3L1357.4,1103.5L1358.8,1103.6L1360.3,1103.8L1361.8,1103.9L1363.3,1104.0L1364.8,1104.2L1366.3,1104.3L1367.8,1104.3L1369.3,1104.4L1370.8,1104.5L1372.3,1104.6L1373.8,1104.6L1375.3,1104.7L1376.8,1104.7L1378.3,1104.8L1379.8,1104.8L1381.3,1104.8L1382.8,1104.8L1384.3,1104.8L1385.8,1104.8L1387.3,1104.8L1388.8,1104.8L1390.3,1104.8L1391.8,1104.8L1393.3,1104.8L1394.8,1104.7L1396.3,1104.7L1397.8,1104.7L1399.3,1104.6L1400.9,1104.6L1402.4,1104.5L1403.9,1104.5L1405.4,1104.4L1406.9,1104.3L1408.4,1104.3L1409.9,1104.2L1411.4,1104.1L1412.9,1104.0L1414.3,1104.0L1415.8,1103.9L1417.3,1103.8L1418.8,1103.7L1420.3,1103.6L1421.8,1103.5L1423.3,1103.4L1424.8,1103.3L1426.3,1103.1L1427.8,1103.0L1429.3,1102.9L1430.8,1102.8L1432.3,1102.6L1433.8,1102.5L1435.3,1102.4L1436.8,1102.2L1438.3,1102.1L1439.7,1101.9L1441.2,1101.8L1442.7,1101.6L1444.2,1101.4L1445.7,1101.3L1447.2,1101.1L1448.7,1100.9L1450.2,1100.7L1451.7,1100.6L1453.1,1100.4L1454.6,1100.2L1456.1,1100.0L1457.6,1099.8L1459.1,1099.6L1460.6,1099.4L1462.0,1099.2L1463.5,1099.0L1465.0,1098.8L1466.5,1098.5L1468.0,1098.3L1469.4,1098.1L1470.9,1097.9L1472.4,1097.6L1473.9,1097.4L1475.4,1097.1L1476.8,1096.9L1478.3,1096.7L1479.8,1096.4L1481.3,1096.2L1482.7,1095.9L1484.2,1095.6L1485.7,1095.4L1487.2,1095.1L1488.6,1094.8L1490.1,1094.6L1491.6,1094.3L1493.1,1094.0L1494.5,1093.7L1496.0,1093.5L1497.5,1093.2L1498.9,1092.9L1500.4,1092.6L1501.9,1092.3L1503.3,1092.0L1504.8,1091.7L1506.3,1091.4L1507.7,1091.1L1509.2,1090.7L1510.7,1090.4L1512.1,1090.1L1513.6,1089.8L1515.1,1089.5L1516.5,1089.1L1518.0,1088.8L1519.4,1088.5L1520.9,1088.1L1522.4,1087.8L1523.8,1087.5L1525.3,1087.1L1526.7,1086.8L1528.2,1086.4L1529.6,1086.1L1531.1,1085.7L1532.6,1085.4L1534.0,1085.0L1535.5,1084.6L1536.9,1084.3L1538.4,1083.9L1539.8,1083.5L1541.3,1083.2L1542.7,1082.8L1544.2,1082.4L1545.6,1082.0L1547.1,1081.6L1548.5,1081.2L1550.0,1080.9L1551.4,1080.5L1552.9,1080.1L1554.3,1079.7L1555.7,1079.3L1557.2,1078.9L1558.6,1078.5L1560.1,1078.1L1561.5,1077.7L1563.0,1077.3L1564.4,1076.8L1565.8,1076.4L1567.3,1076.0L1568.7,1075.6L1570.2,1075.2L1571.6,1074.7L1573.0,1074.3L1574.5,1073.9L1575.9,1073.5L1577.3,1073.0L1578.8,1072.6L1580.2,1072.2L1581.6,1071.7L1583.1,1071.3L1584.5,1070.8L1585.9,1070.4L1587.4,1070.0L1588.8,1069.5L1590.2,1069.1L1591.7,1068.6L1593.1,1068.2L1594.5,1067.7L1595.9,1067.2L1597.4,1066.8L1598.8,1066.3L1600.2,1065.9L1601.6,1065.4L1603.1,1064.9L1604.5,1064.5L1605.9,1064.0L1607.3,1063.5L1608.8,1063.1L1610.2,1062.6L1611.6,1062.1L1613.0,1061.6L1614.4,1061.2L1615.9,1060.7L1617.3,1060.2L1618.7,1059.7L1620.1,1059.2L1621.5,1058.8L1623.0,1058.3L1624.4,1057.8L1625.8,1057.3L1627.2,1056.8L1628.6,1056.3L1630.0,1055.8L1631.5,1055.4L1632.9,1054.9L1634.3,1054.4L1635.7,1053.9L1637.1,1053.4L1638.5,1052.9L1640.0,1052.4L1641.4,1051.9L1642.8,1051.4L1644.2,1050.9L1645.6,1050.4L1647.0,1049.9L1648.4,1049.4L1649.8,1048.9L1651.3,1048.4L1652.7,1047.9L1654.1,1047.4L1655.5,1046.9L1656.9,1046.4L1658.3,1045.9L1659.7,1045.4L1661.1,1044.9L1662.6,1044.4L1664.0,1043.9L1665.4,1043.4L1666.8,1042.9L1668.2,1042.4L1669.6,1041.9L1671.0,1041.4L1672.4,1040.9L1673.8,1040.4L1675.3,1039.9L1676.7,1039.3L1678.1,1038.8L1679.5,1038.3L1680.9,1037.8L1682.3,1037.3L1683.7,1036.8L1685.1,1036.3L1686.5,1035.8L1687.9,1035.3L1689.3,1034.8L1690.8,1034.3L1692.2,1033.8L1693.6,1033.3L1695.0,1032.7L1696.4,1032.2L1697.8,1031.7L1699.2,1031.2L1700.6,1030.7L1702.0,1030.2L1703.4,1029.7L1704.8,1029.2L1706.2,1028.7L1707.6,1028.1L1709.0,1027.6L1710.4,1027.1L1711.8,1026.6L1713.3,1026.1L1714.7,1025.6L1716.1,1025.1L1717.5,1024.5L1718.9,1024.0L1720.3,1023.5L1721.7,1023.0L1723.1,1022.5L1724.5,1022.0L1725.9,1021.4L1727.3,1020.9L1728.7,1020.4L1730.1,1019.9L1731.5,1019.4L1732.9,1018.8L1734.3,1018.3L1735.7,1017.8L1737.0,1017.3L1738.4,1016.7L1739.8,1016.2L1741.2,1015.7L1742.6,1015.2L1744.0,1014.6L1745.4,1014.1L1746.8,1013.6L1748.2,1013.1L1749.6,1012.5L1751.0,1012.0L1752.4,1011.5L1753.8,1011.0L1755.2,1010.4L1756.6,1009.9L1758.0,1009.4L1759.4,1008.8L1760.8,1008.3L1762.2,1007.8L1763.6,1007.2L1765.0,1006.7L1766.4,1006.2L1767.8,1005.6L1769.2,1005.1L1770.6,1004.6L1772.0,1004.0L1773.4,1003.5L1774.8,1003.0L1776.2,1002.4L1777.6,1001.9L1779.0,1001.4L1780.3,1000.8L1781.7,1000.3L1783.1,999.8L1784.5,999.2L1785.9,998.7L1787.3,998.2L1788.7,997.6L1790.1,997.1L1791.5,996.6L1792.9,996.0L1794.3,995.5L1795.7,995.0L1797.1,994.4L1798.5,993.9L1799.9,993.3L1801.3,992.8L1802.7,992.3L1804.1,991.7L1805.5,991.2L1806.9,990.7L1808.3,990.1L1809.7,989.6L1811.1,989.1L1812.5,988.5L1813.9,988.0L1815.3,987.5L1816.7,986.9L1818.1,986.4L1819.5,985.8L1820.9,985.3L1822.3,984.8L1823.7,984.2L1825.1,983.7L1826.5,983.2L1827.9,982.6L1829.3,982.1L1830.7,981.6L1832.1,981.1L1833.5,980.5L1834.9,980.0L1836.3,979.5L1837.7,978.9L1839.1,978.4L1840.5,977.9L1841.9,977.3L1843.3,976.8L1844.7,976.3L1846.1,975.8L1847.5,975.2L1848.9,974.7L1850.3,974.2L1851.8,973.6L1853.2,973.1L1854.6,972.6L1856.0,972.1L1857.4,971.5L1858.8,971.0L1860.2,970.5L1861.6,970.0L1863.0,969.4L1864.4,968.9L1865.8,968.4L1867.2,967.9L1868.6,967.4L1870.0,966.8L1871.4,966.3L1872.8,965.8L1874.2,965.3L1875.7,964.8L1877.1,964.3L1878.5,963.8L1879.9,963.2L1881.3,962.7L1882.7,962.2L1884.1,961.7L1885.5,961.2L1886.9,960.7L1888.3,960.2L1889.7,959.7L1891.2,959.2L1892.6,958.6L1894.0,958.1L1895.4,957.6L1896.8,957.1L1898.2,956.6L1899.6,956.1L1901.0,955.6L1902.4,955.1L1903.9,954.6L1905.3,954.1L1906.7,953.6L1908.1,953.1L1909.5,952.6L1910.9,952.2L1912.3,951.7L1913.8,951.2L1915.2,950.7L1916.6,950.2L1918.0,949.7L1919.4,949.2L1920.8,948.7L1922.3,948.2L1923.7,947.8L1925.1,947.3L1926.5,946.8L1927.9,946.3" fill="none" stroke="#0505cc" stroke-width="4.8" stroke-dasharray="23 30"/>
<path d="M276.5,1423.7L276.9,1425.1L277.4,1426.5L277.9,1428.0L278.3,1429.4L278.8,1430.8L279.3,1432.2L279.7,1433.6L280.2,1435.0L280.7,1436.4L281.2,1437.9L281.6,1439.3L282.1,1440.7L282.6,1442.1L283.1,1443.5L283.5,1444.9L284.0,1446.4L284.5,1447.8L285.0,1449.2L285.4,1450.6L285.9,1452.0L286.4,1453.4L286.9,1454.9L287.4,1456.3L287.8,1457.7L288.3,1459.1L288.8,1460.5L289.3,1461.9L289.8,1463.4L290.3,1464.8L290.7,1466.2L291.2,1467.6L291.7,1469.0L292.2,1470.4L292.7,1471.9L293.2,1473.3L293.7,1474.7L294.1,1476.1L294.6,1477.5L295.1,1479.0L295.6,1480.4L296.1,1481.8L296.6,1483.2L297.1,1484.6L297.6,1486.1L298.1,1487.5L298.5,1488.9L299.0,1490.3L299.5,1491.7L300.0,1493.2L300.5,1494.6L301.0,1496.0L301.5,1497.4L302.0,1498.8L302.5,1500.2L303.0,1501.7L303.5,1503.1L304.0,1504.5L304.5,1505.9L305.0,1507.3L305.4,1508.8L305.9,1510.2L306.4,1511.6L306.9,1513.0L307.4,1514.4L307.9,1515.8L308.4,1517.3L308.9,1518.7L309.4,1520.1L309.9,1521.5L310.4,1522.9L310.9,1524.3L311.4,1525.8L311.9,1527.2L312.4,1528.6L312.9,1530.0L313.4,1531.4L313.9,1532.8L314.4,1534.2L314.9,1535.7L315.4,1537.1L315.9,1538.5L316.4,1539.9L316.9,1541.3L317.4,1542.7L317.9,1544.1L318.4,1545.5L318.9,1546.9L319.4,1548.4L319.9,1549.8L320.5,1551.2L321.0,1552.6L321.5,1554.0L322.0,1555.4L322.6,1556.8L323.1,1558.2L323.7,1559.5L324.2,1560.9L324.8,1562.3L325.3,1563.7L325.9,1565.1L326.5,1566.5L327.1,1567.9L327.7,1569.2L328.3,1570.6L328.9,1572.0L329.5,1573.3L330.1,1574.7L330.7,1576.1L331.3,1577.4L332.0,1578.8L332.6,1580.1L333.3,1581.5L334.0,1582.8L334.7,1584.2L335.4,1585.5L336.1,1586.8L336.8,1588.2L337.5,1589.5L338.2,1590.8L339.0,1592.1L339.7,1593.4L340.5,1594.7L341.3,1596.0L342.1,1597.3L342.9,1598.6L343.7,1599.8L344.6,1601.1L345.5,1602.3L346.4,1603.5L347.3,1604.7L348.2,1605.8L349.2,1607.0L350.2,1608.1L351.2,1609.2L352.3,1610.2L353.4,1611.3L354.5,1612.3L355.6,1613.2L356.8,1614.2L358.0,1615.1L359.2,1615.9L360.5,1616.8L361.8,1617.5L363.2,1618.3L364.5,1619.0L365.9,1619.6L367.3,1620.2L368.7,1620.7L370.1,1621.1L371.6,1621.5L373.0,1621.8L374.4,1622.1L375.9,1622.3L377.3,1622.5L378.8,1622.6L380.3,1622.7L381.8,1622.7L383.2,1622.8L384.7,1622.8L386.2,1622.8L387.7,1622.8L389.2,1622.8L390.7,1622.8L392.3,1622.8L393.8,1622.8L395.3,1622.9L396.9,1623.0L398.4,1623.1L399.9,1623.2L401.5,1623.4L403.0,1623.5L404.6,1623.6L406.1,1623.8L407.7,1623.9L409.2,1624.1L410.7,1624.2L412.3,1624.3L413.8,1624.4L415.3,1624.5L416.9,1624.5L418.4,1624.5L419.9,1624.5L421.4,1624.5L422.9,1624.4L424.4,1624.4L425.8,1624.2L427.3,1624.1L428.8,1623.9L430.2,1623.8L431.7,1623.5L433.1,1623.3L434.6,1623.0L436.0,1622.8L437.4,1622.5L438.9,1622.2L440.3,1621.8L441.7,1621.5L443.1,1621.1L444.6,1620.7L446.0,1620.3L447.4,1619.9L448.8,1619.4L450.2,1619.0L451.6,1618.5L453.0,1618.0L454.4,1617.5L455.8,1617.0L457.2,1616.5L458.6,1616.0L459.9,1615.4L461.3,1614.9L462.7,1614.3L464.1,1613.8L465.5,1613.2L466.9,1612.6L468.3,1612.1L469.7,1611.5L471.1,1610.9L472.5,1610.3L473.9,1609.7L475.2,1609.1L476.6,1608.5L478.0,1607.9L479.4,1607.3L480.8,1606.6L482.2,1606.0L483.6,1605.4L485.0,1604.7L486.3,1604.1L487.7,1603.4L489.1,1602.8L490.4,1602.1L491.8,1601.4L493.1,1600.7L494.5,1600.0L495.8,1599.3L497.1,1598.6L498.4,1597.8L499.7,1597.1L501.0,1596.3L502.3,1595.5L503.6,1594.7L504.8,1593.9L506.1,1593.0L507.3,1592.2L508.5,1591.3L509.7,1590.5L510.9,1589.6L512.1,1588.6L513.2,1587.7L514.4,1586.7L515.5,1585.8L516.6,1584.8L517.7,1583.7L518.7,1582.7L519.8,1581.6L520.8,1580.6L521.8,1579.4L522.8,1578.3L523.8,1577.2L524.7,1576.0L525.7,1574.9L526.6,1573.7L527.5,1572.5L528.4,1571.3L529.3,1570.1L530.2,1568.8L531.1,1567.6L532.0,1566.4L532.8,1565.1L533.7,1563.9L534.5,1562.6L535.4,1561.4L536.2,1560.2L537.1,1558.9L537.9,1557.7L538.8,1556.4L539.6,1555.2L540.5,1554.0L541.3,1552.8L542.2,1551.6L543.1,1550.4L543.9,1549.2L544.8,1548.0L545.7,1546.8L546.6,1545.7L547.5,1544.6L548.4,1543.5L549.4,1542.4L550.4,1541.4L551.4,1540.6L552.6,1539.8L553.8,1539.2L555.2,1538.8L556.6,1538.5L558.2,1538.5L559.9,1538.5L561.6,1538.6L563.3,1538.8L565.0,1538.8L566.6,1538.7L568.0,1538.4L569.3,1537.8L570.4,1537.0L571.4,1536.0L572.3,1534.9L573.1,1533.7L573.9,1532.3L574.6,1531.0L575.3,1529.6L576.0,1528.3L576.6,1526.9L577.2,1525.5L577.8,1524.1L578.4,1522.7L579.0,1521.3L579.6,1519.9L580.1,1518.5L580.6,1517.1L581.1,1515.7L581.6,1514.3L582.1,1512.9L582.5,1511.4L583.0,1510.0L583.4,1508.6L583.8,1507.1L584.2,1505.7L584.6,1504.2L585.0,1502.8L585.4,1501.4L585.8,1499.9L586.1,1498.5L586.4,1497.0L586.8,1495.5L587.1,1494.1L587.4,1492.6L587.7,1491.2L588.0,1489.7L588.3,1488.2L588.6,1486.7L588.9,1485.3L589.2,1483.8L589.5,1482.3L589.8,1480.9L590.0,1479.4L590.3,1477.9L590.6,1476.4L590.9,1475.0L591.1,1473.5L591.4,1472.0L591.7,1470.5L591.9,1469.0L592.2,1467.6L592.4,1466.1L592.7,1464.6L592.9,1463.1L593.2,1461.6L593.4,1460.2L593.7,1458.7L593.9,1457.2L594.2,1455.7L594.4,1454.2L594.6,1452.7L594.9,1451.2L595.1,1449.8L595.3,1448.3L595.6,1446.8L595.8,1445.3L596.0,1443.8L596.2,1442.3L596.5,1440.8L596.7,1439.3L596.9,1437.9L597.1,1436.4L597.3,1434.9L597.5,1433.4L597.7,1431.9L597.9,1430.4L598.1,1428.9L598.4,1427.4L598.6,1425.9L598.8,1424.4L599.0,1423.0L599.2,1421.5L599.3,1420.0L599.5,1418.5L599.7,1417.0L599.9,1415.5L600.1,1414.0L600.3,1412.5L600.5,1411.0L600.7,1409.5L600.8,1408.0L601.0,1406.5L601.2,1405.0L601.4,1403.6L601.6,1402.1L601.7,1400.6L601.9,1399.1L602.1,1397.6L602.3,1396.1L602.4,1394.6L602.6,1393.1L602.8,1391.6L602.9,1390.1L603.1,1388.6L603.2,1387.1L603.4,1385.7L603.6,1384.2L603.7,1382.7L603.9,1381.2L604.0,1379.7L604.2,1378.2L604.3,1376.7L604.5,1375.2L604.6,1373.7L604.8,1372.3L604.9,1370.8L605.1,1369.3L605.2,1367.8L605.4,1366.3L605.5,1364.8L605.6,1363.3L605.8,1361.9L605.9,1360.4L606.1,1358.9L606.2,1357.4L606.3,1355.9L606.5,1354.4L606.6,1353.0L606.7,1351.5L606.9,1350.0L607.0,1348.5L607.1,1347.0L607.3,1345.6L607.4,1344.1L607.5,1342.6L607.6,1341.1L607.8,1339.6L607.9,1338.2L608.0,1336.7L608.2,1335.2L608.3,1333.7L608.4,1332.2L608.5,1330.8L608.7,1329.3L608.8,1327.8L608.9,1326.3L609.1,1324.8L609.2,1323.4L609.3,1321.9L609.4,1320.4L609.6,1318.9L609.7,1317.4L609.9,1315.9L610.0,1314.4L610.1,1313.0L610.3,1311.5L610.4,1310.0L610.5,1308.5L610.7,1307.0L610.8,1305.5L611.0,1304.0L611.1,1302.5L611.3,1301.0L611.4,1299.5L611.6,1298.0L611.8,1296.5L611.9,1294.9L612.1,1293.4L612.2,1291.9L612.4,1290.4L612.6,1288.9L612.8,1287.3L612.9,1285.8L613.1,1284.3L613.3,1282.8L613.5,1281.2L613.7,1279.7L613.9,1278.1L614.1,1276.6L614.3,1275.1L614.5,1273.5L614.7,1272.0L614.9,1270.4L615.2,1268.9L615.5,1267.3L615.9,1265.8L616.3,1264.3L616.8,1262.8L617.4,1261.4L618.0,1259.9L618.8,1258.5L619.6,1257.2L620.5,1256.3L621.5,1255.7L622.5,1255.7L623.4,1256.3L624.3,1257.3L625.2,1258.5L625.9,1260.0L626.4,1261.5L626.8,1263.1L627.2,1264.7L627.4,1266.4L627.6,1268.1L627.7,1269.9L627.7,1271.6L627.8,1273.3L627.8,1275.0L627.8,1276.7L627.9,1278.3L628.0,1279.9L628.1,1281.4L628.2,1282.9L628.3,1284.4L628.5,1285.8L628.6,1287.2L628.7,1288.6L628.9,1290.0L629.1,1291.4L629.2,1292.8L629.4,1294.2L629.5,1295.5L629.7,1296.9L629.8,1298.3L630.0,1299.7L630.1,1301.1L630.3,1302.6L630.4,1304.0L630.5,1305.5L630.6,1307.0L630.7,1308.5L630.9,1310.0L631.0,1311.5L631.1,1313.0L631.2,1314.5L631.3,1316.0L631.4,1317.6L631.5,1319.1L631.6,1320.6L631.7,1322.2L631.8,1323.7L631.9,1325.2L632.0,1326.8L632.2,1328.3L632.3,1329.8L632.4,1331.3L632.5,1332.8L632.6,1334.3L632.8,1335.9L632.9,1337.4L633.0,1338.9L633.2,1340.4L633.3,1341.9L633.4,1343.4L633.6,1344.8L633.7,1346.3L633.9,1347.8L634.0,1349.3L634.2,1350.8L634.3,1352.3L634.5,1353.8L634.6,1355.3L634.8,1356.7L635.0,1358.2L635.1,1359.7L635.3,1361.2L635.4,1362.7L635.6,1364.1L635.8,1365.6L635.9,1367.1L636.1,1368.6L636.3,1370.0L636.4,1371.5L636.6,1373.0L636.8,1374.5L636.9,1376.0L637.1,1377.4L637.3,1378.9L637.4,1380.4L637.6,1381.9L637.8,1383.4L638.0,1384.8L638.1,1386.3L638.3,1387.8L638.5,1389.3L638.7,1390.8L638.8,1392.3L639.0,1393.8L639.2,1395.3L639.4,1396.7L639.6,1398.2L639.7,1399.7L639.9,1401.2L640.1,1402.7L640.3,1404.2L640.5,1405.7L640.7,1407.2L640.8,1408.7L641.0,1410.2L641.2,1411.7L641.4,1413.2L641.6,1414.6L641.8,1416.1L642.0,1417.6L642.2,1419.1L642.4,1420.6L642.6,1422.1L642.8,1423.6L643.0,1425.1L643.2,1426.6L643.4,1428.1L643.6,1429.6L643.8,1431.1L644.0,1432.6L644.2,1434.1L644.4,1435.6L644.6,1437.0L644.8,1438.5L645.1,1440.0L645.3,1441.5L645.5,1443.0L645.7,1444.5L645.9,1446.0L646.2,1447.5L646.4,1449.0L646.6,1450.5L646.8,1451.9L647.1,1453.4L647.3,1454.9L647.5,1456.4L647.8,1457.9L648.0,1459.4L648.3,1460.8L648.5,1462.3L648.8,1463.8L649.0,1465.3L649.3,1466.8L649.5,1468.2L649.8,1469.7L650.0,1471.2L650.3,1472.7L650.5,1474.1L650.8,1475.6L651.1,1477.1L651.3,1478.6L651.6,1480.0L651.9,1481.5L652.2,1483.0L652.4,1484.4L652.7,1485.9L653.0,1487.3L653.3,1488.8L653.6,1490.3L653.9,1491.7L654.2,1493.2L654.5,1494.6L654.8,1496.1L655.1,1497.5L655.4,1499.0L655.7,1500.4L656.0,1501.9L656.3,1503.3L656.6,1504.8L657.0,1506.2L657.3,1507.6L657.6,1509.1L658.0,1510.5L658.3,1511.9L658.6,1513.4L659.0,1514.8L659.3,1516.2L659.7,1517.7L660.1,1519.1L660.5,1520.5L660.9,1521.9L661.3,1523.4L661.7,1524.8L662.2,1526.3L662.6,1527.7L663.1,1529.1L663.6,1530.6L664.2,1532.0L664.7,1533.5L665.3,1534.9L665.9,1536.4L666.5,1537.9L667.1,1539.4L667.8,1540.8L668.5,1542.3L669.2,1543.8L670.0,1545.3L670.8,1546.8L671.6,1548.3L672.5,1549.7L673.4,1551.0L674.4,1552.2L675.4,1553.4L676.4,1554.3L677.5,1555.2L678.7,1555.8L679.9,1556.2L681.1,1556.5L682.4,1556.5L683.7,1556.4L685.1,1556.1L686.4,1555.6L687.7,1555.0L689.1,1554.3L690.4,1553.5L691.7,1552.6L692.9,1551.6L694.1,1550.6L695.2,1549.5L696.3,1548.4L697.2,1547.2L698.1,1546.0L698.9,1544.8L699.7,1543.6L700.3,1542.4L701.0,1541.1L701.5,1539.9L702.0,1538.6L702.5,1537.3L703.0,1535.9L703.4,1534.6L703.8,1533.2L704.2,1531.7L704.5,1530.3L704.9,1528.8L705.3,1527.3L705.7,1525.8L706.2,1524.2L706.6,1522.6L707.1,1521.0L707.7,1519.3L708.3,1517.6L708.9,1515.8L709.6,1514.1L710.4,1512.5L711.2,1511.0L712.1,1509.9L713.0,1509.0L714.0,1508.6L715.0,1508.6L716.0,1509.2L717.1,1510.1L718.1,1511.3L719.1,1512.7L720.0,1514.2L720.7,1515.8L721.4,1517.3L722.0,1518.8L722.4,1520.3L722.8,1521.8L723.2,1523.3L723.5,1524.8L723.8,1526.3L724.0,1527.8L724.3,1529.3L724.5,1530.8L724.8,1532.2L725.1,1533.7L725.3,1535.2L725.6,1536.6L726.0,1538.1L726.3,1539.6L726.6,1541.0L726.9,1542.5L727.3,1543.9L727.6,1545.3L727.9,1546.8L728.3,1548.2L728.6,1549.6L729.0,1551.1L729.3,1552.5L729.7,1553.9L730.0,1555.3L730.4,1556.7L730.7,1558.2L731.1,1559.6L731.5,1561.0L731.9,1562.4L732.3,1563.8L732.7,1565.2L733.1,1566.7L733.5,1568.1L733.9,1569.5L734.3,1571.0L734.8,1572.4L735.2,1573.9L735.7,1575.3L736.2,1576.8L736.7,1578.2L737.2,1579.7L737.7,1581.2L738.2,1582.7L738.8,1584.2L739.4,1585.7L740.0,1587.1L740.6,1588.6L741.3,1590.0L742.0,1591.4L742.8,1592.7L743.6,1594.0L744.5,1595.2L745.4,1596.3L746.4,1597.4L747.4,1598.5L748.5,1599.5L749.6,1600.4L750.8,1601.3L752.0,1602.1L753.2,1602.9L754.5,1603.7L755.8,1604.4L757.1,1605.1L758.4,1605.7L759.8,1606.3L761.2,1606.9L762.6,1607.5L764.0,1608.0L765.4,1608.5L766.9,1609.0L768.3,1609.4L769.8,1609.9L771.2,1610.3L772.7,1610.7L774.1,1611.1L775.6,1611.5L777.0,1611.9L778.5,1612.2L780.0,1612.6L781.4,1612.9L782.9,1613.2L784.4,1613.5L785.8,1613.8L787.3,1614.1L788.8,1614.3L790.3,1614.6L791.7,1614.8L793.2,1615.0L794.7,1615.3L796.2,1615.5L797.6,1615.7L799.1,1615.8L800.6,1616.0L802.1,1616.2L803.6,1616.3L805.1,1616.5L806.6,1616.6L808.0,1616.8L809.5,1616.9L811.0,1617.0L812.5,1617.1L814.0,1617.2L815.5,1617.3L817.0,1617.4L818.5,1617.5L820.0,1617.5L821.5,1617.6L823.0,1617.7L824.5,1617.7L826.0,1617.8L827.5,1617.8L829.0,1617.8L830.4,1617.9L831.9,1617.9L833.4,1617.9L834.9,1617.9L836.4,1618.0L838.0,1618.0L839.5,1618.0L841.0,1618.0L842.5,1618.0L844.0,1618.0L845.5,1618.0L847.0,1618.0L848.5,1618.0L850.0,1618.0L851.5,1618.0L853.0,1618.0L854.5,1618.0L856.0,1618.0L857.5,1617.9L859.0,1617.9L860.5,1617.9L862.0,1617.9L863.5,1617.9L865.0,1617.9L866.5,1617.9L868.0,1617.9L869.5,1617.9L871.0,1617.9L872.5,1617.9L874.0,1617.9L875.5,1617.9L877.0,1617.9L878.5,1617.9L880.0,1617.9L881.5,1617.9L883.0,1617.9L884.5,1617.9L886.0,1618.0L887.5,1618.0L889.0,1618.0L890.5,1618.0L892.0,1618.0L893.5,1618.0L895.1,1618.0L896.6,1618.0L898.1,1618.0L899.6,1618.0L901.1,1618.1L902.6,1618.1L904.1,1618.1L905.6,1618.1L907.1,1618.1L908.6,1618.1L910.1,1618.2L911.6,1618.2L913.1,1618.2L914.6,1618.2L916.1,1618.2L917.6,1618.3L919.1,1618.3L920.6,1618.3L922.1,1618.3L923.6,1618.4L925.1,1618.4L926.6,1618.4L928.1,1618.4L929.6,1618.5L931.1,1618.5L932.6,1618.5L934.1,1618.5L935.6,1618.6L937.1,1618.6L938.6,1618.6L940.1,1618.7L941.6,1618.7L943.1,1618.7L944.6,1618.8L946.1,1618.8L947.6,1618.8L949.1,1618.9L950.6,1618.9L952.1,1619.0L953.6,1619.0L955.1,1619.0L956.6,1619.1L958.1,1619.1L959.6,1619.2L961.1,1619.2L962.6,1619.2L964.1,1619.3L965.6,1619.3L967.1,1619.4L968.6,1619.4L970.1,1619.5L971.6,1619.5L973.1,1619.6L974.6,1619.6L976.1,1619.7L977.6,1619.7L979.1,1619.8L980.6,1619.8L982.1,1619.9L983.6,1619.9L985.1,1620.0L986.6,1620.0L988.1,1620.1L989.6,1620.1L991.1,1620.2L992.6,1620.2L994.0,1620.3L995.5,1620.4L997.0,1620.4L998.5,1620.5L1000.0,1620.5L1001.5,1620.6L1003.0,1620.7L1004.5,1620.7L1006.0,1620.8L1007.5,1620.8L1009.0,1620.9L1010.5,1621.0L1012.0,1621.0L1013.5,1621.1L1015.0,1621.2L1016.5,1621.2L1018.0,1621.3L1019.5,1621.4L1021.0,1621.4L1022.5,1621.5L1024.0,1621.6L1025.5,1621.6L1027.0,1621.7L1028.5,1621.8L1030.0,1621.9L1031.5,1621.9L1033.0,1622.0L1034.5,1622.1L1036.0,1622.2L1037.5,1622.2L1039.0,1622.3L1040.5,1622.4L1042.0,1622.5L1043.5,1622.5L1045.0,1622.6L1046.5,1622.7L1048.0,1622.8L1049.5,1622.9L1051.0,1622.9L1052.5,1623.0L1054.0,1623.1L1055.4,1623.2L1056.9,1623.3L1058.4,1623.4L1059.9,1623.4L1061.4,1623.5L1062.9,1623.6L1064.4,1623.7L1065.9,1623.8L1067.4,1623.9L1068.9,1624.0L1070.4,1624.1L1071.9,1624.1L1073.4,1624.2L1074.9,1624.3L1076.4,1624.4L1077.9,1624.5L1079.4,1624.6L1080.9,1624.7L1082.4,1624.8L1083.9,1624.9L1085.4,1625.0L1086.9,1625.1L1088.4,1625.2L1089.9,1625.3L1091.4,1625.4L1092.9,1625.5L1094.4,1625.6L1095.9,1625.7L1097.3,1625.8L1098.8,1625.9L1100.3,1626.0L1101.8,1626.1L1103.3,1626.2L1104.8,1626.3L1106.3,1626.4L1107.8,1626.5L1109.3,1626.6L1110.8,1626.7L1112.3,1626.8L1113.8,1626.9L1115.3,1627.0L1116.8,1627.1L1118.3,1627.2L1119.8,1627.3L1121.3,1627.4L1122.8,1627.5L1124.3,1627.6L1125.8,1627.7L1127.3,1627.8L1128.8,1628.0L1130.3,1628.1L1131.7,1628.2L1133.2,1628.3L1134.7,1628.4L1136.2,1628.5L1137.7,1628.6L1139.2,1628.7L1140.7,1628.8L1142.2,1629.0L1143.7,1629.1L1145.2,1629.2L1146.7,1629.3L1148.2,1629.4L1149.7,1629.5L1151.2,1629.6L1152.7,1629.8L1154.2,1629.9L1155.7,1630.0L1157.2,1630.1L1158.7,1630.2L1160.2,1630.3L1161.7,1630.5L1163.1,1630.6L1164.6,1630.7L1166.1,1630.8L1167.6,1630.9L1169.1,1631.0L1170.6,1631.2L1172.1,1631.3L1173.6,1631.4L1175.1,1631.5L1176.6,1631.6L1178.1,1631.8L1179.6,1631.9L1181.1,1632.0L1182.6,1632.1L1184.1,1632.3L1185.6,1632.4L1187.1,1632.5L1188.6,1632.6L1190.1,1632.7L1191.6,1632.9L1193.0,1633.0L1194.5,1633.1L1196.0,1633.2L1197.5,1633.4L1199.0,1633.5L1200.5,1633.6L1202.0,1633.7L1203.5,1633.9L1205.0,1634.0L1206.5,1634.1L1208.0,1634.2L1209.5,1634.4L1211.0,1634.5L1212.5,1634.6L1214.0,1634.7L1215.5,1634.9L1217.0,1635.0L1218.5,1635.1L1219.9,1635.3L1221.4,1635.4L1222.9,1635.5L1224.4,1635.6L1225.9,1635.8L1227.4,1635.9L1228.9,1636.0L1230.4,1636.1L1231.9,1636.3L1233.4,1636.4L1234.9,1636.5L1236.4,1636.7L1237.9,1636.8L1239.4,1636.9L1240.9,1637.0L1242.4,1637.2L1243.9,1637.3L1245.4,1637.4L1246.9,1637.6L1248.3,1637.7L1249.8,1637.8L1251.3,1638.0L1252.8,1638.1L1254.3,1638.2L1255.8,1638.3L1257.3,1638.5L1258.8,1638.6L1260.3,1638.7L1261.8,1638.9L1263.3,1639.0L1264.8,1639.1L1266.3,1639.3L1267.8,1639.4L1269.3,1639.5L1270.8,1639.6L1272.3,1639.8L1273.8,1639.9L1275.2,1640.0L1276.7,1640.2L1278.2,1640.3L1279.7,1640.4L1281.2,1640.6L1282.7,1640.7L1284.2,1640.8L1285.7,1640.9L1287.2,1641.1L1288.7,1641.2L1290.2,1641.3L1291.7,1641.5L1293.2,1641.6L1294.7,1641.7L1296.2,1641.9L1297.7,1642.0L1299.2,1642.1L1300.7,1642.2L1302.1,1642.4L1303.6,1642.5L1305.1,1642.6L1306.6,1642.8L1308.1,1642.9L1309.6,1643.0L1311.1,1643.2L1312.6,1643.3L1314.1,1643.4L1315.6,1643.5L1317.1,1643.7L1318.6,1643.8L1320.1,1643.9L1321.6,1644.1L1323.1,1644.2L1324.6,1644.3L1326.1,1644.4L1327.6,1644.6L1329.0,1644.7L1330.5,1644.8L1332.0,1644.9L1333.5,1645.1L1335.0,1645.2L1336.5,1645.3L1338.0,1645.5L1339.5,1645.6L1341.0,1645.7L1342.5,1645.8L1344.0,1646.0L1345.5,1646.1L1347.0,1646.2L1348.5,1646.3L1350.0,1646.5L1351.5,1646.6L1353.0,1646.7L1354.5,1646.8L1356.0,1647.0L1357.4,1647.1L1358.9,1647.2L1360.4,1647.3L1361.9,1647.5L1363.4,1647.6L1364.9,1647.7L1366.4,1647.8L1367.9,1647.9L1369.4,1648.1L1370.9,1648.2L1372.4,1648.3L1373.9,1648.4L1375.4,1648.6L1376.9,1648.7L1378.4,1648.8L1379.9,1648.9L1381.4,1649.0L1382.9,1649.2L1384.4,1649.3L1385.9,1649.4L1387.3,1649.5L1388.8,1649.6L1390.3,1649.8L1391.8,1649.9L1393.3,1650.0L1394.8,1650.1L1396.3,1650.2L1397.8,1650.3L1399.3,1650.5L1400.8,1650.6L1402.3,1650.7L1403.8,1650.8L1405.3,1650.9L1406.8,1651.0L1408.3,1651.2L1409.8,1651.3L1411.3,1651.4L1412.8,1651.5L1414.3,1651.6L1415.8,1651.7L1417.2,1651.9L1418.7,1652.0L1420.2,1652.1L1421.7,1652.2L1423.2,1652.3L1424.7,1652.4L1426.2,1652.5L1427.7,1652.6L1429.2,1652.8L1430.7,1652.9L1432.2,1653.0L1433.7,1653.1L1435.2,1653.2L1436.7,1653.3L1438.2,1653.4L1439.7,1653.5L1441.2,1653.7L1442.7,1653.8L1444.2,1653.9L1445.7,1654.0L1447.2,1654.1L1448.7,1654.2L1450.2,1654.3L1451.6,1654.4L1453.1,1654.5L1454.6,1654.6L1456.1,1654.7L1457.6,1654.9L1459.1,1655.0L1460.6,1655.1L1462.1,1655.2L1463.6,1655.3L1465.1,1655.4L1466.6,1655.5L1468.1,1655.6L1469.6,1655.7L1471.1,1655.8L1472.6,1655.9L1474.1,1656.0L1475.6,1656.1L1477.1,1656.2L1478.6,1656.3L1480.1,1656.4L1481.6,1656.5L1483.1,1656.6L1484.6,1656.8L1486.1,1656.9L1487.5,1657.0L1489.0,1657.1L1490.5,1657.2L1492.0,1657.3L1493.5,1657.4L1495.0,1657.5L1496.5,1657.6L1498.0,1657.7L1499.5,1657.8L1501.0,1657.9L1502.5,1658.0L1504.0,1658.1L1505.5,1658.2L1507.0,1658.3L1508.5,1658.4L1510.0,1658.5L1511.5,1658.6L1513.0,1658.7L1514.5,1658.8L1516.0,1658.9L1517.5,1659.0L1519.0,1659.1L1520.5,1659.2L1522.0,1659.3L1523.5,1659.4L1525.0,1659.4L1526.4,1659.5L1527.9,1659.6L1529.4,1659.7L1530.9,1659.8L1532.4,1659.9L1533.9,1660.0L1535.4,1660.1L1536.9,1660.2L1538.4,1660.3L1539.9,1660.4L1541.4,1660.5L1542.9,1660.6L1544.4,1660.7L1545.9,1660.8L1547.4,1660.9L1548.9,1661.0L1550.4,1661.0L1551.9,1661.1L1553.4,1661.2L1554.9,1661.3L1556.4,1661.4L1557.9,1661.5L1559.4,1661.6L1560.9,1661.7L1562.4,1661.8L1563.9,1661.9L1565.4,1662.0L1566.9,1662.0L1568.4,1662.1L1569.8,1662.2L1571.3,1662.3L1572.8,1662.4L1574.3,1662.5L1575.8,1662.6L1577.3,1662.7L1578.8,1662.7L1580.3,1662.8L1581.8,1662.9L1583.3,1663.0L1584.8,1663.1L1586.3,1663.2L1587.8,1663.3L1589.3,1663.3L1590.8,1663.4L1592.3,1663.5L1593.8,1663.6L1595.3,1663.7L1596.8,1663.8L1598.3,1663.9L1599.8,1663.9L1601.3,1664.0L1602.8,1664.1L1604.3,1664.2L1605.8,1664.3L1607.3,1664.3L1608.8,1664.4L1610.3,1664.5L1611.8,1664.6L1613.3,1664.7L1614.8,1664.8L1616.3,1664.8L1617.8,1664.9L1619.2,1665.0L1620.7,1665.1L1622.2,1665.2L1623.7,1665.2L1625.2,1665.3L1626.7,1665.4L1628.2,1665.5L1629.7,1665.5L1631.2,1665.6L1632.7,1665.7L1634.2,1665.8L1635.7,1665.8L1637.2,1665.9L1638.7,1666.0L1640.2,1666.1L1641.7,1666.2L1643.2,1666.2L1644.7,1666.3L1646.2,1666.4L1647.7,1666.5L1649.2,1666.5L1650.7,1666.6L1652.2,1666.7L1653.7,1666.7L1655.2,1666.8L1656.7,1666.9L1658.2,1667.0L1659.7,1667.0L1661.2,1667.1L1662.7,1667.2L1664.2,1667.2L1665.7,1667.3L1667.2,1667.4L1668.7,1667.5L1670.2,1667.5L1671.7,1667.6L1673.2,1667.7L1674.7,1667.7L1676.2,1667.8L1677.7,1667.9L1679.2,1667.9L1680.7,1668.0L1682.2,1668.1L1683.6,1668.1L1685.1,1668.2L1686.6,1668.3L1688.1,1668.3L1689.6,1668.4L1691.1,1668.5L1692.6,1668.5L1694.1,1668.6L1695.6,1668.7L1697.1,1668.7L1698.6,1668.8L1700.1,1668.9L1701.6,1668.9L1703.1,1669.0L1704.6,1669.1L1706.1,1669.1L1707.6,1669.2L1709.1,1669.2L1710.6,1669.3L1712.1,1669.4L1713.6,1669.4L1715.1,1669.5L1716.6,1669.6L1718.1,1669.6L1719.6,1669.7L1721.1,1669.7L1722.6,1669.8L1724.1,1669.9L1725.6,1669.9L1727.1,1670.0L1728.6,1670.0L1730.1,1670.1L1731.6,1670.1L1733.1,1670.2L1734.6,1670.3L1736.1,1670.3L1737.6,1670.4L1739.1,1670.4L1740.6,1670.5L1742.1,1670.5L1743.6,1670.6L1745.1,1670.7L1746.6,1670.7L1748.1,1670.8L1749.6,1670.8L1751.1,1670.9L1752.6,1670.9L1754.1,1671.0L1755.6,1671.0L1757.1,1671.1L1758.6,1671.1L1760.1,1671.2L1761.6,1671.2L1763.1,1671.3L1764.6,1671.3L1766.1,1671.4L1767.6,1671.5L1769.1,1671.5L1770.6,1671.6L1772.1,1671.6L1773.6,1671.7L1775.1,1671.7L1776.6,1671.7L1778.1,1671.8L1779.6,1671.8L1781.1,1671.9L1782.5,1671.9L1784.0,1672.0L1785.5,1672.0L1787.0,1672.1L1788.5,1672.1L1790.0,1672.2L1791.5,1672.2L1793.0,1672.3L1794.5,1672.3L1796.0,1672.4L1797.5,1672.4L1799.0,1672.4L1800.5,1672.5L1802.0,1672.5L1803.5,1672.6L1805.0,1672.6L1806.5,1672.7L1808.0,1672.7L1809.5,1672.7L1811.0,1672.8L1812.5,1672.8L1814.0,1672.9L1815.5,1672.9L1817.0,1673.0L1818.5,1673.0L1820.0,1673.0L1821.5,1673.1L1823.0,1673.1L1824.5,1673.2L1826.0,1673.2L1827.5,1673.2L1829.0,1673.3L1830.5,1673.3L1832.0,1673.3L1833.5,1673.4L1835.0,1673.4L1836.5,1673.5L1838.0,1673.5L1839.5,1673.5L1841.0,1673.6L1842.5,1673.6L1844.0,1673.6L1845.5,1673.7L1847.0,1673.7L1848.5,1673.7L1850.0,1673.8L1851.5,1673.8L1853.0,1673.8L1854.5,1673.9L1856.0,1673.9L1857.5,1673.9L1859.0,1674.0L1860.5,1674.0L1862.0,1674.0L1863.5,1674.1L1865.0,1674.1L1866.5,1674.1L1868.0,1674.1L1869.5,1674.2L1871.0,1674.2L1872.5,1674.2L1874.0,1674.3L1875.5,1674.3L1877.0,1674.3L1878.5,1674.3L1880.0,1674.4L1881.5,1674.4L1883.0,1674.4L1884.5,1674.4L1886.0,1674.5L1887.5,1674.5L1889.0,1674.5L1890.5,1674.6L1892.0,1674.6L1893.5,1674.6L1895.0,1674.6L1896.5,1674.6L1898.0,1674.7L1899.5,1674.7L1901.0,1674.7L1902.5,1674.7L1904.0,1674.8L1905.5,1674.8L1907.0,1674.8L1908.5,1674.8L1910.0,1674.8L1911.5,1674.9L1913.0,1674.9L1914.5,1674.9L1916.0,1674.9L1917.5,1674.9L1919.0,1675.0L1920.5,1675.0L1922.0,1675.0L1923.5,1675.0L1925.0,1675.0L1926.5,1675.0L1928.0,1675.1" fill="none" stroke="#000" stroke-width="4.0" stroke-linejoin="round"/>
<path d="M276.3,1431.9L277.1,1433.1L277.9,1434.4L278.6,1435.7L279.4,1436.9L280.1,1438.2L280.8,1439.5L281.5,1440.8L282.2,1442.1L282.9,1443.5L283.5,1444.8L284.1,1446.1L284.8,1447.5L285.4,1448.9L286.0,1450.2L286.6,1451.6L287.1,1453.0L287.7,1454.3L288.2,1455.7L288.8,1457.1L289.3,1458.5L289.8,1459.9L290.4,1461.4L290.9,1462.8L291.4,1464.2L291.9,1465.6L292.4,1467.0L292.8,1468.5L293.3,1469.9L293.8,1471.3L294.3,1472.8L294.7,1474.2L295.2,1475.6L295.7,1477.1L296.1,1478.5L296.6,1480.0L297.0,1481.4L297.5,1482.8L298.0,1484.3L298.4,1485.7L298.9,1487.2L299.3,1488.6L299.8,1490.0L300.3,1491.5L300.8,1492.9L301.2,1494.3L301.7,1495.7L302.2,1497.1L302.7,1498.6L303.2,1500.0L303.7,1501.4L304.2,1502.8L304.8,1504.2L305.3,1505.6L305.8,1507.0L306.4,1508.3L306.9,1509.7L307.5,1511.1L308.0,1512.5L308.6,1513.9L309.1,1515.2L309.7,1516.6L310.3,1518.0L310.9,1519.3L311.5,1520.7L312.1,1522.0L312.6,1523.4L313.3,1524.7L313.9,1526.1L314.5,1527.4L315.1,1528.8L315.7,1530.1L316.3,1531.5L317.0,1532.8L317.6,1534.2L318.2,1535.5L318.9,1536.8L319.5,1538.2L320.2,1539.5L320.8,1540.8L321.5,1542.2L322.2,1543.5L322.8,1544.8L323.5,1546.2L324.2,1547.5L324.8,1548.8L325.5,1550.2L326.2,1551.5L326.9,1552.8L327.6,1554.2L328.3,1555.5L329.0,1556.8L329.7,1558.2L330.4,1559.5L331.1,1560.8L331.8,1562.2L332.5,1563.5L333.2,1564.9L333.9,1566.2L334.6,1567.6L335.4,1568.9L336.1,1570.2L336.8,1571.6L337.5,1572.9L338.3,1574.3L339.0,1575.6L339.7,1577.0L340.5,1578.3L341.3,1579.6L342.0,1581.0L342.8,1582.3L343.6,1583.6L344.4,1584.9L345.2,1586.2L346.0,1587.4L346.8,1588.7L347.7,1590.0L348.5,1591.2L349.4,1592.4L350.3,1593.6L351.2,1594.8L352.1,1596.0L353.1,1597.2L354.0,1598.3L355.0,1599.4L356.0,1600.5L357.0,1601.5L358.1,1602.6L359.1,1603.6L360.2,1604.6L361.3,1605.6L362.5,1606.5L363.7,1607.4L364.8,1608.3L366.1,1609.1L367.3,1609.9L368.6,1610.7L369.8,1611.5L371.2,1612.2L372.5,1612.9L373.8,1613.6L375.2,1614.2L376.6,1614.8L377.9,1615.4L379.4,1616.0L380.8,1616.5L382.2,1617.0L383.6,1617.5L385.1,1618.0L386.5,1618.4L388.0,1618.8L389.5,1619.2L391.0,1619.5L392.4,1619.9L393.9,1620.2L395.4,1620.4L396.9,1620.7L398.4,1620.9L399.8,1621.1L401.3,1621.3L402.8,1621.5L404.3,1621.6L405.8,1621.7L407.2,1621.8L408.7,1621.9L410.2,1621.9L411.7,1622.0L413.2,1622.0L414.6,1621.9L416.1,1621.9L417.6,1621.8L419.1,1621.8L420.5,1621.7L422.0,1621.6L423.5,1621.4L425.0,1621.3L426.4,1621.1L427.9,1620.9L429.4,1620.7L430.8,1620.5L432.3,1620.2L433.8,1620.0L435.2,1619.7L436.7,1619.4L438.1,1619.1L439.6,1618.7L441.1,1618.4L442.5,1618.0L444.0,1617.7L445.4,1617.3L446.8,1616.9L448.3,1616.5L449.7,1616.0L451.2,1615.6L452.6,1615.1L454.0,1614.6L455.5,1614.2L456.9,1613.7L458.3,1613.2L459.7,1612.6L461.2,1612.1L462.6,1611.6L464.0,1611.0L465.4,1610.4L466.8,1609.9L468.2,1609.3L469.6,1608.7L471.0,1608.1L472.4,1607.4L473.8,1606.8L475.1,1606.2L476.5,1605.5L477.9,1604.9L479.3,1604.2L480.6,1603.5L482.0,1602.9L483.4,1602.2L484.7,1601.5L486.1,1600.7L487.4,1600.0L488.7,1599.3L490.1,1598.6L491.4,1597.8L492.7,1597.1L494.0,1596.3L495.3,1595.5L496.6,1594.7L497.9,1593.9L499.2,1593.1L500.5,1592.3L501.7,1591.5L503.0,1590.7L504.3,1589.8L505.5,1589.0L506.8,1588.1L508.0,1587.3L509.2,1586.4L510.5,1585.5L511.7,1584.6L512.9,1583.7L514.1,1582.8L515.3,1581.9L516.4,1580.9L517.6,1580.0L518.8,1579.1L519.9,1578.1L521.1,1577.1L522.2,1576.2L523.3,1575.2L524.4,1574.2L525.5,1573.2L526.6,1572.2L527.7,1571.2L528.8,1570.1L529.8,1569.1L530.9,1568.0L531.9,1567.0L533.0,1565.9L534.0,1564.9L535.0,1563.8L536.0,1562.7L537.0,1561.6L538.0,1560.5L538.9,1559.4L539.9,1558.2L540.8,1557.1L541.7,1556.0L542.6,1554.8L543.5,1553.7L544.4,1552.5L545.3,1551.3L546.2,1550.1L547.0,1548.9L547.9,1547.7L548.7,1546.5L549.5,1545.3L550.3,1544.1L551.1,1542.8L551.8,1541.6L552.6,1540.3L553.3,1539.1L554.0,1537.8L554.8,1536.5L555.5,1535.2L556.1,1534.0L556.8,1532.6L557.5,1531.3L558.1,1530.0L558.7,1528.7L559.3,1527.3L559.9,1526.0L560.5,1524.6L561.0,1523.3L561.6,1521.9L562.1,1520.5L562.6,1519.1L563.1,1517.7L563.6,1516.3L564.0,1514.9L564.5,1513.5L564.9,1512.1L565.3,1510.6L565.7,1509.2L566.0,1507.7L566.4,1506.3L566.7,1504.8L567.0,1503.3L567.3,1501.8L567.6,1500.3L567.9,1498.8L568.1,1497.3L568.3,1495.8L568.5,1494.3L568.7,1492.7L568.9,1491.2L569.0,1489.6L569.2,1488.1L569.3,1486.5L569.4,1485.0L569.5,1483.4L569.6,1481.8L569.7,1480.3L569.8,1478.7L569.9,1477.1L570.0,1475.6L570.2,1474.0L570.3,1472.5L570.4,1471.0L570.6,1469.4L570.8,1467.9L570.9,1466.4L571.2,1464.9L571.4,1463.4L571.6,1462.0L571.9,1460.5L572.2,1459.1L572.6,1457.7L572.9,1456.3L573.3,1454.9L573.6,1453.5L574.0,1452.1L574.3,1450.7L574.7,1449.3L575.0,1447.9L575.3,1446.5L575.6,1445.0L575.8,1443.6L576.0,1442.1L576.3,1440.7L576.5,1439.2L576.6,1437.8L576.8,1436.3L577.0,1434.9L577.2,1433.4L577.4,1432.0L577.5,1430.5L577.7,1429.1L578.0,1427.7L578.2,1426.2L578.4,1424.7L578.7,1423.2L579.0,1421.7L579.3,1420.1L579.7,1418.4L580.2,1416.6L580.6,1414.8L581.1,1413.0L581.7,1411.1L582.3,1409.4L582.9,1407.7L583.5,1406.3L584.1,1405.2L584.8,1404.4L585.4,1404.0L586.0,1404.0L586.6,1404.5L587.2,1405.3L587.8,1406.5L588.3,1408.0L588.9,1409.6L589.4,1411.4L589.9,1413.3L590.4,1415.2L590.9,1417.1L591.4,1418.9L591.8,1420.6L592.3,1422.2L592.7,1423.8L593.1,1425.3L593.5,1426.7L593.9,1428.1L594.2,1429.5L594.5,1430.8L594.8,1432.2L595.0,1433.5L595.2,1434.8L595.4,1436.2L595.6,1437.6L595.7,1439.0L595.9,1440.4L596.1,1441.9L596.3,1443.4L596.6,1444.9L596.9,1446.4L597.4,1448.0L597.9,1449.6L598.5,1451.3L599.3,1453.0L600.1,1454.6L600.9,1456.2L601.9,1457.6L602.8,1458.9L603.8,1459.9L604.7,1460.6L605.7,1460.9L606.6,1460.9L607.4,1460.6L608.2,1459.9L609.0,1458.9L609.7,1457.6L610.4,1456.2L611.1,1454.6L611.6,1452.8L612.2,1450.9L612.7,1449.0L613.2,1447.1L613.6,1445.3L614.0,1443.4L614.3,1441.7L614.7,1440.0L614.9,1438.3L615.2,1436.7L615.4,1435.1L615.6,1433.6L615.8,1432.1L616.0,1430.6L616.2,1429.2L616.3,1427.8L616.4,1426.4L616.6,1425.0L616.7,1423.6L616.8,1422.3L617.0,1420.9L617.1,1419.5L617.2,1418.2L617.4,1416.8L617.6,1415.4L617.8,1414.0L618.0,1412.6L618.2,1411.1L618.4,1409.7L618.7,1408.2L618.9,1406.8L619.2,1405.3L619.5,1403.8L619.7,1402.3L620.0,1400.8L620.2,1399.3L620.5,1397.8L620.7,1396.3L620.9,1394.8L621.1,1393.3L621.3,1391.8L621.5,1390.4L621.7,1388.9L621.8,1387.4L622.0,1385.9L622.2,1384.4L622.3,1382.9L622.5,1381.4L622.6,1380.0L622.8,1378.5L622.9,1377.0L623.1,1375.5L623.2,1374.0L623.4,1372.5L623.5,1371.0L623.7,1369.6L623.8,1368.1L624.0,1366.6L624.2,1365.1L624.3,1363.6L624.5,1362.1L624.7,1360.6L624.9,1359.1L625.0,1357.6L625.2,1356.2L625.4,1354.7L625.6,1353.2L625.8,1351.7L626.0,1350.2L626.2,1348.7L626.3,1347.2L626.5,1345.7L626.7,1344.2L626.9,1342.7L627.1,1341.2L627.2,1339.7L627.4,1338.2L627.6,1336.8L627.7,1335.3L627.9,1333.8L628.0,1332.3L628.2,1330.8L628.3,1329.3L628.5,1327.8L628.6,1326.3L628.7,1324.8L628.8,1323.4L628.9,1321.9L629.0,1320.4L629.1,1318.9L629.2,1317.4L629.3,1316.0L629.4,1314.5L629.5,1313.0L629.6,1311.6L629.7,1310.1L629.8,1308.7L630.0,1307.2L630.1,1305.8L630.3,1304.4L630.6,1303.0L630.8,1301.6L631.1,1300.2L631.4,1298.8L631.7,1297.4L632.0,1295.8L632.3,1294.3L632.5,1292.6L632.8,1290.9L633.0,1289.1L633.1,1287.2L633.3,1285.2L633.4,1283.2L633.6,1281.3L633.8,1279.5L634.0,1277.8L634.3,1276.4L634.6,1275.3L635.1,1274.6L635.7,1274.2L636.4,1274.3L637.2,1274.9L638.0,1275.8L639.0,1277.0L639.9,1278.4L640.8,1280.0L641.7,1281.6L642.4,1283.3L643.1,1285.0L643.6,1286.6L644.1,1288.2L644.4,1289.8L644.7,1291.3L644.9,1292.8L645.1,1294.3L645.2,1295.8L645.4,1297.2L645.5,1298.7L645.6,1300.1L645.7,1301.6L645.8,1303.1L646.0,1304.5L646.1,1306.0L646.3,1307.5L646.4,1308.9L646.6,1310.4L646.8,1311.9L646.9,1313.4L647.1,1314.8L647.3,1316.3L647.5,1317.8L647.7,1319.3L647.9,1320.8L648.1,1322.3L648.3,1323.7L648.5,1325.2L648.7,1326.7L648.9,1328.2L649.1,1329.7L649.3,1331.2L649.5,1332.7L649.7,1334.1L649.9,1335.6L650.1,1337.1L650.3,1338.6L650.5,1340.1L650.7,1341.6L650.9,1343.0L651.1,1344.5L651.3,1346.0L651.5,1347.5L651.6,1349.0L651.8,1350.5L652.0,1351.9L652.2,1353.4L652.4,1354.9L652.6,1356.4L652.8,1357.9L653.0,1359.4L653.2,1360.8L653.3,1362.3L653.5,1363.8L653.7,1365.3L653.9,1366.8L654.1,1368.3L654.3,1369.7L654.4,1371.2L654.6,1372.7L654.8,1374.2L655.0,1375.7L655.2,1377.2L655.3,1378.7L655.5,1380.1L655.7,1381.6L655.9,1383.1L656.0,1384.6L656.2,1386.1L656.4,1387.6L656.6,1389.1L656.7,1390.5L656.9,1392.0L657.1,1393.5L657.2,1395.0L657.4,1396.5L657.6,1398.0L657.7,1399.5L657.9,1401.0L658.1,1402.4L658.2,1403.9L658.4,1405.4L658.6,1406.9L658.7,1408.4L658.9,1409.9L659.0,1411.4L659.2,1412.9L659.4,1414.4L659.5,1415.9L659.7,1417.4L659.9,1418.8L660.0,1420.3L660.2,1421.8L660.3,1423.3L660.5,1424.8L660.7,1426.3L660.8,1427.8L661.0,1429.3L661.2,1430.8L661.3,1432.3L661.5,1433.8L661.7,1435.3L661.8,1436.8L662.0,1438.3L662.2,1439.8L662.3,1441.3L662.5,1442.8L662.7,1444.2L662.9,1445.7L663.0,1447.2L663.2,1448.7L663.4,1450.2L663.6,1451.7L663.8,1453.2L664.0,1454.7L664.1,1456.2L664.3,1457.7L664.5,1459.2L664.7,1460.6L664.9,1462.1L665.1,1463.6L665.3,1465.1L665.5,1466.6L665.7,1468.1L666.0,1469.6L666.2,1471.1L666.4,1472.5L666.6,1474.0L666.8,1475.5L667.1,1477.0L667.3,1478.5L667.5,1480.0L667.8,1481.4L668.0,1482.9L668.3,1484.4L668.5,1485.9L668.8,1487.3L669.0,1488.8L669.3,1490.3L669.6,1491.8L669.8,1493.2L670.1,1494.7L670.4,1496.2L670.7,1497.6L671.0,1499.1L671.3,1500.6L671.6,1502.0L671.9,1503.5L672.2,1505.0L672.5,1506.4L672.8,1507.9L673.1,1509.4L673.5,1510.8L673.8,1512.3L674.1,1513.7L674.5,1515.2L674.8,1516.6L675.2,1518.1L675.6,1519.5L675.9,1521.0L676.3,1522.4L676.7,1523.9L677.1,1525.3L677.5,1526.8L677.9,1528.2L678.3,1529.6L678.7,1531.1L679.1,1532.5L679.5,1533.9L680.0,1535.4L680.4,1536.8L680.9,1538.2L681.3,1539.6L681.8,1541.1L682.2,1542.5L682.7,1543.9L683.2,1545.3L683.7,1546.7L684.2,1548.2L684.7,1549.6L685.2,1551.0L685.7,1552.4L686.3,1553.8L686.8,1555.2L687.3,1556.6L687.9,1558.0L688.5,1559.4L689.1,1560.8L689.7,1562.1L690.3,1563.5L691.0,1564.8L691.7,1566.1L692.4,1567.4L693.2,1568.7L694.0,1570.0L694.8,1571.2L695.7,1572.4L696.7,1573.6L697.7,1574.8L698.7,1575.9L699.8,1577.0L700.9,1578.0L702.1,1579.0L703.4,1580.0L704.7,1580.9L706.0,1581.7L707.4,1582.4L708.8,1582.9L710.2,1583.4L711.7,1583.7L713.1,1583.8L714.5,1583.8L716.0,1583.6L717.4,1583.3L718.8,1582.9L720.2,1582.3L721.5,1581.7L722.9,1580.9L724.2,1580.0L725.5,1579.1L726.7,1578.1L727.9,1577.0L729.0,1575.8L730.0,1574.6L731.0,1573.4L732.0,1572.1L732.8,1570.8L733.6,1569.5L734.4,1568.2L735.0,1566.9L735.6,1565.6L736.2,1564.2L736.7,1562.9L737.2,1561.5L737.6,1560.1L738.0,1558.8L738.4,1557.4L738.8,1556.0L739.1,1554.6L739.5,1553.2L739.9,1551.8L740.2,1550.3L740.6,1548.9L741.0,1547.5L741.5,1546.1L741.9,1544.7L742.5,1543.2L743.0,1541.8L743.6,1540.3L744.3,1538.8L745.0,1537.4L745.8,1535.8L746.7,1534.3L747.6,1532.8L748.6,1531.2L749.7,1529.8L750.8,1528.5L751.9,1527.5L752.9,1526.7L754.0,1526.2L755.0,1526.1L755.9,1526.5L756.8,1527.2L757.6,1528.2L758.3,1529.6L759.0,1531.1L759.7,1532.7L760.3,1534.4L760.9,1536.1L761.5,1537.8L762.1,1539.5L762.6,1541.0L763.1,1542.6L763.6,1544.1L764.0,1545.6L764.4,1547.0L764.8,1548.4L765.2,1549.8L765.6,1551.2L765.9,1552.6L766.3,1554.0L766.6,1555.3L767.1,1556.6L767.5,1558.0L768.1,1559.3L768.8,1560.6L769.5,1561.9L770.4,1563.2L771.4,1564.5L772.4,1565.7L773.6,1566.9L774.8,1568.0L776.0,1569.0L777.3,1570.0L778.7,1570.9L780.1,1571.7L781.5,1572.4L782.9,1573.0L784.3,1573.5L785.8,1573.9L787.2,1574.1L788.6,1574.2L790.0,1574.1L791.3,1573.8L792.6,1573.4L793.9,1572.8L795.1,1572.1L796.3,1571.2L797.4,1570.2L798.5,1569.2L799.6,1568.0L800.6,1566.7L801.6,1565.4L802.5,1564.0L803.4,1562.6L804.3,1561.1L805.2,1559.6L806.0,1558.1L806.7,1556.6L807.5,1555.2L808.2,1553.7L808.9,1552.3L809.5,1551.0L810.1,1549.7L810.7,1548.4L811.3,1547.2L811.9,1545.9L812.4,1544.7L813.0,1543.5L813.5,1542.2L814.0,1541.0L814.5,1539.7L815.0,1538.4L815.5,1537.0L816.0,1535.7L816.5,1534.3L817.0,1533.0L817.4,1531.6L817.9,1530.2L818.4,1528.7L818.8,1527.3L819.3,1525.9L819.7,1524.4L820.2,1523.0L820.6,1521.5L821.0,1520.0L821.4,1518.5L821.8,1517.1L822.2,1515.6L822.6,1514.1L823.0,1512.6L823.4,1511.1L823.8,1509.6L824.1,1508.2L824.5,1506.7L824.9,1505.2L825.2,1503.7L825.5,1502.2L825.9,1500.8L826.2,1499.3L826.5,1497.8L826.8,1496.3L827.1,1494.8L827.4,1493.4L827.7,1491.9L828.0,1490.4L828.3,1488.9L828.6,1487.5L828.9,1486.0L829.1,1484.5L829.4,1483.0L829.7,1481.6L829.9,1480.1L830.2,1478.6L830.4,1477.1L830.7,1475.7L830.9,1474.2L831.1,1472.7L831.4,1471.2L831.6,1469.8L831.8,1468.3L832.0,1466.8L832.3,1465.3L832.5,1463.9L832.7,1462.4L832.9,1460.9L833.1,1459.4L833.3,1458.0L833.5,1456.5L833.7,1455.0L833.9,1453.5L834.1,1452.1L834.3,1450.6L834.5,1449.1L834.7,1447.6L834.9,1446.1L835.1,1444.7L835.3,1443.2L835.4,1441.7L835.6,1440.2L835.8,1438.8L836.0,1437.3L836.2,1435.8L836.4,1434.3L836.6,1432.8L836.8,1431.3L836.9,1429.9L837.1,1428.4L837.3,1426.9L837.5,1425.4L837.7,1423.9L837.9,1422.4L838.1,1420.9L838.3,1419.4L838.4,1418.0L838.6,1416.5L838.8,1415.0L839.0,1413.5L839.2,1412.0L839.4,1410.5L839.6,1409.0L839.7,1407.5L839.9,1406.0L840.1,1404.5L840.3,1403.0L840.5,1401.5L840.7,1400.1L840.8,1398.6L841.0,1397.1L841.2,1395.6L841.4,1394.1L841.6,1392.6L841.7,1391.1L841.9,1389.6L842.1,1388.1L842.3,1386.6L842.4,1385.1L842.6,1383.6L842.8,1382.1L843.0,1380.6L843.1,1379.1L843.3,1377.6L843.5,1376.2L843.6,1374.7L843.8,1373.2L844.0,1371.7L844.1,1370.2L844.3,1368.7L844.4,1367.2L844.6,1365.7L844.8,1364.2L844.9,1362.7L845.1,1361.2L845.2,1359.7L845.4,1358.2L845.5,1356.8L845.7,1355.3L845.8,1353.8L846.0,1352.3L846.1,1350.8L846.3,1349.3L846.4,1347.8L846.6,1346.3L846.7,1344.9L846.8,1343.4L847.0,1341.9L847.1,1340.4L847.3,1338.9L847.4,1337.4L847.6,1336.0L847.7,1334.5L847.9,1333.0L848.0,1331.5L848.2,1330.1L848.3,1328.6L848.5,1327.1L848.6,1325.7L848.8,1324.2L849.0,1322.7L849.1,1321.3L849.3,1319.8L849.5,1318.4L849.7,1316.9L849.9,1315.5L850.1,1314.0L850.3,1312.6L850.5,1311.1L850.7,1309.7L850.9,1308.3L851.1,1306.8L851.3,1305.4L851.5,1304.0L851.8,1302.5L852.0,1301.0L852.3,1299.5L852.5,1297.9L852.8,1296.3L853.0,1294.6L853.3,1292.9L853.6,1291.1L853.9,1289.3L854.2,1287.4L854.6,1285.6L855.0,1284.1L855.5,1282.7L856.1,1281.7L856.8,1281.2L857.6,1281.1L858.5,1281.4L859.5,1282.2L860.6,1283.3L861.6,1284.7L862.5,1286.2L863.4,1287.8L864.1,1289.4L864.6,1291.0L865.1,1292.7L865.4,1294.3L865.7,1295.9L865.9,1297.5L866.0,1299.1L866.1,1300.6L866.2,1302.2L866.3,1303.7L866.4,1305.3L866.5,1306.7L866.7,1308.2L866.8,1309.7L867.0,1311.1L867.2,1312.5L867.4,1314.0L867.6,1315.4L867.8,1316.8L868.0,1318.2L868.2,1319.6L868.4,1321.0L868.6,1322.5L868.8,1323.9L869.0,1325.4L869.2,1326.8L869.4,1328.3L869.6,1329.7L869.8,1331.2L869.9,1332.7L870.1,1334.2L870.3,1335.7L870.5,1337.2L870.7,1338.7L870.8,1340.2L871.0,1341.7L871.2,1343.2L871.3,1344.7L871.5,1346.2L871.7,1347.7L871.8,1349.2L872.0,1350.7L872.2,1352.2L872.3,1353.7L872.5,1355.2L872.7,1356.7L872.8,1358.2L873.0,1359.7L873.1,1361.2L873.3,1362.7L873.5,1364.2L873.6,1365.7L873.8,1367.2L873.9,1368.7L874.1,1370.2L874.2,1371.7L874.4,1373.1L874.5,1374.6L874.7,1376.1L874.8,1377.6L875.0,1379.1L875.2,1380.6L875.3,1382.1L875.5,1383.6L875.6,1385.0L875.8,1386.5L875.9,1388.0L876.1,1389.5L876.2,1391.0L876.4,1392.5L876.6,1393.9L876.7,1395.4L876.9,1396.9L877.0,1398.4L877.2,1399.9L877.4,1401.4L877.5,1402.8L877.7,1404.3L877.8,1405.8L878.0,1407.3L878.2,1408.8L878.3,1410.2L878.5,1411.7L878.7,1413.2L878.9,1414.7L879.0,1416.2L879.2,1417.6L879.4,1419.1L879.6,1420.6L879.7,1422.1L879.9,1423.6L880.1,1425.1L880.3,1426.5L880.5,1428.0L880.7,1429.5L880.8,1431.0L881.0,1432.5L881.2,1434.0L881.4,1435.4L881.6,1436.9L881.8,1438.4L882.0,1439.9L882.2,1441.4L882.4,1442.9L882.7,1444.4L882.9,1445.8L883.1,1447.3L883.3,1448.8L883.5,1450.3L883.7,1451.8L884.0,1453.3L884.2,1454.8L884.4,1456.3L884.7,1457.7L884.9,1459.2L885.1,1460.7L885.4,1462.2L885.6,1463.7L885.8,1465.2L886.1,1466.7L886.3,1468.1L886.6,1469.6L886.8,1471.1L887.1,1472.6L887.4,1474.1L887.6,1475.6L887.9,1477.0L888.1,1478.5L888.4,1480.0L888.7,1481.5L889.0,1483.0L889.2,1484.4L889.5,1485.9L889.8,1487.4L890.1,1488.9L890.4,1490.3L890.7,1491.8L891.0,1493.3L891.3,1494.8L891.6,1496.2L891.9,1497.7L892.2,1499.2L892.5,1500.6L892.8,1502.1L893.1,1503.6L893.4,1505.0L893.7,1506.5L894.1,1507.9L894.4,1509.4L894.7,1510.9L895.1,1512.3L895.4,1513.8L895.8,1515.2L896.1,1516.7L896.5,1518.1L896.8,1519.6L897.2,1521.0L897.6,1522.4L897.9,1523.9L898.3,1525.3L898.7,1526.7L899.1,1528.2L899.5,1529.6L899.9,1531.0L900.4,1532.5L900.8,1533.9L901.2,1535.3L901.7,1536.7L902.2,1538.1L902.6,1539.5L903.1,1540.9L903.6,1542.3L904.1,1543.7L904.6,1545.1L905.2,1546.5L905.7,1547.9L906.2,1549.3L906.8,1550.7L907.4,1552.0L908.0,1553.4L908.6,1554.8L909.2,1556.1L909.8,1557.5L910.5,1558.9L911.1,1560.2L911.8,1561.6L912.5,1562.9L913.2,1564.2L913.9,1565.6L914.7,1566.9L915.4,1568.2L916.2,1569.5L917.0,1570.9L917.8,1572.2L918.6,1573.5L919.5,1574.7L920.4,1576.0L921.2,1577.3L922.1,1578.5L923.0,1579.7L924.0,1581.0L924.9,1582.2L925.9,1583.3L926.9,1584.5L927.9,1585.6L928.9,1586.7L930.0,1587.8L931.1,1588.9L932.2,1589.9L933.3,1590.9L934.4,1591.9L935.6,1592.8L936.7,1593.7L937.9,1594.6L939.1,1595.4L940.4,1596.2L941.6,1596.9L942.9,1597.7L944.2,1598.3L945.5,1599.0L946.9,1599.6L948.2,1600.1L949.6,1600.7L951.0,1601.2L952.4,1601.7L953.8,1602.2L955.2,1602.6L956.6,1603.0L958.1,1603.4L959.5,1603.8L961.0,1604.2L962.4,1604.5L963.9,1604.9L965.4,1605.2L966.8,1605.5L968.3,1605.9L969.8,1606.2L971.3,1606.5L972.7,1606.8L974.2,1607.1L975.7,1607.4L977.2,1607.7L978.6,1608.0L980.1,1608.3L981.6,1608.6L983.1,1608.9L984.5,1609.1L986.0,1609.4L987.5,1609.7L989.0,1610.0L990.4,1610.2L991.9,1610.5L993.4,1610.7L994.9,1611.0L996.4,1611.3L997.8,1611.5L999.3,1611.7L1000.8,1612.0L1002.3,1612.2L1003.8,1612.5L1005.2,1612.7L1006.7,1612.9L1008.2,1613.1L1009.7,1613.4L1011.2,1613.6L1012.7,1613.8L1014.1,1614.0L1015.6,1614.2L1017.1,1614.4L1018.6,1614.6L1020.1,1614.8L1021.6,1615.0L1023.1,1615.2L1024.5,1615.4L1026.0,1615.6L1027.5,1615.8L1029.0,1616.0L1030.5,1616.2L1032.0,1616.3L1033.5,1616.5L1034.9,1616.7L1036.4,1616.9L1037.9,1617.0L1039.4,1617.2L1040.9,1617.4L1042.4,1617.5L1043.9,1617.7L1045.4,1617.9L1046.9,1618.0L1048.3,1618.2L1049.8,1618.3L1051.3,1618.5L1052.8,1618.6L1054.3,1618.8L1055.8,1618.9L1057.3,1619.1L1058.8,1619.2L1060.3,1619.3L1061.8,1619.5L1063.2,1619.6L1064.7,1619.8L1066.2,1619.9L1067.7,1620.0L1069.2,1620.2L1070.7,1620.3L1072.2,1620.4L1073.7,1620.5L1075.2,1620.7L1076.7,1620.8L1078.2,1620.9L1079.7,1621.0L1081.2,1621.2L1082.7,1621.3L1084.1,1621.4L1085.6,1621.5L1087.1,1621.6L1088.6,1621.8L1090.1,1621.9L1091.6,1622.0L1093.1,1622.1L1094.6,1622.2L1096.1,1622.3L1097.6,1622.4L1099.1,1622.5L1100.6,1622.6L1102.1,1622.8L1103.6,1622.9L1105.1,1623.0L1106.6,1623.1L1108.1,1623.2L1109.5,1623.3L1111.0,1623.4L1112.5,1623.5L1114.0,1623.6L1115.5,1623.7L1117.0,1623.8L1118.5,1623.9L1120.0,1624.0L1121.5,1624.1L1123.0,1624.2L1124.5,1624.4L1126.0,1624.5L1127.5,1624.6L1129.0,1624.7L1130.5,1624.8L1132.0,1624.9L1133.5,1625.0L1135.0,1625.1L1136.5,1625.2L1138.0,1625.3L1139.4,1625.4L1140.9,1625.5L1142.4,1625.6L1143.9,1625.7L1145.4,1625.8L1146.9,1625.9L1148.4,1626.0L1149.9,1626.2L1151.4,1626.3L1152.9,1626.4L1154.4,1626.5L1155.9,1626.6L1157.4,1626.7L1158.9,1626.8L1160.4,1626.9L1161.9,1627.0L1163.4,1627.1L1164.9,1627.2L1166.4,1627.3L1167.9,1627.4L1169.3,1627.5L1170.8,1627.6L1172.3,1627.8L1173.8,1627.9L1175.3,1628.0L1176.8,1628.1L1178.3,1628.2L1179.8,1628.3L1181.3,1628.4L1182.8,1628.5L1184.3,1628.6L1185.8,1628.7L1187.3,1628.8L1188.8,1628.9L1190.3,1629.0L1191.8,1629.2L1193.3,1629.3L1194.8,1629.4L1196.3,1629.5L1197.7,1629.6L1199.2,1629.7L1200.7,1629.8L1202.2,1629.9L1203.7,1630.0L1205.2,1630.1L1206.7,1630.2L1208.2,1630.3L1209.7,1630.5L1211.2,1630.6L1212.7,1630.7L1214.2,1630.8L1215.7,1630.9L1217.2,1631.0L1218.7,1631.1L1220.2,1631.2L1221.7,1631.3L1223.2,1631.4L1224.7,1631.5L1226.2,1631.7L1227.6,1631.8L1229.1,1631.9L1230.6,1632.0L1232.1,1632.1L1233.6,1632.2L1235.1,1632.3L1236.6,1632.4L1238.1,1632.5L1239.6,1632.6L1241.1,1632.7L1242.6,1632.9L1244.1,1633.0L1245.6,1633.1L1247.1,1633.2L1248.6,1633.3L1250.1,1633.4L1251.6,1633.5L1253.1,1633.6L1254.6,1633.7L1256.1,1633.8L1257.5,1634.0L1259.0,1634.1L1260.5,1634.2L1262.0,1634.3L1263.5,1634.4L1265.0,1634.5L1266.5,1634.6L1268.0,1634.7L1269.5,1634.8L1271.0,1634.9L1272.5,1635.0L1274.0,1635.2L1275.5,1635.3L1277.0,1635.4L1278.5,1635.5L1280.0,1635.6L1281.5,1635.7L1283.0,1635.8L1284.5,1635.9L1286.0,1636.0L1287.4,1636.1L1288.9,1636.3L1290.4,1636.4L1291.9,1636.5L1293.4,1636.6L1294.9,1636.7L1296.4,1636.8L1297.9,1636.9L1299.4,1637.0L1300.9,1637.1L1302.4,1637.2L1303.9,1637.3L1305.4,1637.5L1306.9,1637.6L1308.4,1637.7L1309.9,1637.8L1311.4,1637.9L1312.9,1638.0L1314.4,1638.1L1315.9,1638.2L1317.4,1638.3L1318.8,1638.4L1320.3,1638.6L1321.8,1638.7L1323.3,1638.8L1324.8,1638.9L1326.3,1639.0L1327.8,1639.1L1329.3,1639.2L1330.8,1639.3L1332.3,1639.4L1333.8,1639.5L1335.3,1639.6L1336.8,1639.8L1338.3,1639.9L1339.8,1640.0L1341.3,1640.1L1342.8,1640.2L1344.3,1640.3L1345.8,1640.4L1347.3,1640.5L1348.7,1640.6L1350.2,1640.7L1351.7,1640.8L1353.2,1641.0L1354.7,1641.1L1356.2,1641.2L1357.7,1641.3L1359.2,1641.4L1360.7,1641.5L1362.2,1641.6L1363.7,1641.7L1365.2,1641.8L1366.7,1641.9L1368.2,1642.0L1369.7,1642.1L1371.2,1642.3L1372.7,1642.4L1374.2,1642.5L1375.7,1642.6L1377.2,1642.7L1378.7,1642.8L1380.1,1642.9L1381.6,1643.0L1383.1,1643.1L1384.6,1643.2L1386.1,1643.3L1387.6,1643.4L1389.1,1643.6L1390.6,1643.7L1392.1,1643.8L1393.6,1643.9L1395.1,1644.0L1396.6,1644.1L1398.1,1644.2L1399.6,1644.3L1401.1,1644.4L1402.6,1644.5L1404.1,1644.6L1405.6,1644.7L1407.1,1644.8L1408.6,1644.9L1410.1,1645.1L1411.5,1645.2L1413.0,1645.3L1414.5,1645.4L1416.0,1645.5L1417.5,1645.6L1419.0,1645.7L1420.5,1645.8L1422.0,1645.9L1423.5,1646.0L1425.0,1646.1L1426.5,1646.2L1428.0,1646.3L1429.5,1646.4L1431.0,1646.5L1432.5,1646.6L1434.0,1646.8L1435.5,1646.9L1437.0,1647.0L1438.5,1647.1L1440.0,1647.2L1441.5,1647.3L1443.0,1647.4L1444.4,1647.5L1445.9,1647.6L1447.4,1647.7L1448.9,1647.8L1450.4,1647.9L1451.9,1648.0L1453.4,1648.1L1454.9,1648.2L1456.4,1648.3L1457.9,1648.4L1459.4,1648.5L1460.9,1648.6L1462.4,1648.7L1463.9,1648.8L1465.4,1649.0L1466.9,1649.1L1468.4,1649.2L1469.9,1649.3L1471.4,1649.4L1472.9,1649.5L1474.4,1649.6L1475.9,1649.7L1477.3,1649.8L1478.8,1649.9L1480.3,1650.0L1481.8,1650.1L1483.3,1650.2L1484.8,1650.3L1486.3,1650.4L1487.8,1650.5L1489.3,1650.6L1490.8,1650.7L1492.3,1650.8L1493.8,1650.9L1495.3,1651.0L1496.8,1651.1L1498.3,1651.2L1499.8,1651.3L1501.3,1651.4L1502.8,1651.5L1504.3,1651.6L1505.8,1651.7L1507.3,1651.8L1508.8,1651.9L1510.3,1652.0L1511.7,1652.1L1513.2,1652.2L1514.7,1652.3L1516.2,1652.4L1517.7,1652.5L1519.2,1652.6L1520.7,1652.7L1522.2,1652.8L1523.7,1652.9L1525.2,1653.0L1526.7,1653.1L1528.2,1653.2L1529.7,1653.3L1531.2,1653.4L1532.7,1653.5L1534.2,1653.6L1535.7,1653.7L1537.2,1653.8L1538.7,1653.9L1540.2,1654.0L1541.7,1654.1L1543.2,1654.2L1544.7,1654.3L1546.2,1654.4L1547.7,1654.5L1549.1,1654.6L1550.6,1654.7L1552.1,1654.8L1553.6,1654.9L1555.1,1655.0L1556.6,1655.1L1558.1,1655.2L1559.6,1655.3L1561.1,1655.4L1562.6,1655.5L1564.1,1655.5L1565.6,1655.6L1567.1,1655.7L1568.6,1655.8L1570.1,1655.9L1571.6,1656.0L1573.1,1656.1L1574.6,1656.2L1576.1,1656.3L1577.6,1656.4L1579.1,1656.5L1580.6,1656.6L1582.1,1656.7L1583.6,1656.8L1585.1,1656.9L1586.5,1657.0L1588.0,1657.1L1589.5,1657.1L1591.0,1657.2L1592.5,1657.3L1594.0,1657.4L1595.5,1657.5L1597.0,1657.6L1598.5,1657.7L1600.0,1657.8L1601.5,1657.9L1603.0,1658.0L1604.5,1658.1L1606.0,1658.2L1607.5,1658.2L1609.0,1658.3L1610.5,1658.4L1612.0,1658.5L1613.5,1658.6L1615.0,1658.7L1616.5,1658.8L1618.0,1658.9L1619.5,1659.0L1621.0,1659.1L1622.5,1659.1L1624.0,1659.2L1625.5,1659.3L1627.0,1659.4L1628.4,1659.5L1629.9,1659.6L1631.4,1659.7L1632.9,1659.8L1634.4,1659.9L1635.9,1659.9L1637.4,1660.0L1638.9,1660.1L1640.4,1660.2L1641.9,1660.3L1643.4,1660.4L1644.9,1660.5L1646.4,1660.6L1647.9,1660.6L1649.4,1660.7L1650.9,1660.8L1652.4,1660.9L1653.9,1661.0L1655.4,1661.1L1656.9,1661.1L1658.4,1661.2L1659.9,1661.3L1661.4,1661.4L1662.9,1661.5L1664.4,1661.6L1665.9,1661.7L1667.4,1661.7L1668.9,1661.8L1670.4,1661.9L1671.9,1662.0L1673.3,1662.1L1674.8,1662.1L1676.3,1662.2L1677.8,1662.3L1679.3,1662.4L1680.8,1662.5L1682.3,1662.6L1683.8,1662.6L1685.3,1662.7L1686.8,1662.8L1688.3,1662.9L1689.8,1663.0L1691.3,1663.0L1692.8,1663.1L1694.3,1663.2L1695.8,1663.3L1697.3,1663.4L1698.8,1663.4L1700.3,1663.5L1701.8,1663.6L1703.3,1663.7L1704.8,1663.7L1706.3,1663.8L1707.8,1663.9L1709.3,1664.0L1710.8,1664.1L1712.3,1664.1L1713.8,1664.2L1715.3,1664.3L1716.8,1664.4L1718.3,1664.4L1719.8,1664.5L1721.3,1664.6L1722.8,1664.7L1724.2,1664.7L1725.7,1664.8L1727.2,1664.9L1728.7,1665.0L1730.2,1665.0L1731.7,1665.1L1733.2,1665.2L1734.7,1665.3L1736.2,1665.3L1737.7,1665.4L1739.2,1665.5L1740.7,1665.6L1742.2,1665.6L1743.7,1665.7L1745.2,1665.8L1746.7,1665.8L1748.2,1665.9L1749.7,1666.0L1751.2,1666.0L1752.7,1666.1L1754.2,1666.2L1755.7,1666.3L1757.2,1666.3L1758.7,1666.4L1760.2,1666.5L1761.7,1666.5L1763.2,1666.6L1764.7,1666.7L1766.2,1666.7L1767.7,1666.8L1769.2,1666.9L1770.7,1666.9L1772.2,1667.0L1773.7,1667.1L1775.2,1667.1L1776.7,1667.2L1778.2,1667.3L1779.7,1667.3L1781.2,1667.4L1782.7,1667.5L1784.1,1667.5L1785.6,1667.6L1787.1,1667.7L1788.6,1667.7L1790.1,1667.8L1791.6,1667.9L1793.1,1667.9L1794.6,1668.0L1796.1,1668.0L1797.6,1668.1L1799.1,1668.2L1800.6,1668.2L1802.1,1668.3L1803.6,1668.4L1805.1,1668.4L1806.6,1668.5L1808.1,1668.5L1809.6,1668.6L1811.1,1668.7L1812.6,1668.7L1814.1,1668.8L1815.6,1668.8L1817.1,1668.9L1818.6,1669.0L1820.1,1669.0L1821.6,1669.1L1823.1,1669.1L1824.6,1669.2L1826.1,1669.2L1827.6,1669.3L1829.1,1669.4L1830.6,1669.4L1832.1,1669.5L1833.6,1669.5L1835.1,1669.6L1836.6,1669.6L1838.1,1669.7L1839.6,1669.7L1841.1,1669.8L1842.6,1669.8L1844.1,1669.9L1845.6,1670.0L1847.1,1670.0L1848.6,1670.1L1850.1,1670.1L1851.6,1670.2L1853.1,1670.2L1854.6,1670.3L1856.1,1670.3L1857.6,1670.4L1859.1,1670.4L1860.6,1670.5L1862.1,1670.5L1863.6,1670.6L1865.1,1670.6L1866.6,1670.7L1868.1,1670.7L1869.6,1670.8L1871.0,1670.8L1872.5,1670.9L1874.0,1670.9L1875.5,1671.0L1877.0,1671.0L1878.5,1671.0L1880.0,1671.1L1881.5,1671.1L1883.0,1671.2L1884.5,1671.2L1886.0,1671.3L1887.5,1671.3L1889.0,1671.4L1890.5,1671.4L1892.0,1671.5L1893.5,1671.5L1895.0,1671.5L1896.5,1671.6L1898.0,1671.6L1899.5,1671.7L1901.0,1671.7L1902.5,1671.7L1904.0,1671.8L1905.5,1671.8L1907.0,1671.9L1908.5,1671.9L1910.0,1671.9L1911.5,1672.0L1913.0,1672.0L1914.5,1672.1L1916.0,1672.1L1917.5,1672.1L1919.0,1672.2L1920.5,1672.2L1922.0,1672.2L1923.5,1672.3L1925.0,1672.3L1926.5,1672.4L1928.0,1672.4" fill="none" stroke="#dd1418" stroke-width="6" stroke-dasharray="6.5 9.5"/>
<path d="M276.3,1393.9L276.6,1395.4L276.9,1396.8L277.2,1398.3L277.6,1399.8L277.9,1401.2L278.2,1402.7L278.5,1404.1L278.9,1405.6L279.2,1407.0L279.6,1408.5L279.9,1409.9L280.3,1411.4L280.6,1412.9L281.0,1414.3L281.3,1415.8L281.7,1417.2L282.1,1418.7L282.5,1420.1L282.9,1421.6L283.3,1423.0L283.6,1424.5L284.0,1425.9L284.4,1427.3L284.9,1428.8L285.3,1430.2L285.7,1431.7L286.1,1433.1L286.5,1434.6L286.9,1436.0L287.3,1437.5L287.8,1438.9L288.2,1440.3L288.6,1441.8L289.1,1443.2L289.5,1444.7L289.9,1446.1L290.4,1447.6L290.8,1449.0L291.3,1450.4L291.7,1451.9L292.2,1453.3L292.6,1454.7L293.1,1456.2L293.5,1457.6L294.0,1459.1L294.4,1460.5L294.9,1461.9L295.4,1463.4L295.8,1464.8L296.3,1466.2L296.7,1467.7L297.2,1469.1L297.7,1470.5L298.1,1472.0L298.6,1473.4L299.1,1474.8L299.5,1476.3L300.0,1477.7L300.5,1479.1L300.9,1480.5L301.4,1482.0L301.9,1483.4L302.3,1484.8L302.8,1486.3L303.2,1487.7L303.7,1489.1L304.2,1490.5L304.6,1492.0L305.1,1493.4L305.5,1494.8L306.0,1496.2L306.4,1497.7L306.9,1499.1L307.4,1500.5L307.8,1501.9L308.3,1503.4L308.7,1504.8L309.1,1506.2L309.6,1507.6L310.0,1509.1L310.5,1510.5L310.9,1511.9L311.3,1513.3L311.8,1514.7L312.2,1516.2L312.6,1517.6L313.1,1519.0L313.5,1520.4L313.9,1521.8L314.3,1523.3L314.8,1524.7L315.2,1526.1L315.6,1527.5L316.1,1528.9L316.5,1530.3L316.9,1531.8L317.4,1533.2L317.8,1534.6L318.2,1536.0L318.7,1537.4L319.1,1538.8L319.6,1540.2L320.0,1541.7L320.5,1543.1L320.9,1544.5L321.4,1545.9L321.9,1547.3L322.3,1548.7L322.8,1550.1L323.3,1551.5L323.8,1553.0L324.3,1554.4L324.8,1555.8L325.3,1557.2L325.8,1558.6L326.3,1560.0L326.8,1561.4L327.3,1562.8L327.9,1564.2L328.4,1565.6L329.0,1567.0L329.5,1568.4L330.1,1569.8L330.6,1571.3L331.2,1572.7L331.8,1574.1L332.4,1575.5L333.0,1576.9L333.7,1578.3L334.3,1579.7L334.9,1581.1L335.6,1582.5L336.2,1583.9L336.9,1585.3L337.6,1586.7L338.3,1588.1L339.0,1589.5L339.7,1590.8L340.4,1592.2L341.2,1593.6L342.0,1594.9L342.7,1596.3L343.5,1597.6L344.4,1598.9L345.2,1600.2L346.1,1601.4L346.9,1602.6L347.8,1603.8L348.8,1605.0L349.7,1606.1L350.7,1607.3L351.7,1608.3L352.7,1609.4L353.8,1610.3L354.9,1611.3L356.0,1612.2L357.1,1613.0L358.3,1613.9L359.5,1614.6L360.8,1615.3L362.0,1616.0L363.3,1616.6L364.7,1617.1L366.0,1617.6L367.4,1618.1L368.8,1618.5L370.3,1618.9L371.7,1619.3L373.2,1619.6L374.7,1619.9L376.2,1620.1L377.7,1620.3L379.2,1620.6L380.7,1620.7L382.3,1620.9L383.8,1621.0L385.4,1621.2L386.9,1621.3L388.5,1621.4L390.0,1621.5L391.6,1621.5L393.1,1621.6L394.7,1621.7L396.2,1621.8L397.7,1621.9L399.3,1621.9L400.8,1622.0L402.3,1622.1L403.7,1622.2L405.2,1622.4L406.6,1622.5L408.1,1622.6L409.5,1622.8L410.9,1622.9L412.4,1623.1L413.8,1623.3L415.2,1623.5L416.7,1623.7L418.1,1623.8L419.6,1624.0L421.0,1624.3L422.5,1624.5L424.0,1624.7L425.5,1624.9L427.0,1625.1L428.5,1625.3L430.0,1625.5L431.5,1625.7L433.1,1625.9L434.6,1626.1L436.1,1626.2L437.7,1626.4L439.2,1626.5L440.7,1626.6L442.2,1626.6L443.8,1626.7L445.3,1626.7L446.8,1626.7L448.3,1626.7L449.8,1626.6L451.3,1626.5L452.8,1626.4L454.3,1626.2L455.7,1626.0L457.2,1625.8L458.6,1625.5L460.0,1625.1L461.4,1624.7L462.8,1624.3L464.2,1623.9L465.6,1623.4L466.9,1622.8L468.3,1622.3L469.6,1621.7L471.0,1621.0L472.3,1620.4L473.6,1619.7L474.9,1619.0L476.2,1618.3L477.5,1617.5L478.7,1616.7L480.0,1615.9L481.3,1615.1L482.5,1614.2L483.8,1613.4L485.0,1612.5L486.2,1611.6L487.4,1610.7L488.7,1609.7L489.9,1608.8L491.1,1607.8L492.3,1606.9L493.5,1605.9L494.6,1604.9L495.8,1604.0L497.0,1603.0L498.2,1602.0L499.4,1601.0L500.5,1600.0L501.7,1599.0L502.9,1598.0L504.0,1597.1L505.2,1596.1L506.3,1595.1L507.5,1594.2L508.6,1593.2L509.8,1592.2L510.9,1591.3L512.1,1590.3L513.2,1589.3L514.3,1588.4L515.4,1587.4L516.5,1586.4L517.6,1585.4L518.7,1584.4L519.7,1583.4L520.8,1582.4L521.8,1581.3L522.8,1580.3L523.8,1579.2L524.8,1578.1L525.7,1577.0L526.7,1575.9L527.6,1574.7L528.5,1573.5L529.3,1572.3L530.2,1571.1L531.0,1569.9L531.8,1568.6L532.6,1567.3L533.4,1566.0L534.2,1564.7L535.0,1563.4L535.7,1562.1L536.5,1560.8L537.3,1559.5L538.0,1558.2L538.8,1556.8L539.6,1555.5L540.3,1554.2L541.1,1552.9L541.9,1551.7L542.7,1550.4L543.5,1549.2L544.4,1547.9L545.2,1546.7L546.1,1545.6L547.0,1544.4L548.0,1543.3L548.9,1542.2L549.9,1541.1L550.9,1540.0L551.9,1539.0L552.9,1538.0L553.9,1536.9L554.9,1535.9L555.9,1534.8L557.0,1533.8L558.0,1532.7L559.0,1531.6L560.0,1530.5L561.0,1529.4L561.9,1528.3L562.9,1527.1L563.8,1525.9L564.8,1524.7L565.6,1523.4L566.5,1522.2L567.4,1520.9L568.2,1519.6L569.0,1518.3L569.7,1516.9L570.4,1515.6L571.1,1514.2L571.8,1512.8L572.4,1511.4L573.0,1510.0L573.5,1508.6L574.0,1507.2L574.5,1505.7L574.9,1504.3L575.2,1502.8L575.6,1501.4L575.8,1499.9L576.0,1498.4L576.2,1496.9L576.4,1495.5L576.5,1494.0L576.6,1492.5L576.7,1491.0L576.8,1489.5L576.9,1488.1L576.9,1486.6L577.0,1485.1L577.1,1483.6L577.2,1482.1L577.4,1480.7L577.6,1479.2L577.8,1477.8L578.0,1476.3L578.3,1474.9L578.6,1473.4L579.0,1472.0L579.5,1470.6L579.9,1469.2L580.4,1467.8L580.9,1466.3L581.4,1464.9L581.9,1463.5L582.4,1462.1L582.9,1460.6L583.3,1459.2L583.7,1457.7L584.1,1456.2L584.4,1454.7L584.7,1453.2L584.9,1451.7L585.1,1450.2L585.2,1448.6L585.3,1447.1L585.4,1445.5L585.4,1443.9L585.5,1442.4L585.5,1440.8L585.5,1439.3L585.5,1437.7L585.6,1436.2L585.6,1434.7L585.7,1433.3L585.8,1431.8L586.0,1430.4L586.2,1429.0L586.4,1427.7L586.7,1426.4L587.1,1425.1L587.5,1423.9L588.0,1422.6L588.5,1421.4L589.0,1420.1L589.5,1418.8L590.1,1417.4L590.6,1415.9L591.1,1414.4L591.5,1412.7L592.0,1410.9L592.4,1408.9L592.7,1406.8L593.0,1404.7L593.3,1402.6L593.5,1400.5L593.8,1398.7L594.2,1397.0L594.5,1395.7L595.0,1394.7L595.5,1394.1L596.0,1394.1L596.7,1394.6L597.5,1395.5L598.3,1396.9L599.2,1398.4L600.0,1400.0L600.8,1401.5L601.5,1402.9L602.2,1404.3L602.9,1405.7L603.5,1407.0L604.0,1408.3L604.6,1409.6L605.1,1410.9L605.6,1412.3L606.1,1413.7L606.6,1415.1L607.1,1416.5L607.6,1417.9L608.1,1419.3L608.6,1420.8L609.2,1422.2L609.9,1423.5L610.5,1424.9L611.3,1426.2L612.1,1427.4L612.9,1428.7L613.8,1429.9L614.7,1431.0L615.6,1432.2L616.5,1433.4L617.4,1434.6L618.2,1435.9L619.1,1437.1L620.0,1438.3L621.1,1439.4L622.2,1440.5L623.6,1441.4L625.0,1442.2L626.4,1442.7L627.7,1443.0L628.9,1442.9L629.8,1442.5L630.6,1441.8L631.2,1440.8L631.7,1439.5L632.1,1438.1L632.5,1436.5L632.7,1434.8L633.0,1433.0L633.3,1431.2L633.5,1429.3L633.9,1427.4L634.3,1425.6L634.7,1423.8L635.3,1422.2L636.1,1420.7L637.0,1419.4L638.0,1418.3L639.1,1417.2L640.2,1416.2L641.4,1415.3L642.6,1414.5L643.8,1413.6L645.0,1412.7L646.0,1411.8L647.0,1410.7L647.8,1409.6L648.6,1408.4L649.2,1407.1L649.8,1405.8L650.3,1404.4L650.7,1402.9L651.0,1401.4L651.3,1399.9L651.5,1398.3L651.7,1396.7L651.9,1395.1L652.1,1393.5L652.3,1391.9L652.4,1390.3L652.6,1388.7L652.7,1387.2L652.9,1385.6L653.1,1384.1L653.4,1382.6L653.6,1381.1L653.8,1379.6L654.1,1378.2L654.4,1376.7L654.6,1375.3L654.9,1373.8L655.2,1372.4L655.5,1370.9L655.8,1369.5L656.1,1368.1L656.5,1366.6L656.8,1365.2L657.1,1363.8L657.5,1362.3L657.8,1360.9L658.2,1359.4L658.5,1358.0L658.9,1356.5L659.2,1355.1L659.6,1353.6L660.0,1352.2L660.3,1350.7L660.7,1349.2L661.0,1347.8L661.4,1346.3L661.7,1344.9L662.1,1343.4L662.4,1341.9L662.8,1340.5L663.1,1339.0L663.5,1337.5L663.8,1336.1L664.1,1334.6L664.4,1333.1L664.7,1331.7L665.0,1330.2L665.3,1328.7L665.6,1327.2L665.9,1325.8L666.1,1324.3L666.4,1322.8L666.6,1321.3L666.9,1319.8L667.1,1318.4L667.3,1316.9L667.5,1315.4L667.7,1313.9L667.9,1312.4L668.1,1311.0L668.2,1309.5L668.4,1308.0L668.6,1306.5L668.7,1305.0L668.9,1303.5L669.0,1302.1L669.2,1300.6L669.3,1299.1L669.4,1297.6L669.6,1296.1L669.7,1294.6L669.8,1293.1L669.9,1291.7L670.0,1290.2L670.1,1288.7L670.3,1287.2L670.4,1285.7L670.5,1284.2L670.6,1282.7L670.7,1281.2L670.8,1279.7L670.9,1278.2L671.0,1276.7L671.1,1275.3L671.2,1273.8L671.4,1272.3L671.5,1270.8L671.6,1269.3L671.7,1267.8L671.8,1266.3L672.0,1264.8L672.1,1263.3L672.3,1261.8L672.4,1260.3L672.5,1258.8L672.7,1257.3L672.9,1255.8L673.0,1254.3L673.2,1252.8L673.4,1251.3L673.6,1249.8L673.8,1248.3L674.0,1246.8L674.2,1245.3L674.4,1243.9L674.6,1242.4L674.9,1240.9L675.1,1239.4L675.3,1237.9L675.6,1236.4L675.8,1234.9L676.1,1233.4L676.3,1231.9L676.6,1230.4L676.8,1228.9L677.1,1227.4L677.3,1226.0L677.5,1224.5L677.8,1223.0L678.0,1221.5L678.2,1220.1L678.5,1218.6L678.7,1217.1L678.9,1215.7L679.1,1214.2L679.3,1212.8L679.5,1211.3L679.7,1209.9L679.8,1208.4L680.0,1207.0L680.1,1205.6L680.3,1204.1L680.4,1202.7L680.6,1201.3L680.8,1199.8L681.0,1198.4L681.3,1196.9L681.6,1195.4L682.0,1193.9L682.5,1192.4L683.1,1190.8L683.8,1189.2L684.6,1187.6L685.5,1186.0L686.4,1184.7L687.3,1183.6L688.2,1183.0L689.1,1183.0L689.8,1183.6L690.5,1184.5L691.2,1185.9L691.8,1187.5L692.3,1189.3L692.8,1191.3L693.3,1193.3L693.7,1195.2L694.2,1197.0L694.6,1198.8L694.9,1200.4L695.3,1202.0L695.6,1203.5L696.0,1204.9L696.3,1206.3L696.5,1207.7L696.8,1209.0L697.1,1210.3L697.3,1211.6L697.5,1212.9L697.7,1214.3L697.9,1215.6L698.1,1217.0L698.2,1218.4L698.4,1219.8L698.5,1221.3L698.7,1222.8L698.8,1224.2L698.9,1225.7L699.1,1227.3L699.2,1228.8L699.3,1230.3L699.4,1231.8L699.6,1233.3L699.7,1234.9L699.8,1236.4L700.0,1237.9L700.1,1239.4L700.3,1240.9L700.4,1242.5L700.6,1244.0L700.8,1245.5L701.0,1247.0L701.1,1248.5L701.3,1250.0L701.5,1251.4L701.7,1252.9L701.9,1254.4L702.1,1255.9L702.3,1257.4L702.5,1258.9L702.7,1260.4L702.9,1261.8L703.1,1263.3L703.3,1264.8L703.5,1266.3L703.7,1267.7L704.0,1269.2L704.2,1270.7L704.4,1272.2L704.6,1273.6L704.8,1275.1L705.0,1276.6L705.3,1278.0L705.5,1279.5L705.7,1281.0L705.9,1282.5L706.1,1283.9L706.3,1285.4L706.5,1286.9L706.8,1288.4L707.0,1289.8L707.2,1291.3L707.4,1292.8L707.6,1294.3L707.8,1295.7L708.0,1297.2L708.2,1298.7L708.3,1300.2L708.5,1301.7L708.7,1303.2L708.9,1304.6L709.1,1306.1L709.3,1307.6L709.4,1309.1L709.6,1310.6L709.8,1312.1L710.0,1313.6L710.1,1315.1L710.3,1316.6L710.5,1318.0L710.7,1319.5L710.8,1321.0L711.0,1322.5L711.2,1324.0L711.3,1325.5L711.5,1327.0L711.7,1328.5L711.8,1330.0L712.0,1331.4L712.2,1332.9L712.3,1334.4L712.5,1335.9L712.7,1337.4L712.8,1338.9L713.0,1340.4L713.2,1341.8L713.3,1343.3L713.5,1344.8L713.7,1346.3L713.8,1347.8L714.0,1349.2L714.2,1350.7L714.3,1352.2L714.5,1353.7L714.7,1355.2L714.9,1356.6L715.0,1358.1L715.2,1359.6L715.4,1361.1L715.5,1362.6L715.7,1364.0L715.9,1365.5L716.1,1367.0L716.2,1368.5L716.4,1370.0L716.6,1371.5L716.8,1373.0L716.9,1374.5L717.1,1375.9L717.3,1377.4L717.5,1378.9L717.7,1380.4L717.8,1381.9L718.0,1383.4L718.2,1384.9L718.4,1386.4L718.6,1387.9L718.8,1389.3L719.0,1390.8L719.2,1392.3L719.4,1393.8L719.6,1395.3L719.9,1396.8L720.1,1398.3L720.3,1399.7L720.5,1401.2L720.8,1402.7L721.0,1404.2L721.2,1405.6L721.5,1407.1L721.7,1408.6L722.0,1410.1L722.3,1411.5L722.5,1413.0L722.8,1414.4L723.1,1415.9L723.4,1417.4L723.7,1418.8L723.9,1420.3L724.2,1421.7L724.5,1423.2L724.8,1424.6L725.1,1426.1L725.4,1427.5L725.7,1429.0L726.0,1430.5L726.3,1431.9L726.6,1433.4L726.9,1434.8L727.3,1436.3L727.6,1437.7L727.9,1439.2L728.1,1440.7L728.4,1442.1L728.7,1443.6L729.0,1445.1L729.3,1446.5L729.6,1448.0L729.9,1449.5L730.1,1451.0L730.4,1452.4L730.7,1453.9L730.9,1455.4L731.2,1456.9L731.5,1458.4L731.7,1459.9L732.0,1461.4L732.2,1462.9L732.5,1464.4L732.7,1465.9L733.0,1467.4L733.3,1468.9L733.6,1470.3L733.8,1471.8L734.1,1473.3L734.4,1474.8L734.7,1476.3L735.0,1477.7L735.3,1479.2L735.7,1480.7L736.0,1482.1L736.4,1483.6L736.7,1485.0L737.1,1486.4L737.5,1487.9L737.9,1489.3L738.3,1490.7L738.8,1492.1L739.2,1493.5L739.7,1494.9L740.2,1496.2L740.7,1497.6L741.2,1499.0L741.7,1500.3L742.2,1501.7L742.8,1503.0L743.3,1504.4L743.9,1505.7L744.5,1507.1L745.0,1508.4L745.6,1509.8L746.2,1511.2L746.8,1512.5L747.4,1513.9L748.0,1515.2L748.6,1516.6L749.2,1518.0L749.8,1519.4L750.4,1520.7L751.0,1522.1L751.6,1523.6L752.2,1525.0L752.8,1526.4L753.4,1527.8L754.0,1529.3L754.6,1530.7L755.2,1532.2L755.7,1533.7L756.3,1535.2L756.9,1536.7L757.4,1538.3L758.0,1539.8L758.6,1541.2L759.3,1542.6L760.0,1543.9L760.9,1545.1L761.8,1546.1L762.8,1547.1L764.0,1547.8L765.3,1548.4L766.7,1548.8L768.2,1549.0L769.7,1549.1L771.3,1549.0L772.8,1548.8L774.3,1548.5L775.7,1548.0L777.2,1547.5L778.5,1546.8L779.9,1546.1L781.2,1545.2L782.4,1544.3L783.6,1543.4L784.8,1542.3L785.9,1541.2L786.9,1540.1L787.9,1538.9L788.9,1537.7L789.8,1536.5L790.6,1535.2L791.4,1533.9L792.2,1532.6L792.9,1531.3L793.6,1529.9L794.2,1528.6L794.9,1527.2L795.5,1525.9L796.1,1524.5L796.6,1523.1L797.2,1521.7L797.8,1520.3L798.3,1518.9L798.8,1517.5L799.3,1516.1L799.9,1514.7L800.4,1513.3L800.9,1511.9L801.3,1510.5L801.8,1509.0L802.3,1507.6L802.7,1506.2L803.2,1504.8L803.6,1503.4L804.0,1501.9L804.5,1500.5L804.9,1499.1L805.3,1497.6L805.6,1496.2L806.0,1494.8L806.4,1493.3L806.7,1491.9L807.1,1490.4L807.4,1489.0L807.8,1487.5L808.1,1486.1L808.4,1484.6L808.7,1483.1L809.0,1481.7L809.2,1480.2L809.5,1478.7L809.8,1477.3L810.0,1475.8L810.3,1474.3L810.5,1472.8L810.7,1471.4L811.0,1469.9L811.2,1468.4L811.4,1466.9L811.6,1465.4L811.8,1463.9L812.0,1462.4L812.2,1461.0L812.4,1459.5L812.6,1458.0L812.9,1456.5L813.1,1455.0L813.3,1453.5L813.5,1452.0L813.7,1450.6L814.0,1449.1L814.2,1447.6L814.4,1446.1L814.7,1444.6L815.0,1443.2L815.2,1441.7L815.5,1440.2L815.8,1438.8L816.1,1437.3L816.4,1435.8L816.8,1434.4L817.1,1432.9L817.5,1431.5L817.9,1430.1L818.3,1428.6L818.7,1427.2L819.1,1425.8L819.6,1424.3L820.0,1422.9L820.5,1421.5L821.1,1420.1L821.6,1418.7L822.2,1417.3L822.7,1415.9L823.3,1414.5L823.9,1413.2L824.5,1411.8L825.1,1410.4L825.8,1409.0L826.4,1407.7L827.1,1406.3L827.7,1404.9L828.4,1403.6L829.0,1402.2L829.7,1400.8L830.3,1399.5L830.9,1398.1L831.6,1396.7L832.2,1395.4L832.8,1394.0L833.4,1392.6L834.0,1391.2L834.6,1389.9L835.2,1388.5L835.7,1387.1L836.2,1385.7L836.7,1384.3L837.2,1382.9L837.7,1381.5L838.1,1380.0L838.5,1378.6L839.0,1377.2L839.3,1375.7L839.7,1374.3L840.1,1372.9L840.4,1371.4L840.7,1370.0L841.0,1368.5L841.3,1367.1L841.6,1365.6L841.9,1364.1L842.1,1362.7L842.3,1361.2L842.6,1359.7L842.8,1358.3L843.0,1356.8L843.2,1355.3L843.4,1353.8L843.5,1352.3L843.7,1350.8L843.9,1349.3L844.0,1347.8L844.1,1346.3L844.3,1344.9L844.4,1343.4L844.5,1341.9L844.7,1340.4L844.8,1338.9L844.9,1337.3L845.0,1335.8L845.1,1334.3L845.2,1332.8L845.3,1331.3L845.4,1329.8L845.5,1328.3L845.6,1326.8L845.7,1325.3L845.8,1323.8L845.9,1322.3L846.0,1320.8L846.1,1319.3L846.2,1317.8L846.3,1316.3L846.5,1314.8L846.6,1313.3L846.7,1311.8L846.9,1310.3L847.0,1308.8L847.2,1307.3L847.3,1305.8L847.5,1304.3L847.7,1302.8L847.8,1301.3L848.0,1299.8L848.2,1298.4L848.4,1296.9L848.7,1295.4L848.9,1293.9L849.1,1292.5L849.3,1291.0L849.6,1289.5L849.8,1288.0L850.1,1286.6L850.3,1285.1L850.6,1283.6L850.8,1282.2L851.1,1280.7L851.3,1279.2L851.6,1277.8L851.9,1276.3L852.1,1274.8L852.4,1273.4L852.6,1271.9L852.9,1270.4L853.2,1269.0L853.4,1267.5L853.7,1266.0L853.9,1264.6L854.2,1263.1L854.4,1261.6L854.7,1260.2L854.9,1258.7L855.2,1257.2L855.4,1255.7L855.6,1254.3L855.8,1252.8L856.0,1251.3L856.2,1249.8L856.4,1248.3L856.6,1246.8L856.8,1245.4L857.0,1243.9L857.1,1242.4L857.3,1240.9L857.4,1239.4L857.5,1237.9L857.7,1236.4L857.8,1234.9L858.0,1233.4L858.2,1231.9L858.4,1230.4L858.6,1228.9L858.9,1227.4L859.3,1225.9L859.7,1224.5L860.2,1223.0L860.8,1221.6L861.5,1220.2L862.2,1218.8L863.1,1217.4L864.1,1216.1L865.0,1215.0L865.9,1214.1L866.7,1213.5L867.3,1213.3L867.9,1213.4L868.4,1213.7L868.7,1214.4L869.0,1215.2L869.2,1216.4L869.4,1217.7L869.5,1219.2L869.5,1220.8L869.5,1222.6L869.4,1224.6L869.3,1226.6L869.2,1228.8L869.1,1231.0L868.9,1233.2L868.8,1235.5L868.6,1237.7L868.5,1240.0L868.4,1242.2L868.3,1244.4L868.3,1246.5L868.3,1248.5L868.3,1250.4L868.4,1252.2L868.5,1253.9L868.6,1255.6L868.8,1257.1L869.0,1258.7L869.2,1260.1L869.4,1261.6L869.7,1263.0L869.9,1264.3L870.2,1265.7L870.5,1267.0L870.7,1268.3L871.0,1269.7L871.3,1271.0L871.5,1272.4L871.8,1273.7L872.0,1275.1L872.3,1276.5L872.5,1277.9L872.7,1279.3L872.9,1280.7L873.1,1282.1L873.4,1283.6L873.6,1285.0L873.8,1286.5L874.0,1287.9L874.1,1289.4L874.3,1290.9L874.5,1292.3L874.7,1293.8L874.9,1295.3L875.0,1296.8L875.2,1298.3L875.4,1299.8L875.5,1301.3L875.7,1302.8L875.8,1304.3L876.0,1305.8L876.1,1307.3L876.3,1308.9L876.4,1310.4L876.6,1311.9L876.7,1313.4L876.9,1314.9L877.0,1316.5L877.1,1318.0L877.3,1319.5L877.4,1321.0L877.5,1322.5L877.7,1324.0L877.8,1325.6L877.9,1327.1L878.1,1328.6L878.2,1330.1L878.4,1331.6L878.5,1333.1L878.6,1334.6L878.8,1336.1L878.9,1337.6L879.0,1339.1L879.1,1340.6L879.3,1342.1L879.4,1343.6L879.5,1345.1L879.7,1346.6L879.8,1348.1L879.9,1349.6L880.1,1351.1L880.2,1352.6L880.3,1354.1L880.5,1355.6L880.6,1357.1L880.7,1358.6L880.9,1360.1L881.0,1361.6L881.1,1363.1L881.3,1364.6L881.4,1366.1L881.6,1367.6L881.7,1369.1L881.8,1370.6L882.0,1372.0L882.1,1373.5L882.3,1375.0L882.4,1376.5L882.5,1378.0L882.7,1379.5L882.8,1381.0L883.0,1382.5L883.1,1383.9L883.3,1385.4L883.4,1386.9L883.6,1388.4L883.7,1389.9L883.9,1391.4L884.0,1392.8L884.2,1394.3L884.4,1395.8L884.5,1397.3L884.7,1398.8L884.8,1400.2L885.0,1401.7L885.2,1403.2L885.3,1404.7L885.5,1406.2L885.7,1407.6L885.9,1409.1L886.0,1410.6L886.2,1412.1L886.4,1413.5L886.6,1415.0L886.8,1416.5L886.9,1418.0L887.1,1419.5L887.3,1420.9L887.5,1422.4L887.7,1423.9L887.9,1425.4L888.1,1426.8L888.3,1428.3L888.5,1429.8L888.7,1431.3L889.0,1432.8L889.2,1434.2L889.4,1435.7L889.6,1437.2L889.8,1438.7L890.1,1440.1L890.3,1441.6L890.5,1443.1L890.7,1444.6L891.0,1446.0L891.2,1447.5L891.5,1449.0L891.7,1450.5L892.0,1452.0L892.2,1453.4L892.5,1454.9L892.7,1456.4L893.0,1457.9L893.3,1459.4L893.5,1460.8L893.8,1462.3L894.1,1463.8L894.3,1465.3L894.6,1466.7L894.9,1468.2L895.2,1469.7L895.5,1471.2L895.8,1472.6L896.1,1474.1L896.3,1475.6L896.6,1477.1L896.9,1478.5L897.2,1480.0L897.6,1481.5L897.9,1483.0L898.2,1484.4L898.5,1485.9L898.8,1487.4L899.1,1488.8L899.4,1490.3L899.8,1491.8L900.1,1493.3L900.4,1494.7L900.7,1496.2L901.1,1497.7L901.4,1499.1L901.7,1500.6L902.1,1502.1L902.4,1503.5L902.8,1505.0L903.1,1506.4L903.5,1507.9L903.8,1509.4L904.2,1510.8L904.5,1512.3L904.9,1513.7L905.2,1515.2L905.6,1516.6L906.0,1518.1L906.3,1519.5L906.7,1521.0L907.1,1522.4L907.4,1523.9L907.8,1525.3L908.2,1526.8L908.6,1528.2L909.0,1529.7L909.4,1531.1L909.9,1532.5L910.3,1534.0L910.7,1535.4L911.2,1536.8L911.6,1538.2L912.1,1539.6L912.6,1541.0L913.1,1542.4L913.6,1543.8L914.1,1545.2L914.7,1546.6L915.2,1548.0L915.8,1549.4L916.4,1550.8L917.0,1552.1L917.6,1553.5L918.2,1554.9L918.9,1556.2L919.5,1557.6L920.2,1558.9L920.9,1560.2L921.6,1561.6L922.4,1562.9L923.1,1564.2L923.9,1565.5L924.7,1566.7L925.5,1568.0L926.3,1569.3L927.1,1570.5L928.0,1571.8L928.9,1573.0L929.8,1574.2L930.7,1575.4L931.6,1576.6L932.6,1577.7L933.6,1578.9L934.6,1580.0L935.6,1581.2L936.6,1582.3L937.7,1583.3L938.7,1584.4L939.8,1585.5L940.9,1586.5L942.1,1587.5L943.2,1588.5L944.4,1589.5L945.5,1590.4L946.7,1591.3L947.9,1592.2L949.2,1593.1L950.4,1593.9L951.7,1594.7L952.9,1595.5L954.2,1596.3L955.5,1597.0L956.8,1597.7L958.1,1598.4L959.4,1599.0L960.8,1599.6L962.1,1600.2L963.5,1600.7L964.9,1601.2L966.3,1601.7L967.7,1602.1L969.1,1602.5L970.5,1602.9L971.9,1603.3L973.4,1603.6L974.8,1603.9L976.3,1604.2L977.7,1604.4L979.2,1604.7L980.7,1604.9L982.1,1605.1L983.6,1605.3L985.1,1605.4L986.6,1605.6L988.1,1605.7L989.6,1605.9L991.1,1606.0L992.6,1606.1L994.1,1606.2L995.6,1606.3L997.2,1606.4L998.7,1606.5L1000.2,1606.5L1001.7,1606.6L1003.2,1606.7L1004.8,1606.8L1006.3,1606.8L1007.8,1606.9L1009.3,1607.0L1010.9,1607.1L1012.4,1607.2L1013.9,1607.3L1015.4,1607.4L1016.9,1607.5L1018.4,1607.7L1019.9,1607.8L1021.4,1607.9L1022.9,1608.1L1024.4,1608.2L1025.9,1608.4L1027.4,1608.5L1028.9,1608.7L1030.4,1608.9L1031.9,1609.1L1033.4,1609.2L1034.9,1609.4L1036.4,1609.6L1037.9,1609.8L1039.3,1610.0L1040.8,1610.2L1042.3,1610.4L1043.8,1610.6L1045.3,1610.8L1046.8,1611.1L1048.2,1611.3L1049.7,1611.5L1051.2,1611.7L1052.7,1611.9L1054.1,1612.1L1055.6,1612.3L1057.1,1612.6L1058.6,1612.8L1060.0,1613.0L1061.5,1613.2L1063.0,1613.4L1064.5,1613.6L1065.9,1613.8L1067.4,1614.1L1068.9,1614.3L1070.4,1614.5L1071.9,1614.7L1073.3,1614.9L1074.8,1615.1L1076.3,1615.2L1077.8,1615.4L1079.2,1615.6L1080.7,1615.8L1082.2,1616.0L1083.7,1616.1L1085.2,1616.3L1086.6,1616.5L1088.1,1616.6L1089.6,1616.7L1091.1,1616.9L1092.6,1617.0L1094.1,1617.1L1095.6,1617.3L1097.1,1617.4L1098.6,1617.5L1100.1,1617.6L1101.5,1617.7L1103.0,1617.8L1104.5,1617.9L1106.0,1618.0L1107.5,1618.1L1109.0,1618.1L1110.5,1618.2L1112.0,1618.3L1113.5,1618.4L1115.0,1618.4L1116.5,1618.5L1118.0,1618.6L1119.5,1618.6L1121.0,1618.7L1122.5,1618.7L1124.0,1618.8L1125.5,1618.8L1127.0,1618.9L1128.5,1618.9L1130.0,1619.0L1131.5,1619.0L1133.1,1619.1L1134.6,1619.1L1136.1,1619.2L1137.6,1619.2L1139.1,1619.3L1140.6,1619.3L1142.1,1619.4L1143.6,1619.4L1145.1,1619.5L1146.6,1619.5L1148.1,1619.6L1149.6,1619.7L1151.1,1619.7L1152.6,1619.8L1154.1,1619.8L1155.6,1619.9L1157.1,1619.9L1158.6,1620.0L1160.1,1620.0L1161.6,1620.1L1163.1,1620.2L1164.6,1620.2L1166.1,1620.3L1167.6,1620.4L1169.1,1620.4L1170.6,1620.5L1172.1,1620.5L1173.6,1620.6L1175.1,1620.7L1176.6,1620.7L1178.1,1620.8L1179.6,1620.9L1181.1,1620.9L1182.6,1621.0L1184.1,1621.1L1185.6,1621.1L1187.1,1621.2L1188.6,1621.3L1190.1,1621.3L1191.6,1621.4L1193.1,1621.5L1194.5,1621.5L1196.0,1621.6L1197.5,1621.7L1199.0,1621.8L1200.5,1621.8L1202.0,1621.9L1203.5,1622.0L1205.0,1622.1L1206.5,1622.1L1208.0,1622.2L1209.5,1622.3L1211.0,1622.4L1212.5,1622.4L1214.0,1622.5L1215.5,1622.6L1217.0,1622.7L1218.5,1622.7L1220.0,1622.8L1221.5,1622.9L1223.0,1623.0L1224.5,1623.0L1226.0,1623.1L1227.5,1623.2L1229.0,1623.3L1230.5,1623.4L1232.0,1623.4L1233.5,1623.5L1235.0,1623.6L1236.4,1623.7L1237.9,1623.8L1239.4,1623.8L1240.9,1623.9L1242.4,1624.0L1243.9,1624.1L1245.4,1624.2L1246.9,1624.2L1248.4,1624.3L1249.9,1624.4L1251.4,1624.5L1252.9,1624.6L1254.4,1624.6L1255.9,1624.7L1257.4,1624.8L1258.9,1624.9L1260.4,1625.0L1261.9,1625.1L1263.4,1625.1L1264.9,1625.2L1266.4,1625.3L1267.9,1625.4L1269.4,1625.5L1270.9,1625.5L1272.4,1625.6L1273.8,1625.7L1275.3,1625.8L1276.8,1625.9L1278.3,1626.0L1279.8,1626.0L1281.3,1626.1L1282.8,1626.2L1284.3,1626.3L1285.8,1626.4L1287.3,1626.5L1288.8,1626.6L1290.3,1626.6L1291.8,1626.7L1293.3,1626.8L1294.8,1626.9L1296.3,1627.0L1297.8,1627.1L1299.3,1627.1L1300.8,1627.2L1302.3,1627.3L1303.8,1627.4L1305.3,1627.5L1306.8,1627.6L1308.3,1627.7L1309.8,1627.7L1311.3,1627.8L1312.8,1627.9L1314.3,1628.0L1315.7,1628.1L1317.2,1628.2L1318.7,1628.3L1320.2,1628.4L1321.7,1628.4L1323.2,1628.5L1324.7,1628.6L1326.2,1628.7L1327.7,1628.8L1329.2,1628.9L1330.7,1629.0L1332.2,1629.0L1333.7,1629.1L1335.2,1629.2L1336.7,1629.3L1338.2,1629.4L1339.7,1629.5L1341.2,1629.6L1342.7,1629.7L1344.2,1629.8L1345.7,1629.8L1347.2,1629.9L1348.7,1630.0L1350.2,1630.1L1351.7,1630.2L1353.2,1630.3L1354.7,1630.4L1356.2,1630.5L1357.7,1630.5L1359.2,1630.6L1360.7,1630.7L1362.1,1630.8L1363.6,1630.9L1365.1,1631.0L1366.6,1631.1L1368.1,1631.2L1369.6,1631.3L1371.1,1631.3L1372.6,1631.4L1374.1,1631.5L1375.6,1631.6L1377.1,1631.7L1378.6,1631.8L1380.1,1631.9L1381.6,1632.0L1383.1,1632.1L1384.6,1632.2L1386.1,1632.2L1387.6,1632.3L1389.1,1632.4L1390.6,1632.5L1392.1,1632.6L1393.6,1632.7L1395.1,1632.8L1396.6,1632.9L1398.1,1633.0L1399.6,1633.1L1401.1,1633.1L1402.6,1633.2L1404.1,1633.3L1405.6,1633.4L1407.1,1633.5L1408.6,1633.6L1410.0,1633.7L1411.5,1633.8L1413.0,1633.9L1414.5,1634.0L1416.0,1634.1L1417.5,1634.1L1419.0,1634.2L1420.5,1634.3L1422.0,1634.4L1423.5,1634.5L1425.0,1634.6L1426.5,1634.7L1428.0,1634.8L1429.5,1634.9L1431.0,1635.0L1432.5,1635.1L1434.0,1635.2L1435.5,1635.2L1437.0,1635.3L1438.5,1635.4L1440.0,1635.5L1441.5,1635.6L1443.0,1635.7L1444.5,1635.8L1446.0,1635.9L1447.5,1636.0L1449.0,1636.1L1450.5,1636.2L1452.0,1636.2L1453.5,1636.3L1455.0,1636.4L1456.4,1636.5L1457.9,1636.6L1459.4,1636.7L1460.9,1636.8L1462.4,1636.9L1463.9,1637.0L1465.4,1637.1L1466.9,1637.2L1468.4,1637.3L1469.9,1637.3L1471.4,1637.4L1472.9,1637.5L1474.4,1637.6L1475.9,1637.7L1477.4,1637.8L1478.9,1637.9L1480.4,1638.0L1481.9,1638.1L1483.4,1638.2L1484.9,1638.3L1486.4,1638.4L1487.9,1638.4L1489.4,1638.5L1490.9,1638.6L1492.4,1638.7L1493.9,1638.8L1495.4,1638.9L1496.9,1639.0L1498.4,1639.1L1499.9,1639.2L1501.3,1639.3L1502.8,1639.4L1504.3,1639.5L1505.8,1639.5L1507.3,1639.6L1508.8,1639.7L1510.3,1639.8L1511.8,1639.9L1513.3,1640.0L1514.8,1640.1L1516.3,1640.2L1517.8,1640.3L1519.3,1640.4L1520.8,1640.5L1522.3,1640.6L1523.8,1640.6L1525.3,1640.7L1526.8,1640.8L1528.3,1640.9L1529.8,1641.0L1531.3,1641.1L1532.8,1641.2L1534.3,1641.3L1535.8,1641.4L1537.3,1641.5L1538.8,1641.6L1540.3,1641.7L1541.7,1641.7L1543.2,1641.8L1544.7,1641.9L1546.2,1642.0L1547.7,1642.1L1549.2,1642.2L1550.7,1642.3L1552.2,1642.4L1553.7,1642.5L1555.2,1642.6L1556.7,1642.7L1558.2,1642.7L1559.7,1642.8L1561.2,1642.9L1562.7,1643.0L1564.2,1643.1L1565.7,1643.2L1567.2,1643.3L1568.7,1643.4L1570.2,1643.5L1571.7,1643.6L1573.2,1643.7L1574.7,1643.7L1576.2,1643.8L1577.7,1643.9L1579.2,1644.0L1580.7,1644.1L1582.1,1644.2L1583.6,1644.3L1585.1,1644.4L1586.6,1644.5L1588.1,1644.6L1589.6,1644.7L1591.1,1644.7L1592.6,1644.8L1594.1,1644.9L1595.6,1645.0L1597.1,1645.1L1598.6,1645.2L1600.1,1645.3L1601.6,1645.4L1603.1,1645.5L1604.6,1645.6L1606.1,1645.7L1607.6,1645.7L1609.1,1645.8L1610.6,1645.9L1612.1,1646.0L1613.6,1646.1L1615.1,1646.2L1616.6,1646.3L1618.1,1646.4L1619.6,1646.5L1621.1,1646.6L1622.5,1646.6L1624.0,1646.7L1625.5,1646.8L1627.0,1646.9L1628.5,1647.0L1630.0,1647.1L1631.5,1647.2L1633.0,1647.3L1634.5,1647.4L1636.0,1647.4L1637.5,1647.5L1639.0,1647.6L1640.5,1647.7L1642.0,1647.8L1643.5,1647.9L1645.0,1648.0L1646.5,1648.1L1648.0,1648.2L1649.5,1648.3L1651.0,1648.3L1652.5,1648.4L1654.0,1648.5L1655.5,1648.6L1657.0,1648.7L1658.5,1648.8L1660.0,1648.9L1661.5,1649.0L1662.9,1649.1L1664.4,1649.1L1665.9,1649.2L1667.4,1649.3L1668.9,1649.4L1670.4,1649.5L1671.9,1649.6L1673.4,1649.7L1674.9,1649.8L1676.4,1649.9L1677.9,1649.9L1679.4,1650.0L1680.9,1650.1L1682.4,1650.2L1683.9,1650.3L1685.4,1650.4L1686.9,1650.5L1688.4,1650.6L1689.9,1650.6L1691.4,1650.7L1692.9,1650.8L1694.4,1650.9L1695.9,1651.0L1697.4,1651.1L1698.9,1651.2L1700.4,1651.3L1701.9,1651.3L1703.4,1651.4L1704.9,1651.5L1706.3,1651.6L1707.8,1651.7L1709.3,1651.8L1710.8,1651.9L1712.3,1652.0L1713.8,1652.0L1715.3,1652.1L1716.8,1652.2L1718.3,1652.3L1719.8,1652.4L1721.3,1652.5L1722.8,1652.6L1724.3,1652.7L1725.8,1652.7L1727.3,1652.8L1728.8,1652.9L1730.3,1653.0L1731.8,1653.1L1733.3,1653.2L1734.8,1653.3L1736.3,1653.3L1737.8,1653.4L1739.3,1653.5L1740.8,1653.6L1742.3,1653.7L1743.8,1653.8L1745.3,1653.9L1746.8,1653.9L1748.3,1654.0L1749.8,1654.1L1751.3,1654.2L1752.8,1654.3L1754.2,1654.4L1755.7,1654.5L1757.2,1654.5L1758.7,1654.6L1760.2,1654.7L1761.7,1654.8L1763.2,1654.9L1764.7,1655.0L1766.2,1655.0L1767.7,1655.1L1769.2,1655.2L1770.7,1655.3L1772.2,1655.4L1773.7,1655.5L1775.2,1655.5L1776.7,1655.6L1778.2,1655.7L1779.7,1655.8L1781.2,1655.9L1782.7,1655.9L1784.2,1656.0L1785.7,1656.1L1787.2,1656.2L1788.7,1656.3L1790.2,1656.3L1791.7,1656.4L1793.2,1656.5L1794.7,1656.6L1796.2,1656.6L1797.7,1656.7L1799.2,1656.8L1800.7,1656.9L1802.2,1657.0L1803.7,1657.0L1805.2,1657.1L1806.7,1657.2L1808.1,1657.3L1809.6,1657.3L1811.1,1657.4L1812.6,1657.5L1814.1,1657.6L1815.6,1657.6L1817.1,1657.7L1818.6,1657.8L1820.1,1657.9L1821.6,1657.9L1823.1,1658.0L1824.6,1658.1L1826.1,1658.1L1827.6,1658.2L1829.1,1658.3L1830.6,1658.4L1832.1,1658.4L1833.6,1658.5L1835.1,1658.6L1836.6,1658.6L1838.1,1658.7L1839.6,1658.8L1841.1,1658.8L1842.6,1658.9L1844.1,1659.0L1845.6,1659.0L1847.1,1659.1L1848.6,1659.2L1850.1,1659.2L1851.6,1659.3L1853.1,1659.4L1854.6,1659.4L1856.1,1659.5L1857.6,1659.5L1859.1,1659.6L1860.6,1659.7L1862.1,1659.7L1863.6,1659.8L1865.1,1659.9L1866.6,1659.9L1868.1,1660.0L1869.6,1660.0L1871.1,1660.1L1872.6,1660.1L1874.1,1660.2L1875.5,1660.3L1877.0,1660.3L1878.5,1660.4L1880.0,1660.4L1881.5,1660.5L1883.0,1660.5L1884.5,1660.6L1886.0,1660.6L1887.5,1660.7L1889.0,1660.7L1890.5,1660.8L1892.0,1660.8L1893.5,1660.9L1895.0,1660.9L1896.5,1661.0L1898.0,1661.0L1899.5,1661.1L1901.0,1661.1L1902.5,1661.2L1904.0,1661.2L1905.5,1661.3L1907.0,1661.3L1908.5,1661.4L1910.0,1661.4L1911.5,1661.4L1913.0,1661.5L1914.5,1661.5L1916.0,1661.6L1917.5,1661.6L1919.0,1661.6L1920.5,1661.7L1922.0,1661.7L1923.5,1661.8L1925.0,1661.8L1926.5,1661.8L1928.0,1661.9" fill="none" stroke="#0505cc" stroke-width="4.8" stroke-dasharray="23 30"/>
<line x1="275.2" y1="49.5" x2="275.2" y2="588.1" stroke="#000" stroke-width="3.8"/>
<line x1="1928.3" y1="49.5" x2="1928.3" y2="588.1" stroke="#000" stroke-width="3.6"/>
<line x1="259.0" y1="51.5" x2="1930.3" y2="51.5" stroke="#000" stroke-width="4.5"/>
<line x1="275.2" y1="572.6" x2="1930.3" y2="572.6" stroke="#000" stroke-width="2.6"/>
<line x1="259" y1="468.4" x2="275.2" y2="468.4" stroke="#000" stroke-width="3"/>
<line x1="259" y1="364.2" x2="275.2" y2="364.2" stroke="#000" stroke-width="3"/>
<line x1="259" y1="259.9" x2="275.2" y2="259.9" stroke="#000" stroke-width="3"/>
<line x1="259" y1="155.7" x2="275.2" y2="155.7" stroke="#000" stroke-width="3"/>
<line x1="259" y1="51.5" x2="275.2" y2="51.5" stroke="#000" stroke-width="3"/>
<line x1="267.5" y1="520.5" x2="275.2" y2="520.5" stroke="#000" stroke-width="3"/>
<line x1="267.5" y1="416.3" x2="275.2" y2="416.3" stroke="#000" stroke-width="3"/>
<line x1="267.5" y1="312.1" x2="275.2" y2="312.1" stroke="#000" stroke-width="3"/>
<line x1="267.5" y1="207.8" x2="275.2" y2="207.8" stroke="#000" stroke-width="3"/>
<line x1="267.5" y1="103.6" x2="275.2" y2="103.6" stroke="#000" stroke-width="3"/>
<line x1="414.0" y1="572.6" x2="414.0" y2="580.6" stroke="#000" stroke-width="2.6"/>
<line x1="551.6" y1="572.6" x2="551.6" y2="587.1" stroke="#000" stroke-width="2.6"/>
<line x1="689.3" y1="572.6" x2="689.3" y2="580.6" stroke="#000" stroke-width="2.6"/>
<line x1="827.0" y1="572.6" x2="827.0" y2="587.1" stroke="#000" stroke-width="2.6"/>
<line x1="964.7" y1="572.6" x2="964.7" y2="580.6" stroke="#000" stroke-width="2.6"/>
<line x1="1102.3" y1="572.6" x2="1102.3" y2="587.1" stroke="#000" stroke-width="2.6"/>
<line x1="1240.0" y1="572.6" x2="1240.0" y2="580.6" stroke="#000" stroke-width="2.6"/>
<line x1="1377.7" y1="572.6" x2="1377.7" y2="587.1" stroke="#000" stroke-width="2.6"/>
<line x1="1515.4" y1="572.6" x2="1515.4" y2="580.6" stroke="#000" stroke-width="2.6"/>
<line x1="1653.0" y1="572.6" x2="1653.0" y2="587.1" stroke="#000" stroke-width="2.6"/>
<line x1="1790.7" y1="572.6" x2="1790.7" y2="580.6" stroke="#000" stroke-width="2.6"/>
<text x="250.6" y="487.6" font-size="68.5" text-anchor="end" textLength="92.5" lengthAdjust="spacingAndGlyphs" class="tl">0.2</text>
<text x="250.6" y="383.4" font-size="68.5" text-anchor="end" textLength="92.5" lengthAdjust="spacingAndGlyphs" class="tl">0.4</text>
<text x="250.6" y="279.1" font-size="68.5" text-anchor="end" textLength="92.5" lengthAdjust="spacingAndGlyphs" class="tl">0.6</text>
<text x="250.6" y="174.9" font-size="68.5" text-anchor="end" textLength="92.5" lengthAdjust="spacingAndGlyphs" class="tl">0.8</text>
<text x="250.6" y="70.7" font-size="68.5" text-anchor="end" textLength="92.5" lengthAdjust="spacingAndGlyphs" class="tl">1.0</text>
<text x="92.3" y="311.0" font-size="80" text-anchor="middle" transform="rotate(-90 92.3 311.0)">Reflectance</text>
<line x1="275.2" y1="608.0" x2="275.2" y2="1126.7" stroke="#000" stroke-width="3.8"/>
<line x1="1928.3" y1="608.0" x2="1928.3" y2="1126.7" stroke="#000" stroke-width="3.6"/>
<line x1="259.0" y1="610.0" x2="1930.3" y2="610.0" stroke="#000" stroke-width="3.2"/>
<line x1="275.2" y1="1111.2" x2="1930.3" y2="1111.2" stroke="#000" stroke-width="3.0"/>
<line x1="259" y1="1011.0" x2="275.2" y2="1011.0" stroke="#000" stroke-width="3"/>
<line x1="259" y1="910.7" x2="275.2" y2="910.7" stroke="#000" stroke-width="3"/>
<line x1="259" y1="810.5" x2="275.2" y2="810.5" stroke="#000" stroke-width="3"/>
<line x1="259" y1="710.2" x2="275.2" y2="710.2" stroke="#000" stroke-width="3"/>
<line x1="259" y1="610.0" x2="275.2" y2="610.0" stroke="#000" stroke-width="3"/>
<line x1="267.5" y1="1061.1" x2="275.2" y2="1061.1" stroke="#000" stroke-width="3"/>
<line x1="267.5" y1="960.8" x2="275.2" y2="960.8" stroke="#000" stroke-width="3"/>
<line x1="267.5" y1="860.6" x2="275.2" y2="860.6" stroke="#000" stroke-width="3"/>
<line x1="267.5" y1="760.4" x2="275.2" y2="760.4" stroke="#000" stroke-width="3"/>
<line x1="267.5" y1="660.1" x2="275.2" y2="660.1" stroke="#000" stroke-width="3"/>
<line x1="414.0" y1="1111.2" x2="414.0" y2="1119.2" stroke="#000" stroke-width="2.6"/>
<line x1="551.6" y1="1111.2" x2="551.6" y2="1125.7" stroke="#000" stroke-width="2.6"/>
<line x1="689.3" y1="1111.2" x2="689.3" y2="1119.2" stroke="#000" stroke-width="2.6"/>
<line x1="827.0" y1="1111.2" x2="827.0" y2="1125.7" stroke="#000" stroke-width="2.6"/>
<line x1="964.7" y1="1111.2" x2="964.7" y2="1119.2" stroke="#000" stroke-width="2.6"/>
<line x1="1102.3" y1="1111.2" x2="1102.3" y2="1125.7" stroke="#000" stroke-width="2.6"/>
<line x1="1240.0" y1="1111.2" x2="1240.0" y2="1119.2" stroke="#000" stroke-width="2.6"/>
<line x1="1377.7" y1="1111.2" x2="1377.7" y2="1125.7" stroke="#000" stroke-width="2.6"/>
<line x1="1515.4" y1="1111.2" x2="1515.4" y2="1119.2" stroke="#000" stroke-width="2.6"/>
<line x1="1653.0" y1="1111.2" x2="1653.0" y2="1125.7" stroke="#000" stroke-width="2.6"/>
<line x1="1790.7" y1="1111.2" x2="1790.7" y2="1119.2" stroke="#000" stroke-width="2.6"/>
<text x="250.6" y="1030.2" font-size="68.5" text-anchor="end" textLength="92.5" lengthAdjust="spacingAndGlyphs" class="tl">0.2</text>
<text x="250.6" y="929.9" font-size="68.5" text-anchor="end" textLength="92.5" lengthAdjust="spacingAndGlyphs" class="tl">0.4</text>
<text x="250.6" y="829.7" font-size="68.5" text-anchor="end" textLength="92.5" lengthAdjust="spacingAndGlyphs" class="tl">0.6</text>
<text x="250.6" y="729.4" font-size="68.5" text-anchor="end" textLength="92.5" lengthAdjust="spacingAndGlyphs" class="tl">0.8</text>
<text x="250.6" y="629.2" font-size="68.5" text-anchor="end" textLength="92.5" lengthAdjust="spacingAndGlyphs" class="tl">1.0</text>
<text x="86.5" y="860.8" font-size="80" text-anchor="middle" transform="rotate(-90 86.5 860.8)">Transmittance</text>
<line x1="275.2" y1="1166.6" x2="275.2" y2="1703.3" stroke="#000" stroke-width="3.8"/>
<line x1="1928.3" y1="1166.6" x2="1928.3" y2="1703.3" stroke="#000" stroke-width="3.6"/>
<line x1="259.0" y1="1168.6" x2="1930.3" y2="1168.6" stroke="#000" stroke-width="3.0"/>
<line x1="275.2" y1="1687.8" x2="1930.3" y2="1687.8" stroke="#000" stroke-width="2.8"/>
<line x1="259" y1="1687.8" x2="275.2" y2="1687.8" stroke="#000" stroke-width="3"/>
<line x1="259" y1="1514.7" x2="275.2" y2="1514.7" stroke="#000" stroke-width="3"/>
<line x1="259" y1="1341.7" x2="275.2" y2="1341.7" stroke="#000" stroke-width="3"/>
<line x1="259" y1="1168.6" x2="275.2" y2="1168.6" stroke="#000" stroke-width="3"/>
<line x1="267.5" y1="1601.3" x2="275.2" y2="1601.3" stroke="#000" stroke-width="3"/>
<line x1="267.5" y1="1428.2" x2="275.2" y2="1428.2" stroke="#000" stroke-width="3"/>
<line x1="267.5" y1="1255.1" x2="275.2" y2="1255.1" stroke="#000" stroke-width="3"/>
<line x1="414.0" y1="1687.8" x2="414.0" y2="1695.8" stroke="#000" stroke-width="2.6"/>
<line x1="551.6" y1="1687.8" x2="551.6" y2="1702.3" stroke="#000" stroke-width="2.6"/>
<line x1="689.3" y1="1687.8" x2="689.3" y2="1695.8" stroke="#000" stroke-width="2.6"/>
<line x1="827.0" y1="1687.8" x2="827.0" y2="1702.3" stroke="#000" stroke-width="2.6"/>
<line x1="964.7" y1="1687.8" x2="964.7" y2="1695.8" stroke="#000" stroke-width="2.6"/>
<line x1="1102.3" y1="1687.8" x2="1102.3" y2="1702.3" stroke="#000" stroke-width="2.6"/>
<line x1="1240.0" y1="1687.8" x2="1240.0" y2="1695.8" stroke="#000" stroke-width="2.6"/>
<line x1="1377.7" y1="1687.8" x2="1377.7" y2="1702.3" stroke="#000" stroke-width="2.6"/>
<line x1="1515.4" y1="1687.8" x2="1515.4" y2="1695.8" stroke="#000" stroke-width="2.6"/>
<line x1="1653.0" y1="1687.8" x2="1653.0" y2="1702.3" stroke="#000" stroke-width="2.6"/>
<line x1="1790.7" y1="1687.8" x2="1790.7" y2="1695.8" stroke="#000" stroke-width="2.6"/>
<text x="250.6" y="1707.0" font-size="68.5" text-anchor="end" textLength="92.5" lengthAdjust="spacingAndGlyphs" class="tl">0.0</text>
<text x="250.6" y="1533.9" font-size="68.5" text-anchor="end" textLength="92.5" lengthAdjust="spacingAndGlyphs" class="tl">0.2</text>
<text x="250.6" y="1360.9" font-size="68.5" text-anchor="end" textLength="92.5" lengthAdjust="spacingAndGlyphs" class="tl">0.4</text>
<text x="250.6" y="1187.8" font-size="68.5" text-anchor="end" textLength="92.5" lengthAdjust="spacingAndGlyphs" class="tl">0.6</text>
<text x="93.2" y="1429.4" font-size="80" text-anchor="middle" transform="rotate(-90 93.2 1429.4)">Absorbance</text>
<text x="276.3" y="1766.3" font-size="68.5" text-anchor="middle" textLength="111.4" lengthAdjust="spacingAndGlyphs" class="tl">300</text>
<text x="551.6" y="1766.3" font-size="68.5" text-anchor="middle" textLength="111.4" lengthAdjust="spacingAndGlyphs" class="tl">400</text>
<text x="827.0" y="1766.3" font-size="68.5" text-anchor="middle" textLength="111.4" lengthAdjust="spacingAndGlyphs" class="tl">500</text>
<text x="1102.3" y="1766.3" font-size="68.5" text-anchor="middle" textLength="111.4" lengthAdjust="spacingAndGlyphs" class="tl">600</text>
<text x="1377.7" y="1766.3" font-size="68.5" text-anchor="middle" textLength="111.4" lengthAdjust="spacingAndGlyphs" class="tl">700</text>
<text x="1653.0" y="1766.3" font-size="68.5" text-anchor="middle" textLength="111.4" lengthAdjust="spacingAndGlyphs" class="tl">800</text>
<text x="1928.4" y="1766.3" font-size="68.5" text-anchor="middle" textLength="111.4" lengthAdjust="spacingAndGlyphs" class="tl">900</text>
<text x="990.0" y="1848" font-size="81" font-family="Liberation Serif" style="font-family:'Liberation Serif',serif">λ</text>
<text x="1052.3" y="1847" font-size="79" textLength="166.2" lengthAdjust="spacingAndGlyphs">(nm)</text>
<rect x="296" y="67" width="329" height="143.5" fill="#fff" stroke="none"/>
<line x1="296" y1="90.3" x2="389.6" y2="90.3" stroke="#000" stroke-width="4.6"/>
<line x1="294.3" y1="140" x2="385" y2="140" stroke="#dd1418" stroke-width="6.5" stroke-dasharray="6.3 9.8"/>
<line x1="296" y1="188.6" x2="375" y2="188.6" stroke="#0505cc" stroke-width="5" stroke-dasharray="23.5 27.5"/>
<text x="397.8" y="103.7" font-size="38.5" textLength="230.8" lengthAdjust="spacingAndGlyphs" class="lg">Homeotropic</text>
<text x="397.8" y="152.6" font-size="38.5" textLength="145" lengthAdjust="spacingAndGlyphs" class="lg">Planar x</text>
<text x="397.8" y="203.5" font-size="38.5" textLength="145" lengthAdjust="spacingAndGlyphs" class="lg">Planar y</text>
<line x1="296" y1="67" x2="625" y2="67" stroke="#777" stroke-width="2"/>
<line x1="296" y1="210" x2="625" y2="210" stroke="#999" stroke-width="1.6"/>
<line x1="296" y1="66" x2="296" y2="211" stroke="#444" stroke-width="2.2"/>
<line x1="625" y1="66" x2="625" y2="211" stroke="#111" stroke-width="2.4"/>
</svg></body></html>
